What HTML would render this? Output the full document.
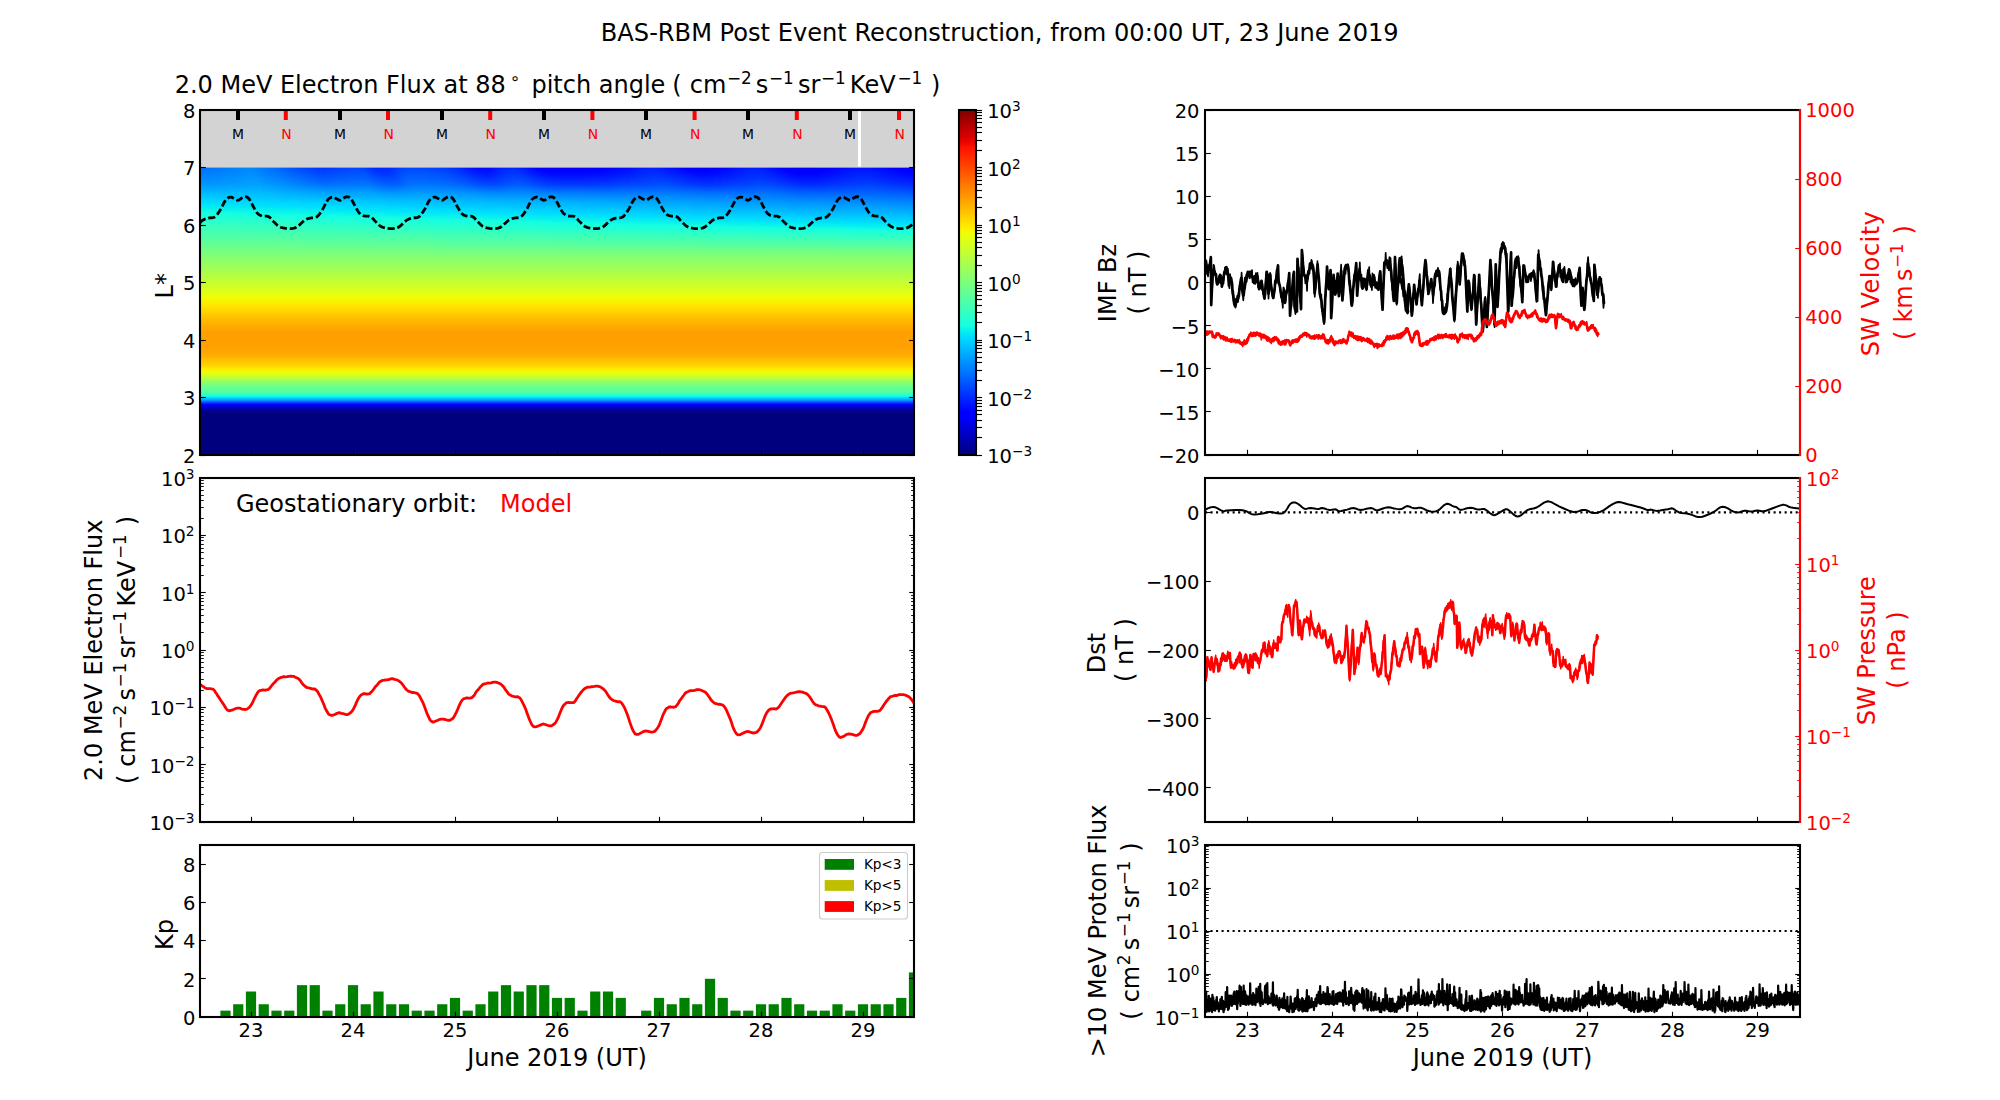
<!DOCTYPE html>
<html><head><meta charset="utf-8"><title>BAS-RBM Post Event Reconstruction</title>
<style>html,body{margin:0;padding:0;background:#fff}svg{display:block}</style></head>
<body>
<svg width="2000" height="1100" viewBox="0 0 2000 1100" font-family='"DejaVu Sans", "Liberation Sans", sans-serif'>
<rect width="2000" height="1100" fill="#fff"/>
<defs>
<linearGradient id="hm" x1="0" y1="0" x2="0" y2="1">
<stop offset="0.0000" stop-color="#2d2d2d"/>
<stop offset="0.0067" stop-color="#2e2e2e"/>
<stop offset="0.0133" stop-color="#2f2f2f"/>
<stop offset="0.0200" stop-color="#313131"/>
<stop offset="0.0267" stop-color="#323232"/>
<stop offset="0.0333" stop-color="#343434"/>
<stop offset="0.0400" stop-color="#353535"/>
<stop offset="0.0467" stop-color="#373737"/>
<stop offset="0.0533" stop-color="#383838"/>
<stop offset="0.0600" stop-color="#3a3a3a"/>
<stop offset="0.0667" stop-color="#3c3c3c"/>
<stop offset="0.0733" stop-color="#3d3d3d"/>
<stop offset="0.0800" stop-color="#3f3f3f"/>
<stop offset="0.0867" stop-color="#414141"/>
<stop offset="0.0933" stop-color="#424242"/>
<stop offset="0.1000" stop-color="#444444"/>
<stop offset="0.1067" stop-color="#464646"/>
<stop offset="0.1133" stop-color="#474747"/>
<stop offset="0.1200" stop-color="#494949"/>
<stop offset="0.1267" stop-color="#4b4b4b"/>
<stop offset="0.1333" stop-color="#4c4c4c"/>
<stop offset="0.1400" stop-color="#4e4e4e"/>
<stop offset="0.1467" stop-color="#505050"/>
<stop offset="0.1533" stop-color="#515151"/>
<stop offset="0.1600" stop-color="#535353"/>
<stop offset="0.1667" stop-color="#555555"/>
<stop offset="0.1733" stop-color="#575757"/>
<stop offset="0.1800" stop-color="#585858"/>
<stop offset="0.1867" stop-color="#5a5a5a"/>
<stop offset="0.1933" stop-color="#5c5c5c"/>
<stop offset="0.2000" stop-color="#5e5e5e"/>
<stop offset="0.2067" stop-color="#606060"/>
<stop offset="0.2133" stop-color="#626262"/>
<stop offset="0.2200" stop-color="#646464"/>
<stop offset="0.2267" stop-color="#666666"/>
<stop offset="0.2333" stop-color="#686868"/>
<stop offset="0.2400" stop-color="#6b6b6b"/>
<stop offset="0.2467" stop-color="#6d6d6d"/>
<stop offset="0.2533" stop-color="#6f6f6f"/>
<stop offset="0.2600" stop-color="#727272"/>
<stop offset="0.2667" stop-color="#747474"/>
<stop offset="0.2733" stop-color="#767676"/>
<stop offset="0.2800" stop-color="#797979"/>
<stop offset="0.2867" stop-color="#7b7b7b"/>
<stop offset="0.2933" stop-color="#7d7d7d"/>
<stop offset="0.3000" stop-color="#808080"/>
<stop offset="0.3067" stop-color="#818181"/>
<stop offset="0.3133" stop-color="#838383"/>
<stop offset="0.3200" stop-color="#848484"/>
<stop offset="0.3267" stop-color="#868686"/>
<stop offset="0.3333" stop-color="#878787"/>
<stop offset="0.3400" stop-color="#898989"/>
<stop offset="0.3467" stop-color="#8a8a8a"/>
<stop offset="0.3533" stop-color="#8c8c8c"/>
<stop offset="0.3600" stop-color="#8d8d8d"/>
<stop offset="0.3667" stop-color="#8f8f8f"/>
<stop offset="0.3733" stop-color="#909090"/>
<stop offset="0.3800" stop-color="#929292"/>
<stop offset="0.3867" stop-color="#939393"/>
<stop offset="0.3933" stop-color="#959595"/>
<stop offset="0.4000" stop-color="#979797"/>
<stop offset="0.4067" stop-color="#989898"/>
<stop offset="0.4133" stop-color="#9a9a9a"/>
<stop offset="0.4200" stop-color="#9b9b9b"/>
<stop offset="0.4267" stop-color="#9d9d9d"/>
<stop offset="0.4333" stop-color="#9f9f9f"/>
<stop offset="0.4400" stop-color="#a0a0a0"/>
<stop offset="0.4467" stop-color="#a2a2a2"/>
<stop offset="0.4533" stop-color="#a4a4a4"/>
<stop offset="0.4600" stop-color="#a5a5a5"/>
<stop offset="0.4667" stop-color="#a7a7a7"/>
<stop offset="0.4733" stop-color="#a8a8a8"/>
<stop offset="0.4800" stop-color="#aaaaaa"/>
<stop offset="0.4867" stop-color="#ababab"/>
<stop offset="0.4933" stop-color="#adadad"/>
<stop offset="0.5000" stop-color="#aeaeae"/>
<stop offset="0.5067" stop-color="#b0b0b0"/>
<stop offset="0.5133" stop-color="#b2b2b2"/>
<stop offset="0.5200" stop-color="#b3b3b3"/>
<stop offset="0.5267" stop-color="#b5b5b5"/>
<stop offset="0.5333" stop-color="#b6b6b6"/>
<stop offset="0.5400" stop-color="#b7b7b7"/>
<stop offset="0.5467" stop-color="#b9b9b9"/>
<stop offset="0.5533" stop-color="#bababa"/>
<stop offset="0.5600" stop-color="#bbbbbb"/>
<stop offset="0.5667" stop-color="#bcbcbc"/>
<stop offset="0.5733" stop-color="#bdbdbd"/>
<stop offset="0.5800" stop-color="#bdbdbd"/>
<stop offset="0.5867" stop-color="#bdbdbd"/>
<stop offset="0.5933" stop-color="#bdbdbd"/>
<stop offset="0.6000" stop-color="#bdbdbd"/>
<stop offset="0.6067" stop-color="#bdbdbd"/>
<stop offset="0.6133" stop-color="#bdbdbd"/>
<stop offset="0.6200" stop-color="#bdbdbd"/>
<stop offset="0.6267" stop-color="#bcbcbc"/>
<stop offset="0.6333" stop-color="#bcbcbc"/>
<stop offset="0.6400" stop-color="#bbbbbb"/>
<stop offset="0.6467" stop-color="#bababa"/>
<stop offset="0.6533" stop-color="#b9b9b9"/>
<stop offset="0.6600" stop-color="#b7b7b7"/>
<stop offset="0.6667" stop-color="#b5b5b5"/>
<stop offset="0.6733" stop-color="#b3b3b3"/>
<stop offset="0.6800" stop-color="#b2b2b2"/>
<stop offset="0.6867" stop-color="#afafaf"/>
<stop offset="0.6933" stop-color="#acacac"/>
<stop offset="0.7000" stop-color="#a9a9a9"/>
<stop offset="0.7067" stop-color="#a6a6a6"/>
<stop offset="0.7133" stop-color="#a2a2a2"/>
<stop offset="0.7200" stop-color="#9d9d9d"/>
<stop offset="0.7267" stop-color="#979797"/>
<stop offset="0.7333" stop-color="#929292"/>
<stop offset="0.7400" stop-color="#8c8c8c"/>
<stop offset="0.7467" stop-color="#858585"/>
<stop offset="0.7533" stop-color="#7f7f7f"/>
<stop offset="0.7600" stop-color="#7c7c7c"/>
<stop offset="0.7667" stop-color="#797979"/>
<stop offset="0.7733" stop-color="#767676"/>
<stop offset="0.7800" stop-color="#737373"/>
<stop offset="0.7867" stop-color="#6b6b6b"/>
<stop offset="0.7933" stop-color="#636363"/>
<stop offset="0.8000" stop-color="#585858"/>
<stop offset="0.8067" stop-color="#4b4b4b"/>
<stop offset="0.8133" stop-color="#3d3d3d"/>
<stop offset="0.8200" stop-color="#2a2a2a"/>
<stop offset="0.8267" stop-color="#1a1a1a"/>
<stop offset="0.8333" stop-color="#111111"/>
<stop offset="0.8400" stop-color="#090909"/>
<stop offset="0.8467" stop-color="#030303"/>
<stop offset="0.8533" stop-color="#000000"/>
<stop offset="0.8600" stop-color="#000000"/>
<stop offset="0.8667" stop-color="#000000"/>
<stop offset="0.8733" stop-color="#000000"/>
<stop offset="0.8800" stop-color="#000000"/>
<stop offset="0.8867" stop-color="#000000"/>
<stop offset="0.8933" stop-color="#000000"/>
<stop offset="0.9000" stop-color="#000000"/>
<stop offset="0.9067" stop-color="#000000"/>
<stop offset="0.9133" stop-color="#000000"/>
<stop offset="0.9200" stop-color="#000000"/>
<stop offset="0.9267" stop-color="#000000"/>
<stop offset="0.9333" stop-color="#000000"/>
<stop offset="0.9400" stop-color="#000000"/>
<stop offset="0.9467" stop-color="#000000"/>
<stop offset="0.9533" stop-color="#000000"/>
<stop offset="0.9600" stop-color="#000000"/>
<stop offset="0.9667" stop-color="#000000"/>
<stop offset="0.9733" stop-color="#000000"/>
<stop offset="0.9800" stop-color="#000000"/>
<stop offset="0.9867" stop-color="#000000"/>
<stop offset="0.9933" stop-color="#000000"/>
<stop offset="1.0000" stop-color="#000000"/>
</linearGradient>
<linearGradient id="c0" x1="0" y1="0" x2="0" y2="1">
<stop offset="0.00" stop-color="#3b3b3b"/>
<stop offset="0.10" stop-color="#404040"/>
<stop offset="0.20" stop-color="#464646"/>
<stop offset="0.30" stop-color="#4f4f4f"/>
<stop offset="0.40" stop-color="#575757"/>
<stop offset="0.50" stop-color="#5e5e5e"/>
<stop offset="0.60" stop-color="#656565"/>
<stop offset="0.70" stop-color="#6c6c6c"/>
<stop offset="0.80" stop-color="#727272"/>
<stop offset="0.90" stop-color="#797979"/>
<stop offset="1.00" stop-color="#808080"/>
</linearGradient>
<linearGradient id="c1" x1="0" y1="0" x2="0" y2="1">
<stop offset="0.00" stop-color="#3b3b3b"/>
<stop offset="0.10" stop-color="#404040"/>
<stop offset="0.20" stop-color="#464646"/>
<stop offset="0.30" stop-color="#4f4f4f"/>
<stop offset="0.40" stop-color="#575757"/>
<stop offset="0.50" stop-color="#5e5e5e"/>
<stop offset="0.60" stop-color="#656565"/>
<stop offset="0.70" stop-color="#6c6c6c"/>
<stop offset="0.80" stop-color="#727272"/>
<stop offset="0.90" stop-color="#797979"/>
<stop offset="1.00" stop-color="#808080"/>
</linearGradient>
<linearGradient id="c2" x1="0" y1="0" x2="0" y2="1">
<stop offset="0.00" stop-color="#3b3b3b"/>
<stop offset="0.10" stop-color="#404040"/>
<stop offset="0.20" stop-color="#464646"/>
<stop offset="0.30" stop-color="#4f4f4f"/>
<stop offset="0.40" stop-color="#575757"/>
<stop offset="0.50" stop-color="#5e5e5e"/>
<stop offset="0.60" stop-color="#656565"/>
<stop offset="0.70" stop-color="#6c6c6c"/>
<stop offset="0.80" stop-color="#727272"/>
<stop offset="0.90" stop-color="#797979"/>
<stop offset="1.00" stop-color="#808080"/>
</linearGradient>
<linearGradient id="c3" x1="0" y1="0" x2="0" y2="1">
<stop offset="0.00" stop-color="#3b3b3b"/>
<stop offset="0.10" stop-color="#404040"/>
<stop offset="0.20" stop-color="#464646"/>
<stop offset="0.30" stop-color="#4f4f4f"/>
<stop offset="0.40" stop-color="#575757"/>
<stop offset="0.50" stop-color="#5e5e5e"/>
<stop offset="0.60" stop-color="#656565"/>
<stop offset="0.70" stop-color="#6c6c6c"/>
<stop offset="0.80" stop-color="#727272"/>
<stop offset="0.90" stop-color="#797979"/>
<stop offset="1.00" stop-color="#808080"/>
</linearGradient>
<linearGradient id="c4" x1="0" y1="0" x2="0" y2="1">
<stop offset="0.00" stop-color="#3b3b3b"/>
<stop offset="0.10" stop-color="#404040"/>
<stop offset="0.20" stop-color="#464646"/>
<stop offset="0.30" stop-color="#4f4f4f"/>
<stop offset="0.40" stop-color="#575757"/>
<stop offset="0.50" stop-color="#5e5e5e"/>
<stop offset="0.60" stop-color="#656565"/>
<stop offset="0.70" stop-color="#6c6c6c"/>
<stop offset="0.80" stop-color="#727272"/>
<stop offset="0.90" stop-color="#797979"/>
<stop offset="1.00" stop-color="#808080"/>
</linearGradient>
<linearGradient id="c5" x1="0" y1="0" x2="0" y2="1">
<stop offset="0.00" stop-color="#3c3c3c"/>
<stop offset="0.10" stop-color="#414141"/>
<stop offset="0.20" stop-color="#464646"/>
<stop offset="0.30" stop-color="#4f4f4f"/>
<stop offset="0.40" stop-color="#565656"/>
<stop offset="0.50" stop-color="#5d5d5d"/>
<stop offset="0.60" stop-color="#656565"/>
<stop offset="0.70" stop-color="#6c6c6c"/>
<stop offset="0.80" stop-color="#727272"/>
<stop offset="0.90" stop-color="#797979"/>
<stop offset="1.00" stop-color="#808080"/>
</linearGradient>
<linearGradient id="c6" x1="0" y1="0" x2="0" y2="1">
<stop offset="0.00" stop-color="#3e3e3e"/>
<stop offset="0.10" stop-color="#424242"/>
<stop offset="0.20" stop-color="#474747"/>
<stop offset="0.30" stop-color="#4f4f4f"/>
<stop offset="0.40" stop-color="#565656"/>
<stop offset="0.50" stop-color="#5d5d5d"/>
<stop offset="0.60" stop-color="#646464"/>
<stop offset="0.70" stop-color="#6b6b6b"/>
<stop offset="0.80" stop-color="#727272"/>
<stop offset="0.90" stop-color="#797979"/>
<stop offset="1.00" stop-color="#808080"/>
</linearGradient>
<linearGradient id="c7" x1="0" y1="0" x2="0" y2="1">
<stop offset="0.00" stop-color="#404040"/>
<stop offset="0.10" stop-color="#434343"/>
<stop offset="0.20" stop-color="#484848"/>
<stop offset="0.30" stop-color="#4f4f4f"/>
<stop offset="0.40" stop-color="#565656"/>
<stop offset="0.50" stop-color="#5d5d5d"/>
<stop offset="0.60" stop-color="#646464"/>
<stop offset="0.70" stop-color="#6b6b6b"/>
<stop offset="0.80" stop-color="#727272"/>
<stop offset="0.90" stop-color="#797979"/>
<stop offset="1.00" stop-color="#808080"/>
</linearGradient>
<linearGradient id="c8" x1="0" y1="0" x2="0" y2="1">
<stop offset="0.00" stop-color="#424242"/>
<stop offset="0.10" stop-color="#454545"/>
<stop offset="0.20" stop-color="#494949"/>
<stop offset="0.30" stop-color="#4f4f4f"/>
<stop offset="0.40" stop-color="#555555"/>
<stop offset="0.50" stop-color="#5c5c5c"/>
<stop offset="0.60" stop-color="#646464"/>
<stop offset="0.70" stop-color="#6b6b6b"/>
<stop offset="0.80" stop-color="#727272"/>
<stop offset="0.90" stop-color="#797979"/>
<stop offset="1.00" stop-color="#808080"/>
</linearGradient>
<linearGradient id="c9" x1="0" y1="0" x2="0" y2="1">
<stop offset="0.00" stop-color="#3e3e3e"/>
<stop offset="0.10" stop-color="#414141"/>
<stop offset="0.20" stop-color="#464646"/>
<stop offset="0.30" stop-color="#4e4e4e"/>
<stop offset="0.40" stop-color="#555555"/>
<stop offset="0.50" stop-color="#5c5c5c"/>
<stop offset="0.60" stop-color="#636363"/>
<stop offset="0.70" stop-color="#6a6a6a"/>
<stop offset="0.80" stop-color="#717171"/>
<stop offset="0.90" stop-color="#787878"/>
<stop offset="1.00" stop-color="#808080"/>
</linearGradient>
<linearGradient id="c10" x1="0" y1="0" x2="0" y2="1">
<stop offset="0.00" stop-color="#3a3a3a"/>
<stop offset="0.10" stop-color="#3e3e3e"/>
<stop offset="0.20" stop-color="#444444"/>
<stop offset="0.30" stop-color="#4c4c4c"/>
<stop offset="0.40" stop-color="#545454"/>
<stop offset="0.50" stop-color="#5c5c5c"/>
<stop offset="0.60" stop-color="#636363"/>
<stop offset="0.70" stop-color="#6a6a6a"/>
<stop offset="0.80" stop-color="#717171"/>
<stop offset="0.90" stop-color="#787878"/>
<stop offset="1.00" stop-color="#808080"/>
</linearGradient>
<linearGradient id="c11" x1="0" y1="0" x2="0" y2="1">
<stop offset="0.00" stop-color="#353535"/>
<stop offset="0.10" stop-color="#3a3a3a"/>
<stop offset="0.20" stop-color="#414141"/>
<stop offset="0.30" stop-color="#4b4b4b"/>
<stop offset="0.40" stop-color="#545454"/>
<stop offset="0.50" stop-color="#5b5b5b"/>
<stop offset="0.60" stop-color="#626262"/>
<stop offset="0.70" stop-color="#6a6a6a"/>
<stop offset="0.80" stop-color="#717171"/>
<stop offset="0.90" stop-color="#787878"/>
<stop offset="1.00" stop-color="#808080"/>
</linearGradient>
<linearGradient id="c12" x1="0" y1="0" x2="0" y2="1">
<stop offset="0.00" stop-color="#313131"/>
<stop offset="0.10" stop-color="#373737"/>
<stop offset="0.20" stop-color="#3e3e3e"/>
<stop offset="0.30" stop-color="#4a4a4a"/>
<stop offset="0.40" stop-color="#535353"/>
<stop offset="0.50" stop-color="#5b5b5b"/>
<stop offset="0.60" stop-color="#626262"/>
<stop offset="0.70" stop-color="#696969"/>
<stop offset="0.80" stop-color="#717171"/>
<stop offset="0.90" stop-color="#787878"/>
<stop offset="1.00" stop-color="#808080"/>
</linearGradient>
<linearGradient id="c13" x1="0" y1="0" x2="0" y2="1">
<stop offset="0.00" stop-color="#2d2d2d"/>
<stop offset="0.10" stop-color="#333333"/>
<stop offset="0.20" stop-color="#3c3c3c"/>
<stop offset="0.30" stop-color="#494949"/>
<stop offset="0.40" stop-color="#535353"/>
<stop offset="0.50" stop-color="#5a5a5a"/>
<stop offset="0.60" stop-color="#626262"/>
<stop offset="0.70" stop-color="#696969"/>
<stop offset="0.80" stop-color="#717171"/>
<stop offset="0.90" stop-color="#787878"/>
<stop offset="1.00" stop-color="#808080"/>
</linearGradient>
<linearGradient id="c14" x1="0" y1="0" x2="0" y2="1">
<stop offset="0.00" stop-color="#2f2f2f"/>
<stop offset="0.10" stop-color="#353535"/>
<stop offset="0.20" stop-color="#3d3d3d"/>
<stop offset="0.30" stop-color="#494949"/>
<stop offset="0.40" stop-color="#535353"/>
<stop offset="0.50" stop-color="#5a5a5a"/>
<stop offset="0.60" stop-color="#616161"/>
<stop offset="0.70" stop-color="#696969"/>
<stop offset="0.80" stop-color="#707070"/>
<stop offset="0.90" stop-color="#787878"/>
<stop offset="1.00" stop-color="#808080"/>
</linearGradient>
<linearGradient id="c15" x1="0" y1="0" x2="0" y2="1">
<stop offset="0.00" stop-color="#313131"/>
<stop offset="0.10" stop-color="#363636"/>
<stop offset="0.20" stop-color="#3e3e3e"/>
<stop offset="0.30" stop-color="#494949"/>
<stop offset="0.40" stop-color="#525252"/>
<stop offset="0.50" stop-color="#5a5a5a"/>
<stop offset="0.60" stop-color="#616161"/>
<stop offset="0.70" stop-color="#696969"/>
<stop offset="0.80" stop-color="#707070"/>
<stop offset="0.90" stop-color="#787878"/>
<stop offset="1.00" stop-color="#808080"/>
</linearGradient>
<linearGradient id="c16" x1="0" y1="0" x2="0" y2="1">
<stop offset="0.00" stop-color="#323232"/>
<stop offset="0.10" stop-color="#373737"/>
<stop offset="0.20" stop-color="#3e3e3e"/>
<stop offset="0.30" stop-color="#494949"/>
<stop offset="0.40" stop-color="#525252"/>
<stop offset="0.50" stop-color="#595959"/>
<stop offset="0.60" stop-color="#616161"/>
<stop offset="0.70" stop-color="#686868"/>
<stop offset="0.80" stop-color="#707070"/>
<stop offset="0.90" stop-color="#787878"/>
<stop offset="1.00" stop-color="#808080"/>
</linearGradient>
<linearGradient id="c17" x1="0" y1="0" x2="0" y2="1">
<stop offset="0.00" stop-color="#292929"/>
<stop offset="0.10" stop-color="#303030"/>
<stop offset="0.20" stop-color="#393939"/>
<stop offset="0.30" stop-color="#464646"/>
<stop offset="0.40" stop-color="#515151"/>
<stop offset="0.50" stop-color="#595959"/>
<stop offset="0.60" stop-color="#606060"/>
<stop offset="0.70" stop-color="#686868"/>
<stop offset="0.80" stop-color="#707070"/>
<stop offset="0.90" stop-color="#787878"/>
<stop offset="1.00" stop-color="#808080"/>
</linearGradient>
<linearGradient id="c18" x1="0" y1="0" x2="0" y2="1">
<stop offset="0.00" stop-color="#292929"/>
<stop offset="0.10" stop-color="#2f2f2f"/>
<stop offset="0.20" stop-color="#383838"/>
<stop offset="0.30" stop-color="#464646"/>
<stop offset="0.40" stop-color="#515151"/>
<stop offset="0.50" stop-color="#585858"/>
<stop offset="0.60" stop-color="#606060"/>
<stop offset="0.70" stop-color="#686868"/>
<stop offset="0.80" stop-color="#707070"/>
<stop offset="0.90" stop-color="#777777"/>
<stop offset="1.00" stop-color="#808080"/>
</linearGradient>
<linearGradient id="c19" x1="0" y1="0" x2="0" y2="1">
<stop offset="0.00" stop-color="#323232"/>
<stop offset="0.10" stop-color="#373737"/>
<stop offset="0.20" stop-color="#3d3d3d"/>
<stop offset="0.30" stop-color="#474747"/>
<stop offset="0.40" stop-color="#505050"/>
<stop offset="0.50" stop-color="#585858"/>
<stop offset="0.60" stop-color="#606060"/>
<stop offset="0.70" stop-color="#676767"/>
<stop offset="0.80" stop-color="#6f6f6f"/>
<stop offset="0.90" stop-color="#777777"/>
<stop offset="1.00" stop-color="#808080"/>
</linearGradient>
<linearGradient id="c20" x1="0" y1="0" x2="0" y2="1">
<stop offset="0.00" stop-color="#323232"/>
<stop offset="0.10" stop-color="#373737"/>
<stop offset="0.20" stop-color="#3d3d3d"/>
<stop offset="0.30" stop-color="#474747"/>
<stop offset="0.40" stop-color="#505050"/>
<stop offset="0.50" stop-color="#585858"/>
<stop offset="0.60" stop-color="#5f5f5f"/>
<stop offset="0.70" stop-color="#676767"/>
<stop offset="0.80" stop-color="#6f6f6f"/>
<stop offset="0.90" stop-color="#777777"/>
<stop offset="1.00" stop-color="#808080"/>
</linearGradient>
<linearGradient id="c21" x1="0" y1="0" x2="0" y2="1">
<stop offset="0.00" stop-color="#313131"/>
<stop offset="0.10" stop-color="#363636"/>
<stop offset="0.20" stop-color="#3c3c3c"/>
<stop offset="0.30" stop-color="#474747"/>
<stop offset="0.40" stop-color="#505050"/>
<stop offset="0.50" stop-color="#575757"/>
<stop offset="0.60" stop-color="#5f5f5f"/>
<stop offset="0.70" stop-color="#676767"/>
<stop offset="0.80" stop-color="#6f6f6f"/>
<stop offset="0.90" stop-color="#777777"/>
<stop offset="1.00" stop-color="#808080"/>
</linearGradient>
<linearGradient id="c22" x1="0" y1="0" x2="0" y2="1">
<stop offset="0.00" stop-color="#2f2f2f"/>
<stop offset="0.10" stop-color="#343434"/>
<stop offset="0.20" stop-color="#3b3b3b"/>
<stop offset="0.30" stop-color="#464646"/>
<stop offset="0.40" stop-color="#4f4f4f"/>
<stop offset="0.50" stop-color="#575757"/>
<stop offset="0.60" stop-color="#5f5f5f"/>
<stop offset="0.70" stop-color="#666666"/>
<stop offset="0.80" stop-color="#6f6f6f"/>
<stop offset="0.90" stop-color="#777777"/>
<stop offset="1.00" stop-color="#808080"/>
</linearGradient>
<linearGradient id="c23" x1="0" y1="0" x2="0" y2="1">
<stop offset="0.00" stop-color="#2a2a2a"/>
<stop offset="0.10" stop-color="#303030"/>
<stop offset="0.20" stop-color="#383838"/>
<stop offset="0.30" stop-color="#454545"/>
<stop offset="0.40" stop-color="#4f4f4f"/>
<stop offset="0.50" stop-color="#565656"/>
<stop offset="0.60" stop-color="#5e5e5e"/>
<stop offset="0.70" stop-color="#666666"/>
<stop offset="0.80" stop-color="#6e6e6e"/>
<stop offset="0.90" stop-color="#777777"/>
<stop offset="1.00" stop-color="#808080"/>
</linearGradient>
<linearGradient id="c24" x1="0" y1="0" x2="0" y2="1">
<stop offset="0.00" stop-color="#232323"/>
<stop offset="0.10" stop-color="#2a2a2a"/>
<stop offset="0.20" stop-color="#343434"/>
<stop offset="0.30" stop-color="#434343"/>
<stop offset="0.40" stop-color="#4e4e4e"/>
<stop offset="0.50" stop-color="#565656"/>
<stop offset="0.60" stop-color="#5e5e5e"/>
<stop offset="0.70" stop-color="#666666"/>
<stop offset="0.80" stop-color="#6e6e6e"/>
<stop offset="0.90" stop-color="#777777"/>
<stop offset="1.00" stop-color="#808080"/>
</linearGradient>
<linearGradient id="c25" x1="0" y1="0" x2="0" y2="1">
<stop offset="0.00" stop-color="#202020"/>
<stop offset="0.10" stop-color="#282828"/>
<stop offset="0.20" stop-color="#323232"/>
<stop offset="0.30" stop-color="#424242"/>
<stop offset="0.40" stop-color="#4e4e4e"/>
<stop offset="0.50" stop-color="#565656"/>
<stop offset="0.60" stop-color="#5e5e5e"/>
<stop offset="0.70" stop-color="#656565"/>
<stop offset="0.80" stop-color="#6e6e6e"/>
<stop offset="0.90" stop-color="#777777"/>
<stop offset="1.00" stop-color="#808080"/>
</linearGradient>
<linearGradient id="c26" x1="0" y1="0" x2="0" y2="1">
<stop offset="0.00" stop-color="#282828"/>
<stop offset="0.10" stop-color="#2e2e2e"/>
<stop offset="0.20" stop-color="#363636"/>
<stop offset="0.30" stop-color="#434343"/>
<stop offset="0.40" stop-color="#4d4d4d"/>
<stop offset="0.50" stop-color="#555555"/>
<stop offset="0.60" stop-color="#5d5d5d"/>
<stop offset="0.70" stop-color="#656565"/>
<stop offset="0.80" stop-color="#6e6e6e"/>
<stop offset="0.90" stop-color="#777777"/>
<stop offset="1.00" stop-color="#808080"/>
</linearGradient>
<linearGradient id="c27" x1="0" y1="0" x2="0" y2="1">
<stop offset="0.00" stop-color="#2a2a2a"/>
<stop offset="0.10" stop-color="#303030"/>
<stop offset="0.20" stop-color="#373737"/>
<stop offset="0.30" stop-color="#434343"/>
<stop offset="0.40" stop-color="#4d4d4d"/>
<stop offset="0.50" stop-color="#555555"/>
<stop offset="0.60" stop-color="#5d5d5d"/>
<stop offset="0.70" stop-color="#656565"/>
<stop offset="0.80" stop-color="#6e6e6e"/>
<stop offset="0.90" stop-color="#777777"/>
<stop offset="1.00" stop-color="#808080"/>
</linearGradient>
<linearGradient id="c28" x1="0" y1="0" x2="0" y2="1">
<stop offset="0.00" stop-color="#232323"/>
<stop offset="0.10" stop-color="#2a2a2a"/>
<stop offset="0.20" stop-color="#333333"/>
<stop offset="0.30" stop-color="#414141"/>
<stop offset="0.40" stop-color="#4d4d4d"/>
<stop offset="0.50" stop-color="#555555"/>
<stop offset="0.60" stop-color="#5c5c5c"/>
<stop offset="0.70" stop-color="#646464"/>
<stop offset="0.80" stop-color="#6d6d6d"/>
<stop offset="0.90" stop-color="#767676"/>
<stop offset="1.00" stop-color="#808080"/>
</linearGradient>
<linearGradient id="c29" x1="0" y1="0" x2="0" y2="1">
<stop offset="0.00" stop-color="#1d1d1d"/>
<stop offset="0.10" stop-color="#252525"/>
<stop offset="0.20" stop-color="#2f2f2f"/>
<stop offset="0.30" stop-color="#404040"/>
<stop offset="0.40" stop-color="#4c4c4c"/>
<stop offset="0.50" stop-color="#545454"/>
<stop offset="0.60" stop-color="#5c5c5c"/>
<stop offset="0.70" stop-color="#646464"/>
<stop offset="0.80" stop-color="#6d6d6d"/>
<stop offset="0.90" stop-color="#767676"/>
<stop offset="1.00" stop-color="#808080"/>
</linearGradient>
<linearGradient id="c30" x1="0" y1="0" x2="0" y2="1">
<stop offset="0.00" stop-color="#1c1c1c"/>
<stop offset="0.10" stop-color="#242424"/>
<stop offset="0.20" stop-color="#2f2f2f"/>
<stop offset="0.30" stop-color="#3f3f3f"/>
<stop offset="0.40" stop-color="#4c4c4c"/>
<stop offset="0.50" stop-color="#545454"/>
<stop offset="0.60" stop-color="#5c5c5c"/>
<stop offset="0.70" stop-color="#646464"/>
<stop offset="0.80" stop-color="#6d6d6d"/>
<stop offset="0.90" stop-color="#767676"/>
<stop offset="1.00" stop-color="#808080"/>
</linearGradient>
<linearGradient id="c31" x1="0" y1="0" x2="0" y2="1">
<stop offset="0.00" stop-color="#1d1d1d"/>
<stop offset="0.10" stop-color="#242424"/>
<stop offset="0.20" stop-color="#2f2f2f"/>
<stop offset="0.30" stop-color="#3f3f3f"/>
<stop offset="0.40" stop-color="#4b4b4b"/>
<stop offset="0.50" stop-color="#535353"/>
<stop offset="0.60" stop-color="#5b5b5b"/>
<stop offset="0.70" stop-color="#646464"/>
<stop offset="0.80" stop-color="#6d6d6d"/>
<stop offset="0.90" stop-color="#767676"/>
<stop offset="1.00" stop-color="#808080"/>
</linearGradient>
<linearGradient id="c32" x1="0" y1="0" x2="0" y2="1">
<stop offset="0.00" stop-color="#1d1d1d"/>
<stop offset="0.10" stop-color="#252525"/>
<stop offset="0.20" stop-color="#2f2f2f"/>
<stop offset="0.30" stop-color="#3f3f3f"/>
<stop offset="0.40" stop-color="#4b4b4b"/>
<stop offset="0.50" stop-color="#535353"/>
<stop offset="0.60" stop-color="#5b5b5b"/>
<stop offset="0.70" stop-color="#636363"/>
<stop offset="0.80" stop-color="#6d6d6d"/>
<stop offset="0.90" stop-color="#767676"/>
<stop offset="1.00" stop-color="#808080"/>
</linearGradient>
<linearGradient id="c33" x1="0" y1="0" x2="0" y2="1">
<stop offset="0.00" stop-color="#1e1e1e"/>
<stop offset="0.10" stop-color="#252525"/>
<stop offset="0.20" stop-color="#2f2f2f"/>
<stop offset="0.30" stop-color="#3e3e3e"/>
<stop offset="0.40" stop-color="#4a4a4a"/>
<stop offset="0.50" stop-color="#535353"/>
<stop offset="0.60" stop-color="#5b5b5b"/>
<stop offset="0.70" stop-color="#636363"/>
<stop offset="0.80" stop-color="#6c6c6c"/>
<stop offset="0.90" stop-color="#767676"/>
<stop offset="1.00" stop-color="#808080"/>
</linearGradient>
<linearGradient id="c34" x1="0" y1="0" x2="0" y2="1">
<stop offset="0.00" stop-color="#202020"/>
<stop offset="0.10" stop-color="#272727"/>
<stop offset="0.20" stop-color="#313131"/>
<stop offset="0.30" stop-color="#3f3f3f"/>
<stop offset="0.40" stop-color="#4a4a4a"/>
<stop offset="0.50" stop-color="#525252"/>
<stop offset="0.60" stop-color="#5a5a5a"/>
<stop offset="0.70" stop-color="#636363"/>
<stop offset="0.80" stop-color="#6c6c6c"/>
<stop offset="0.90" stop-color="#767676"/>
<stop offset="1.00" stop-color="#808080"/>
</linearGradient>
<linearGradient id="c35" x1="0" y1="0" x2="0" y2="1">
<stop offset="0.00" stop-color="#232323"/>
<stop offset="0.10" stop-color="#292929"/>
<stop offset="0.20" stop-color="#323232"/>
<stop offset="0.30" stop-color="#3f3f3f"/>
<stop offset="0.40" stop-color="#4a4a4a"/>
<stop offset="0.50" stop-color="#525252"/>
<stop offset="0.60" stop-color="#5a5a5a"/>
<stop offset="0.70" stop-color="#626262"/>
<stop offset="0.80" stop-color="#6c6c6c"/>
<stop offset="0.90" stop-color="#767676"/>
<stop offset="1.00" stop-color="#808080"/>
</linearGradient>
<linearGradient id="c36" x1="0" y1="0" x2="0" y2="1">
<stop offset="0.00" stop-color="#262626"/>
<stop offset="0.10" stop-color="#2c2c2c"/>
<stop offset="0.20" stop-color="#333333"/>
<stop offset="0.30" stop-color="#3f3f3f"/>
<stop offset="0.40" stop-color="#494949"/>
<stop offset="0.50" stop-color="#515151"/>
<stop offset="0.60" stop-color="#5a5a5a"/>
<stop offset="0.70" stop-color="#626262"/>
<stop offset="0.80" stop-color="#6c6c6c"/>
<stop offset="0.90" stop-color="#767676"/>
<stop offset="1.00" stop-color="#808080"/>
</linearGradient>
<linearGradient id="c37" x1="0" y1="0" x2="0" y2="1">
<stop offset="0.00" stop-color="#282828"/>
<stop offset="0.10" stop-color="#2d2d2d"/>
<stop offset="0.20" stop-color="#343434"/>
<stop offset="0.30" stop-color="#3f3f3f"/>
<stop offset="0.40" stop-color="#494949"/>
<stop offset="0.50" stop-color="#515151"/>
<stop offset="0.60" stop-color="#595959"/>
<stop offset="0.70" stop-color="#626262"/>
<stop offset="0.80" stop-color="#6c6c6c"/>
<stop offset="0.90" stop-color="#757575"/>
<stop offset="1.00" stop-color="#808080"/>
</linearGradient>
<linearGradient id="c38" x1="0" y1="0" x2="0" y2="1">
<stop offset="0.00" stop-color="#242424"/>
<stop offset="0.10" stop-color="#2a2a2a"/>
<stop offset="0.20" stop-color="#323232"/>
<stop offset="0.30" stop-color="#3e3e3e"/>
<stop offset="0.40" stop-color="#484848"/>
<stop offset="0.50" stop-color="#515151"/>
<stop offset="0.60" stop-color="#595959"/>
<stop offset="0.70" stop-color="#616161"/>
<stop offset="0.80" stop-color="#6b6b6b"/>
<stop offset="0.90" stop-color="#757575"/>
<stop offset="1.00" stop-color="#808080"/>
</linearGradient>
<linearGradient id="c39" x1="0" y1="0" x2="0" y2="1">
<stop offset="0.00" stop-color="#202020"/>
<stop offset="0.10" stop-color="#272727"/>
<stop offset="0.20" stop-color="#2f2f2f"/>
<stop offset="0.30" stop-color="#3d3d3d"/>
<stop offset="0.40" stop-color="#484848"/>
<stop offset="0.50" stop-color="#505050"/>
<stop offset="0.60" stop-color="#595959"/>
<stop offset="0.70" stop-color="#616161"/>
<stop offset="0.80" stop-color="#6b6b6b"/>
<stop offset="0.90" stop-color="#757575"/>
<stop offset="1.00" stop-color="#808080"/>
</linearGradient>
<linearGradient id="c40" x1="0" y1="0" x2="0" y2="1">
<stop offset="0.00" stop-color="#1c1c1c"/>
<stop offset="0.10" stop-color="#242424"/>
<stop offset="0.20" stop-color="#2d2d2d"/>
<stop offset="0.30" stop-color="#3c3c3c"/>
<stop offset="0.40" stop-color="#474747"/>
<stop offset="0.50" stop-color="#505050"/>
<stop offset="0.60" stop-color="#585858"/>
<stop offset="0.70" stop-color="#616161"/>
<stop offset="0.80" stop-color="#6b6b6b"/>
<stop offset="0.90" stop-color="#757575"/>
<stop offset="1.00" stop-color="#808080"/>
</linearGradient>
<linearGradient id="c41" x1="0" y1="0" x2="0" y2="1">
<stop offset="0.00" stop-color="#1e1e1e"/>
<stop offset="0.10" stop-color="#252525"/>
<stop offset="0.20" stop-color="#2e2e2e"/>
<stop offset="0.30" stop-color="#3c3c3c"/>
<stop offset="0.40" stop-color="#474747"/>
<stop offset="0.50" stop-color="#4f4f4f"/>
<stop offset="0.60" stop-color="#585858"/>
<stop offset="0.70" stop-color="#606060"/>
<stop offset="0.80" stop-color="#6b6b6b"/>
<stop offset="0.90" stop-color="#757575"/>
<stop offset="1.00" stop-color="#808080"/>
</linearGradient>
<linearGradient id="c42" x1="0" y1="0" x2="0" y2="1">
<stop offset="0.00" stop-color="#212121"/>
<stop offset="0.10" stop-color="#272727"/>
<stop offset="0.20" stop-color="#303030"/>
<stop offset="0.30" stop-color="#3c3c3c"/>
<stop offset="0.40" stop-color="#474747"/>
<stop offset="0.50" stop-color="#4f4f4f"/>
<stop offset="0.60" stop-color="#585858"/>
<stop offset="0.70" stop-color="#606060"/>
<stop offset="0.80" stop-color="#6a6a6a"/>
<stop offset="0.90" stop-color="#757575"/>
<stop offset="1.00" stop-color="#808080"/>
</linearGradient>
<linearGradient id="c43" x1="0" y1="0" x2="0" y2="1">
<stop offset="0.00" stop-color="#252525"/>
<stop offset="0.10" stop-color="#2a2a2a"/>
<stop offset="0.20" stop-color="#313131"/>
<stop offset="0.30" stop-color="#3c3c3c"/>
<stop offset="0.40" stop-color="#464646"/>
<stop offset="0.50" stop-color="#4f4f4f"/>
<stop offset="0.60" stop-color="#575757"/>
<stop offset="0.70" stop-color="#606060"/>
<stop offset="0.80" stop-color="#6a6a6a"/>
<stop offset="0.90" stop-color="#757575"/>
<stop offset="1.00" stop-color="#808080"/>
</linearGradient>
<linearGradient id="c44" x1="0" y1="0" x2="0" y2="1">
<stop offset="0.00" stop-color="#282828"/>
<stop offset="0.10" stop-color="#2c2c2c"/>
<stop offset="0.20" stop-color="#333333"/>
<stop offset="0.30" stop-color="#3d3d3d"/>
<stop offset="0.40" stop-color="#464646"/>
<stop offset="0.50" stop-color="#4e4e4e"/>
<stop offset="0.60" stop-color="#575757"/>
<stop offset="0.70" stop-color="#5f5f5f"/>
<stop offset="0.80" stop-color="#6a6a6a"/>
<stop offset="0.90" stop-color="#757575"/>
<stop offset="1.00" stop-color="#808080"/>
</linearGradient>
<linearGradient id="c45" x1="0" y1="0" x2="0" y2="1">
<stop offset="0.00" stop-color="#252525"/>
<stop offset="0.10" stop-color="#2a2a2a"/>
<stop offset="0.20" stop-color="#313131"/>
<stop offset="0.30" stop-color="#3c3c3c"/>
<stop offset="0.40" stop-color="#454545"/>
<stop offset="0.50" stop-color="#4e4e4e"/>
<stop offset="0.60" stop-color="#575757"/>
<stop offset="0.70" stop-color="#5f5f5f"/>
<stop offset="0.80" stop-color="#6a6a6a"/>
<stop offset="0.90" stop-color="#757575"/>
<stop offset="1.00" stop-color="#808080"/>
</linearGradient>
<linearGradient id="c46" x1="0" y1="0" x2="0" y2="1">
<stop offset="0.00" stop-color="#202020"/>
<stop offset="0.10" stop-color="#262626"/>
<stop offset="0.20" stop-color="#2e2e2e"/>
<stop offset="0.30" stop-color="#3a3a3a"/>
<stop offset="0.40" stop-color="#454545"/>
<stop offset="0.50" stop-color="#4d4d4d"/>
<stop offset="0.60" stop-color="#565656"/>
<stop offset="0.70" stop-color="#5f5f5f"/>
<stop offset="0.80" stop-color="#6a6a6a"/>
<stop offset="0.90" stop-color="#757575"/>
<stop offset="1.00" stop-color="#808080"/>
</linearGradient>
<linearGradient id="c47" x1="0" y1="0" x2="0" y2="1">
<stop offset="0.00" stop-color="#1b1b1b"/>
<stop offset="0.10" stop-color="#222222"/>
<stop offset="0.20" stop-color="#2b2b2b"/>
<stop offset="0.30" stop-color="#393939"/>
<stop offset="0.40" stop-color="#444444"/>
<stop offset="0.50" stop-color="#4d4d4d"/>
<stop offset="0.60" stop-color="#565656"/>
<stop offset="0.70" stop-color="#5f5f5f"/>
<stop offset="0.80" stop-color="#696969"/>
<stop offset="0.90" stop-color="#747474"/>
<stop offset="1.00" stop-color="#808080"/>
</linearGradient>
<linearGradient id="c48" x1="0" y1="0" x2="0" y2="1">
<stop offset="0.00" stop-color="#1b1b1b"/>
<stop offset="0.10" stop-color="#222222"/>
<stop offset="0.20" stop-color="#2b2b2b"/>
<stop offset="0.30" stop-color="#393939"/>
<stop offset="0.40" stop-color="#444444"/>
<stop offset="0.50" stop-color="#4d4d4d"/>
<stop offset="0.60" stop-color="#555555"/>
<stop offset="0.70" stop-color="#5e5e5e"/>
<stop offset="0.80" stop-color="#696969"/>
<stop offset="0.90" stop-color="#747474"/>
<stop offset="1.00" stop-color="#808080"/>
</linearGradient>
<linearGradient id="c49" x1="0" y1="0" x2="0" y2="1">
<stop offset="0.00" stop-color="#1e1e1e"/>
<stop offset="0.10" stop-color="#242424"/>
<stop offset="0.20" stop-color="#2d2d2d"/>
<stop offset="0.30" stop-color="#393939"/>
<stop offset="0.40" stop-color="#444444"/>
<stop offset="0.50" stop-color="#4c4c4c"/>
<stop offset="0.60" stop-color="#555555"/>
<stop offset="0.70" stop-color="#5e5e5e"/>
<stop offset="0.80" stop-color="#696969"/>
<stop offset="0.90" stop-color="#747474"/>
<stop offset="1.00" stop-color="#808080"/>
</linearGradient>
<linearGradient id="c50" x1="0" y1="0" x2="0" y2="1">
<stop offset="0.00" stop-color="#212121"/>
<stop offset="0.10" stop-color="#272727"/>
<stop offset="0.20" stop-color="#2e2e2e"/>
<stop offset="0.30" stop-color="#393939"/>
<stop offset="0.40" stop-color="#434343"/>
<stop offset="0.50" stop-color="#4c4c4c"/>
<stop offset="0.60" stop-color="#555555"/>
<stop offset="0.70" stop-color="#5e5e5e"/>
<stop offset="0.80" stop-color="#696969"/>
<stop offset="0.90" stop-color="#747474"/>
<stop offset="1.00" stop-color="#808080"/>
</linearGradient>
<linearGradient id="c51" x1="0" y1="0" x2="0" y2="1">
<stop offset="0.00" stop-color="#242424"/>
<stop offset="0.10" stop-color="#292929"/>
<stop offset="0.20" stop-color="#303030"/>
<stop offset="0.30" stop-color="#393939"/>
<stop offset="0.40" stop-color="#434343"/>
<stop offset="0.50" stop-color="#4c4c4c"/>
<stop offset="0.60" stop-color="#545454"/>
<stop offset="0.70" stop-color="#5d5d5d"/>
<stop offset="0.80" stop-color="#696969"/>
<stop offset="0.90" stop-color="#747474"/>
<stop offset="1.00" stop-color="#808080"/>
</linearGradient>
<linearGradient id="c52" x1="0" y1="0" x2="0" y2="1">
<stop offset="0.00" stop-color="#252525"/>
<stop offset="0.10" stop-color="#2a2a2a"/>
<stop offset="0.20" stop-color="#303030"/>
<stop offset="0.30" stop-color="#393939"/>
<stop offset="0.40" stop-color="#424242"/>
<stop offset="0.50" stop-color="#4b4b4b"/>
<stop offset="0.60" stop-color="#545454"/>
<stop offset="0.70" stop-color="#5d5d5d"/>
<stop offset="0.80" stop-color="#686868"/>
<stop offset="0.90" stop-color="#747474"/>
<stop offset="1.00" stop-color="#808080"/>
</linearGradient>
<linearGradient id="c53" x1="0" y1="0" x2="0" y2="1">
<stop offset="0.00" stop-color="#232323"/>
<stop offset="0.10" stop-color="#272727"/>
<stop offset="0.20" stop-color="#2e2e2e"/>
<stop offset="0.30" stop-color="#383838"/>
<stop offset="0.40" stop-color="#424242"/>
<stop offset="0.50" stop-color="#4b4b4b"/>
<stop offset="0.60" stop-color="#545454"/>
<stop offset="0.70" stop-color="#5d5d5d"/>
<stop offset="0.80" stop-color="#686868"/>
<stop offset="0.90" stop-color="#747474"/>
<stop offset="1.00" stop-color="#808080"/>
</linearGradient>
<linearGradient id="c54" x1="0" y1="0" x2="0" y2="1">
<stop offset="0.00" stop-color="#202020"/>
<stop offset="0.10" stop-color="#252525"/>
<stop offset="0.20" stop-color="#2c2c2c"/>
<stop offset="0.30" stop-color="#373737"/>
<stop offset="0.40" stop-color="#414141"/>
<stop offset="0.50" stop-color="#4a4a4a"/>
<stop offset="0.60" stop-color="#535353"/>
<stop offset="0.70" stop-color="#5c5c5c"/>
<stop offset="0.80" stop-color="#686868"/>
<stop offset="0.90" stop-color="#747474"/>
<stop offset="1.00" stop-color="#808080"/>
</linearGradient>
<linearGradient id="c55" x1="0" y1="0" x2="0" y2="1">
<stop offset="0.00" stop-color="#1d1d1d"/>
<stop offset="0.10" stop-color="#232323"/>
<stop offset="0.20" stop-color="#2b2b2b"/>
<stop offset="0.30" stop-color="#363636"/>
<stop offset="0.40" stop-color="#414141"/>
<stop offset="0.50" stop-color="#4a4a4a"/>
<stop offset="0.60" stop-color="#535353"/>
<stop offset="0.70" stop-color="#5c5c5c"/>
<stop offset="0.80" stop-color="#686868"/>
<stop offset="0.90" stop-color="#747474"/>
<stop offset="1.00" stop-color="#808080"/>
</linearGradient>
<linearGradient id="c56" x1="0" y1="0" x2="0" y2="1">
<stop offset="0.00" stop-color="#1c1c1c"/>
<stop offset="0.10" stop-color="#222222"/>
<stop offset="0.20" stop-color="#2a2a2a"/>
<stop offset="0.30" stop-color="#363636"/>
<stop offset="0.40" stop-color="#414141"/>
<stop offset="0.50" stop-color="#4a4a4a"/>
<stop offset="0.60" stop-color="#535353"/>
<stop offset="0.70" stop-color="#5c5c5c"/>
<stop offset="0.80" stop-color="#686868"/>
<stop offset="0.90" stop-color="#747474"/>
<stop offset="1.00" stop-color="#808080"/>
</linearGradient>
<linearGradient id="c57" x1="0" y1="0" x2="0" y2="1">
<stop offset="0.00" stop-color="#1c1c1c"/>
<stop offset="0.10" stop-color="#222222"/>
<stop offset="0.20" stop-color="#2a2a2a"/>
<stop offset="0.30" stop-color="#363636"/>
<stop offset="0.40" stop-color="#414141"/>
<stop offset="0.50" stop-color="#4a4a4a"/>
<stop offset="0.60" stop-color="#535353"/>
<stop offset="0.70" stop-color="#5c5c5c"/>
<stop offset="0.80" stop-color="#686868"/>
<stop offset="0.90" stop-color="#747474"/>
<stop offset="1.00" stop-color="#808080"/>
</linearGradient>
<filter id="jetf" filterUnits="userSpaceOnUse" x="160.0" y="105.0" width="794.0" height="355.0" color-interpolation-filters="sRGB">
<feGaussianBlur stdDeviation="6 0"/>
<feComponentTransfer><feFuncR type="table" tableValues="0 0 0 0 0 0 0 0 0 0 0 0 0 0 0 0 0 0 0 0 0 0 0 0 0 0 0 0 0 0 0 0 0 0 0 0 0 0 0 0 0 0 0 0 0 0 0 0 0 0 0 0 0 0 0 0 0 0 0 0 0 0 0 0 0 0 0 0 0 0 0 0.016 0.032 0.048 0.065 0.081 0.097 0.113 0.129 0.145 0.161 0.177 0.194 0.21 0.226 0.242 0.258 0.274 0.29 0.306 0.323 0.339 0.355 0.371 0.387 0.403 0.419 0.435 0.452 0.468 0.484 0.5 0.516 0.532 0.548 0.565 0.581 0.597 0.613 0.629 0.645 0.661 0.677 0.694 0.71 0.726 0.742 0.758 0.774 0.79 0.806 0.823 0.839 0.855 0.871 0.887 0.903 0.919 0.935 0.952 0.968 0.984 1 1 1 1 1 1 1 1 1 1 1 1 1 1 1 1 1 1 1 1 1 1 1 1 1 1 1 1 1 1 1 1 1 1 1 1 1 1 1 1 1 1 1 1 1 1 1 0.977 0.955 0.932 0.909 0.886 0.864 0.841 0.818 0.795 0.773 0.75 0.727 0.705 0.682 0.659 0.636 0.614 0.591 0.568 0.545 0.523 0.5"/><feFuncG type="table" tableValues="0 0 0 0 0 0 0 0 0 0 0 0 0 0 0 0 0 0 0 0 0 0 0 0 0 0 0.02 0.04 0.06 0.08 0.1 0.12 0.14 0.16 0.18 0.2 0.22 0.24 0.26 0.28 0.3 0.32 0.34 0.36 0.38 0.4 0.42 0.44 0.46 0.48 0.5 0.52 0.54 0.56 0.58 0.6 0.62 0.64 0.66 0.68 0.7 0.72 0.74 0.76 0.78 0.8 0.82 0.84 0.86 0.88 0.9 0.92 0.94 0.96 0.98 1 1 1 1 1 1 1 1 1 1 1 1 1 1 1 1 1 1 1 1 1 1 1 1 1 1 1 1 1 1 1 1 1 1 1 1 1 1 1 1 1 1 1 1 1 1 1 1 1 1 1 1 1 1 0.981 0.963 0.944 0.926 0.907 0.889 0.87 0.852 0.833 0.815 0.796 0.778 0.759 0.741 0.722 0.704 0.685 0.667 0.648 0.63 0.611 0.593 0.574 0.556 0.537 0.519 0.5 0.481 0.463 0.444 0.426 0.407 0.389 0.37 0.352 0.333 0.315 0.296 0.278 0.259 0.241 0.222 0.204 0.185 0.167 0.148 0.13 0.111 0.093 0.074 0.056 0.037 0.019 0 0 0 0 0 0 0 0 0 0 0 0 0 0 0 0 0 0 0"/><feFuncB type="table" tableValues="0.5 0.523 0.545 0.568 0.591 0.614 0.636 0.659 0.682 0.705 0.727 0.75 0.773 0.795 0.818 0.841 0.864 0.886 0.909 0.932 0.955 0.977 1 1 1 1 1 1 1 1 1 1 1 1 1 1 1 1 1 1 1 1 1 1 1 1 1 1 1 1 1 1 1 1 1 1 1 1 1 1 1 1 1 1 1 1 1 1 1 0.984 0.968 0.952 0.935 0.919 0.903 0.887 0.871 0.855 0.839 0.823 0.806 0.79 0.774 0.758 0.742 0.726 0.71 0.694 0.677 0.661 0.645 0.629 0.613 0.597 0.581 0.565 0.548 0.532 0.516 0.5 0.484 0.468 0.452 0.435 0.419 0.403 0.387 0.371 0.355 0.339 0.323 0.306 0.29 0.274 0.258 0.242 0.226 0.21 0.194 0.177 0.161 0.145 0.129 0.113 0.097 0.081 0.065 0.048 0.032 0.016 0 0 0 0 0 0 0 0 0 0 0 0 0 0 0 0 0 0 0 0 0 0 0 0 0 0 0 0 0 0 0 0 0 0 0 0 0 0 0 0 0 0 0 0 0 0 0 0 0 0 0 0 0 0 0 0 0 0 0 0 0 0 0 0 0 0 0 0 0 0 0"/></feComponentTransfer>
</filter>
<linearGradient id="cb" x1="0" y1="1" x2="0" y2="0">
<stop offset="0.0000" stop-color="#000080"/>
<stop offset="0.0156" stop-color="#000092"/>
<stop offset="0.0312" stop-color="#0000a4"/>
<stop offset="0.0469" stop-color="#0000b6"/>
<stop offset="0.0625" stop-color="#0000c8"/>
<stop offset="0.0781" stop-color="#0000da"/>
<stop offset="0.0938" stop-color="#0000ec"/>
<stop offset="0.1094" stop-color="#0000fe"/>
<stop offset="0.1250" stop-color="#0000ff"/>
<stop offset="0.1406" stop-color="#0010ff"/>
<stop offset="0.1562" stop-color="#0020ff"/>
<stop offset="0.1719" stop-color="#0030ff"/>
<stop offset="0.1875" stop-color="#0040ff"/>
<stop offset="0.2031" stop-color="#0050ff"/>
<stop offset="0.2188" stop-color="#0060ff"/>
<stop offset="0.2344" stop-color="#0070ff"/>
<stop offset="0.2500" stop-color="#0080ff"/>
<stop offset="0.2656" stop-color="#008fff"/>
<stop offset="0.2812" stop-color="#009fff"/>
<stop offset="0.2969" stop-color="#00afff"/>
<stop offset="0.3125" stop-color="#00bfff"/>
<stop offset="0.3281" stop-color="#00cfff"/>
<stop offset="0.3438" stop-color="#00dffc"/>
<stop offset="0.3594" stop-color="#08efef"/>
<stop offset="0.3750" stop-color="#15ffe2"/>
<stop offset="0.3906" stop-color="#21ffd5"/>
<stop offset="0.4062" stop-color="#2effc9"/>
<stop offset="0.4219" stop-color="#3bffbc"/>
<stop offset="0.4375" stop-color="#48ffaf"/>
<stop offset="0.4531" stop-color="#55ffa2"/>
<stop offset="0.4688" stop-color="#62ff95"/>
<stop offset="0.4844" stop-color="#6fff88"/>
<stop offset="0.5000" stop-color="#7bff7b"/>
<stop offset="0.5156" stop-color="#88ff6f"/>
<stop offset="0.5312" stop-color="#95ff62"/>
<stop offset="0.5469" stop-color="#a2ff55"/>
<stop offset="0.5625" stop-color="#afff48"/>
<stop offset="0.5781" stop-color="#bcff3b"/>
<stop offset="0.5938" stop-color="#c9ff2e"/>
<stop offset="0.6094" stop-color="#d5ff21"/>
<stop offset="0.6250" stop-color="#e2ff15"/>
<stop offset="0.6406" stop-color="#effe08"/>
<stop offset="0.6562" stop-color="#fcf000"/>
<stop offset="0.6719" stop-color="#ffe100"/>
<stop offset="0.6875" stop-color="#ffd200"/>
<stop offset="0.7031" stop-color="#ffc300"/>
<stop offset="0.7188" stop-color="#ffb500"/>
<stop offset="0.7344" stop-color="#ffa600"/>
<stop offset="0.7500" stop-color="#ff9700"/>
<stop offset="0.7656" stop-color="#ff8800"/>
<stop offset="0.7812" stop-color="#ff7a00"/>
<stop offset="0.7969" stop-color="#ff6b00"/>
<stop offset="0.8125" stop-color="#ff5c00"/>
<stop offset="0.8281" stop-color="#ff4d00"/>
<stop offset="0.8438" stop-color="#ff3f00"/>
<stop offset="0.8594" stop-color="#ff3000"/>
<stop offset="0.8750" stop-color="#ff2100"/>
<stop offset="0.8906" stop-color="#fe1200"/>
<stop offset="0.9062" stop-color="#ec0400"/>
<stop offset="0.9219" stop-color="#da0000"/>
<stop offset="0.9375" stop-color="#c80000"/>
<stop offset="0.9531" stop-color="#b60000"/>
<stop offset="0.9688" stop-color="#a40000"/>
<stop offset="0.9844" stop-color="#920000"/>
<stop offset="1.0000" stop-color="#800000"/>
</linearGradient>
<clipPath id="cL1"><rect x="200.0" y="110.0" width="714.0" height="345.0"/></clipPath>
<clipPath id="cL2"><rect x="200.0" y="478.0" width="714.0" height="344.0"/></clipPath>
<clipPath id="cL3"><rect x="200.0" y="845.0" width="714.0" height="172.0"/></clipPath>
<clipPath id="cR1"><rect x="1205.0" y="110.0" width="595.0" height="345.0"/></clipPath>
<clipPath id="cR2"><rect x="1205.0" y="478.0" width="595.0" height="344.0"/></clipPath>
<clipPath id="cR3"><rect x="1205.0" y="845.0" width="595.0" height="172.0"/></clipPath>
</defs>
<text x="999.75" y="40.7" font-size="24.12" text-anchor="middle" fill="#000" >BAS-RBM Post Event Reconstruction, from 00:00 UT, 23 June 2019</text>
<rect x="200.0" y="110.0" width="714.0" height="58" fill="#d3d3d3"/>
<g clip-path="url(#cL1)"><g filter="url(#jetf)">
<rect x="160.0" y="167.5" width="794.0" height="287.5" fill="url(#hm)"/>
<g transform="translate(0,167.5) skewX(24) translate(0,-167.5)">
<rect x="129.5" y="167.5" width="15" height="86.25" fill="url(#c0)"/>
<rect x="143.5" y="167.5" width="15" height="86.25" fill="url(#c1)"/>
<rect x="157.5" y="167.5" width="15" height="86.25" fill="url(#c2)"/>
<rect x="171.5" y="167.5" width="15" height="86.25" fill="url(#c3)"/>
<rect x="185.5" y="167.5" width="15" height="86.25" fill="url(#c4)"/>
<rect x="199.5" y="167.5" width="15" height="86.25" fill="url(#c5)"/>
<rect x="213.5" y="167.5" width="15" height="86.25" fill="url(#c6)"/>
<rect x="227.5" y="167.5" width="15" height="86.25" fill="url(#c7)"/>
<rect x="241.5" y="167.5" width="15" height="86.25" fill="url(#c8)"/>
<rect x="255.5" y="167.5" width="15" height="86.25" fill="url(#c9)"/>
<rect x="269.5" y="167.5" width="15" height="86.25" fill="url(#c10)"/>
<rect x="283.5" y="167.5" width="15" height="86.25" fill="url(#c11)"/>
<rect x="297.5" y="167.5" width="15" height="86.25" fill="url(#c12)"/>
<rect x="311.5" y="167.5" width="15" height="86.25" fill="url(#c13)"/>
<rect x="325.5" y="167.5" width="15" height="86.25" fill="url(#c14)"/>
<rect x="339.5" y="167.5" width="15" height="86.25" fill="url(#c15)"/>
<rect x="353.5" y="167.5" width="15" height="86.25" fill="url(#c16)"/>
<rect x="367.5" y="167.5" width="15" height="86.25" fill="url(#c17)"/>
<rect x="381.5" y="167.5" width="15" height="86.25" fill="url(#c18)"/>
<rect x="395.5" y="167.5" width="15" height="86.25" fill="url(#c19)"/>
<rect x="409.5" y="167.5" width="15" height="86.25" fill="url(#c20)"/>
<rect x="423.5" y="167.5" width="15" height="86.25" fill="url(#c21)"/>
<rect x="437.5" y="167.5" width="15" height="86.25" fill="url(#c22)"/>
<rect x="451.5" y="167.5" width="15" height="86.25" fill="url(#c23)"/>
<rect x="465.5" y="167.5" width="15" height="86.25" fill="url(#c24)"/>
<rect x="479.5" y="167.5" width="15" height="86.25" fill="url(#c25)"/>
<rect x="493.5" y="167.5" width="15" height="86.25" fill="url(#c26)"/>
<rect x="507.5" y="167.5" width="15" height="86.25" fill="url(#c27)"/>
<rect x="521.5" y="167.5" width="15" height="86.25" fill="url(#c28)"/>
<rect x="535.5" y="167.5" width="15" height="86.25" fill="url(#c29)"/>
<rect x="549.5" y="167.5" width="15" height="86.25" fill="url(#c30)"/>
<rect x="563.5" y="167.5" width="15" height="86.25" fill="url(#c31)"/>
<rect x="577.5" y="167.5" width="15" height="86.25" fill="url(#c32)"/>
<rect x="591.5" y="167.5" width="15" height="86.25" fill="url(#c33)"/>
<rect x="605.5" y="167.5" width="15" height="86.25" fill="url(#c34)"/>
<rect x="619.5" y="167.5" width="15" height="86.25" fill="url(#c35)"/>
<rect x="633.5" y="167.5" width="15" height="86.25" fill="url(#c36)"/>
<rect x="647.5" y="167.5" width="15" height="86.25" fill="url(#c37)"/>
<rect x="661.5" y="167.5" width="15" height="86.25" fill="url(#c38)"/>
<rect x="675.5" y="167.5" width="15" height="86.25" fill="url(#c39)"/>
<rect x="689.5" y="167.5" width="15" height="86.25" fill="url(#c40)"/>
<rect x="703.5" y="167.5" width="15" height="86.25" fill="url(#c41)"/>
<rect x="717.5" y="167.5" width="15" height="86.25" fill="url(#c42)"/>
<rect x="731.5" y="167.5" width="15" height="86.25" fill="url(#c43)"/>
<rect x="745.5" y="167.5" width="15" height="86.25" fill="url(#c44)"/>
<rect x="759.5" y="167.5" width="15" height="86.25" fill="url(#c45)"/>
<rect x="773.5" y="167.5" width="15" height="86.25" fill="url(#c46)"/>
<rect x="787.5" y="167.5" width="15" height="86.25" fill="url(#c47)"/>
<rect x="801.5" y="167.5" width="15" height="86.25" fill="url(#c48)"/>
<rect x="815.5" y="167.5" width="15" height="86.25" fill="url(#c49)"/>
<rect x="829.5" y="167.5" width="15" height="86.25" fill="url(#c50)"/>
<rect x="843.5" y="167.5" width="15" height="86.25" fill="url(#c51)"/>
<rect x="857.5" y="167.5" width="15" height="86.25" fill="url(#c52)"/>
<rect x="871.5" y="167.5" width="15" height="86.25" fill="url(#c53)"/>
<rect x="885.5" y="167.5" width="15" height="86.25" fill="url(#c54)"/>
<rect x="899.5" y="167.5" width="15" height="86.25" fill="url(#c55)"/>
<rect x="913.5" y="167.5" width="15" height="86.25" fill="url(#c56)"/>
<rect x="927.5" y="167.5" width="15" height="86.25" fill="url(#c57)"/>
</g>
</g>
<rect x="200.0" y="110.0" width="714.0" height="57.5" fill="#d3d3d3"/>
</g>
<rect x="858" y="110.0" width="3" height="56.5" fill="#fff"/>
<line x1="238" y1="110" x2="238" y2="120" stroke="#000" stroke-width="4" />
<line x1="285.8" y1="110" x2="285.8" y2="120" stroke="#f00" stroke-width="4" />
<text x="238" y="139" font-size="13.9" text-anchor="middle" fill="#000" >M</text>
<text x="286.4" y="139" font-size="13.9" text-anchor="middle" fill="#f00" >N</text>
<line x1="340" y1="110" x2="340" y2="120" stroke="#000" stroke-width="4" />
<line x1="388" y1="110" x2="388" y2="120" stroke="#f00" stroke-width="4" />
<text x="340" y="139" font-size="13.9" text-anchor="middle" fill="#000" >M</text>
<text x="388.6" y="139" font-size="13.9" text-anchor="middle" fill="#f00" >N</text>
<line x1="442" y1="110" x2="442" y2="120" stroke="#000" stroke-width="4" />
<line x1="490.2" y1="110" x2="490.2" y2="120" stroke="#f00" stroke-width="4" />
<text x="442" y="139" font-size="13.9" text-anchor="middle" fill="#000" >M</text>
<text x="490.8" y="139" font-size="13.9" text-anchor="middle" fill="#f00" >N</text>
<line x1="544" y1="110" x2="544" y2="120" stroke="#000" stroke-width="4" />
<line x1="592.4" y1="110" x2="592.4" y2="120" stroke="#f00" stroke-width="4" />
<text x="544" y="139" font-size="13.9" text-anchor="middle" fill="#000" >M</text>
<text x="593" y="139" font-size="13.9" text-anchor="middle" fill="#f00" >N</text>
<line x1="646" y1="110" x2="646" y2="120" stroke="#000" stroke-width="4" />
<line x1="694.6" y1="110" x2="694.6" y2="120" stroke="#f00" stroke-width="4" />
<text x="646" y="139" font-size="13.9" text-anchor="middle" fill="#000" >M</text>
<text x="695.2" y="139" font-size="13.9" text-anchor="middle" fill="#f00" >N</text>
<line x1="748" y1="110" x2="748" y2="120" stroke="#000" stroke-width="4" />
<line x1="796.8" y1="110" x2="796.8" y2="120" stroke="#f00" stroke-width="4" />
<text x="748" y="139" font-size="13.9" text-anchor="middle" fill="#000" >M</text>
<text x="797.4" y="139" font-size="13.9" text-anchor="middle" fill="#f00" >N</text>
<line x1="850" y1="110" x2="850" y2="120" stroke="#000" stroke-width="4" />
<line x1="899" y1="110" x2="899" y2="120" stroke="#f00" stroke-width="4" />
<text x="850" y="139" font-size="13.9" text-anchor="middle" fill="#000" >M</text>
<text x="899.6" y="139" font-size="13.9" text-anchor="middle" fill="#f00" >N</text>
<path d="M200,222.9 L200.4,222.42 L200.96,221.72 L201.69,220.95 L202.6,220.26 L203.76,219.65 L205.14,219.05 L206.63,218.51 L208.16,218.04 L209.73,217.82 L211.39,217.77 L213.06,217.58 L214.63,216.93 L216.08,215.7 L217.46,214.07 L218.82,212.16 L220.18,210.08 L221.59,207.6 L223.01,204.74 L224.41,202.01 L225.73,199.91 L226.97,198.6 L228.16,197.8 L229.29,197.37 L230.36,197.13 L231.34,197.16 L232.25,197.49 L233.14,197.97 L234.06,198.43 L235.03,198.95 L236.03,199.57 L237.03,200.09 L238,200.28 L238.94,199.99 L239.87,199.36 L240.78,198.64 L241.7,198.06 L242.63,197.59 L243.55,197.13 L244.48,196.82 L245.4,196.76 L246.3,196.93 L247.19,197.27 L248.11,197.92 L249.1,198.98 L250.21,200.69 L251.41,202.91 L252.61,205.25 L253.73,207.31 L254.69,209.03 L255.58,210.62 L256.46,212.03 L257.43,213.23 L258.47,214.2 L259.57,214.95 L260.74,215.54 L262.05,216 L263.56,216.18 L265.23,216.11 L266.93,216.12 L268.53,216.56 L269.96,217.6 L271.3,219.04 L272.65,220.63 L274.08,222.11 L275.54,223.52 L277.03,224.97 L278.65,226.28 L280.55,227.29 L282.92,227.96 L285.64,228.38 L288.36,228.57 L290.73,228.58 L292.59,228.45 L294.14,228.15 L295.61,227.6 L297.2,226.73 L299.03,225.34 L300.96,223.52 L302.86,221.69 L304.6,220.26 L306.1,219.38 L307.44,218.81 L308.75,218.42 L310.16,218.04 L311.73,217.82 L313.39,217.77 L315.06,217.58 L316.63,216.93 L318.08,215.7 L319.46,214.07 L320.82,212.16 L322.18,210.08 L323.59,207.6 L325.01,204.74 L326.41,202.01 L327.73,199.91 L328.97,198.6 L330.16,197.8 L331.29,197.37 L332.36,197.13 L333.34,197.16 L334.25,197.49 L335.14,197.97 L336.06,198.43 L337.03,198.95 L338.03,199.57 L339.03,200.09 L340,200.28 L340.94,199.99 L341.87,199.36 L342.78,198.64 L343.7,198.06 L344.63,197.59 L345.55,197.13 L346.48,196.82 L347.4,196.76 L348.3,196.93 L349.19,197.27 L350.11,197.92 L351.1,198.98 L352.21,200.69 L353.41,202.91 L354.61,205.25 L355.73,207.31 L356.69,209.03 L357.58,210.62 L358.46,212.03 L359.43,213.23 L360.47,214.2 L361.57,214.95 L362.74,215.54 L364.05,216 L365.56,216.18 L367.23,216.11 L368.93,216.12 L370.53,216.56 L371.96,217.6 L373.3,219.04 L374.65,220.63 L376.08,222.11 L377.54,223.52 L379.03,224.97 L380.65,226.28 L382.55,227.29 L384.92,227.96 L387.64,228.38 L390.36,228.57 L392.73,228.58 L394.59,228.45 L396.14,228.15 L397.61,227.6 L399.2,226.73 L401.03,225.34 L402.96,223.52 L404.86,221.69 L406.6,220.26 L408.1,219.38 L409.44,218.81 L410.75,218.42 L412.16,218.04 L413.73,217.82 L415.39,217.77 L417.06,217.58 L418.63,216.93 L420.08,215.7 L421.46,214.07 L422.82,212.16 L424.18,210.08 L425.59,207.6 L427.01,204.74 L428.41,202.01 L429.73,199.91 L430.97,198.6 L432.16,197.8 L433.29,197.37 L434.36,197.13 L435.34,197.16 L436.25,197.49 L437.14,197.97 L438.06,198.43 L439.03,198.95 L440.03,199.57 L441.03,200.09 L442,200.28 L442.94,199.99 L443.87,199.36 L444.78,198.64 L445.7,198.06 L446.63,197.59 L447.55,197.13 L448.48,196.82 L449.4,196.76 L450.3,196.93 L451.19,197.27 L452.11,197.92 L453.1,198.98 L454.21,200.69 L455.41,202.91 L456.61,205.25 L457.73,207.31 L458.69,209.03 L459.58,210.62 L460.46,212.03 L461.43,213.23 L462.47,214.2 L463.57,214.95 L464.74,215.54 L466.05,216 L467.56,216.18 L469.23,216.11 L470.93,216.12 L472.53,216.56 L473.96,217.6 L475.3,219.04 L476.65,220.63 L478.08,222.11 L479.54,223.52 L481.03,224.97 L482.65,226.28 L484.55,227.29 L486.92,227.96 L489.64,228.38 L492.36,228.57 L494.73,228.58 L496.59,228.45 L498.14,228.15 L499.61,227.6 L501.2,226.73 L503.03,225.34 L504.96,223.52 L506.86,221.69 L508.6,220.26 L510.1,219.38 L511.44,218.81 L512.75,218.42 L514.16,218.04 L515.73,217.82 L517.39,217.77 L519.06,217.58 L520.63,216.93 L522.08,215.7 L523.46,214.07 L524.82,212.16 L526.18,210.08 L527.59,207.6 L529.01,204.74 L530.41,202.01 L531.73,199.91 L532.97,198.6 L534.16,197.8 L535.29,197.37 L536.36,197.13 L537.34,197.16 L538.25,197.49 L539.14,197.97 L540.06,198.43 L541.03,198.95 L542.03,199.57 L543.03,200.09 L544,200.28 L544.94,199.99 L545.87,199.36 L546.78,198.64 L547.7,198.06 L548.63,197.59 L549.55,197.13 L550.48,196.82 L551.4,196.76 L552.3,196.93 L553.19,197.27 L554.11,197.92 L555.1,198.98 L556.21,200.69 L557.41,202.91 L558.61,205.25 L559.73,207.31 L560.69,209.03 L561.58,210.62 L562.46,212.03 L563.43,213.23 L564.47,214.2 L565.57,214.95 L566.74,215.54 L568.05,216 L569.56,216.18 L571.23,216.11 L572.93,216.12 L574.53,216.56 L575.96,217.6 L577.3,219.04 L578.65,220.63 L580.08,222.11 L581.54,223.52 L583.03,224.97 L584.65,226.28 L586.55,227.29 L588.92,227.96 L591.64,228.38 L594.36,228.57 L596.73,228.58 L598.59,228.45 L600.14,228.15 L601.61,227.6 L603.2,226.73 L605.03,225.34 L606.96,223.52 L608.86,221.69 L610.6,220.26 L612.1,219.38 L613.44,218.81 L614.75,218.42 L616.16,218.04 L617.73,217.82 L619.39,217.77 L621.06,217.58 L622.63,216.93 L624.08,215.7 L625.46,214.07 L626.82,212.16 L628.18,210.08 L629.59,207.6 L631.01,204.74 L632.41,202.01 L633.73,199.91 L634.97,198.6 L636.16,197.8 L637.29,197.37 L638.36,197.13 L639.34,197.16 L640.25,197.49 L641.14,197.97 L642.06,198.43 L643.03,198.95 L644.03,199.57 L645.03,200.09 L646,200.28 L646.94,199.99 L647.87,199.36 L648.78,198.64 L649.7,198.06 L650.63,197.59 L651.55,197.13 L652.48,196.82 L653.4,196.76 L654.3,196.93 L655.19,197.27 L656.11,197.92 L657.1,198.98 L658.21,200.69 L659.41,202.91 L660.61,205.25 L661.73,207.31 L662.69,209.03 L663.58,210.62 L664.46,212.03 L665.43,213.23 L666.47,214.2 L667.57,214.95 L668.74,215.54 L670.05,216 L671.56,216.18 L673.23,216.11 L674.93,216.12 L676.53,216.56 L677.96,217.6 L679.3,219.04 L680.65,220.63 L682.08,222.11 L683.54,223.52 L685.03,224.97 L686.65,226.28 L688.55,227.29 L690.92,227.96 L693.64,228.38 L696.36,228.57 L698.73,228.58 L700.59,228.45 L702.14,228.15 L703.61,227.6 L705.2,226.73 L707.03,225.34 L708.96,223.52 L710.86,221.69 L712.6,220.26 L714.1,219.38 L715.44,218.81 L716.75,218.42 L718.16,218.04 L719.73,217.82 L721.39,217.77 L723.06,217.58 L724.63,216.93 L726.08,215.7 L727.46,214.07 L728.82,212.16 L730.18,210.08 L731.59,207.6 L733.01,204.74 L734.41,202.01 L735.73,199.91 L736.97,198.6 L738.16,197.8 L739.29,197.37 L740.36,197.13 L741.34,197.16 L742.25,197.49 L743.14,197.97 L744.06,198.43 L745.03,198.95 L746.03,199.57 L747.03,200.09 L748,200.28 L748.94,199.99 L749.87,199.36 L750.78,198.64 L751.7,198.06 L752.63,197.59 L753.55,197.13 L754.48,196.82 L755.4,196.76 L756.3,196.93 L757.19,197.27 L758.11,197.92 L759.1,198.98 L760.21,200.69 L761.41,202.91 L762.61,205.25 L763.73,207.31 L764.69,209.03 L765.58,210.62 L766.46,212.03 L767.43,213.23 L768.47,214.2 L769.57,214.95 L770.74,215.54 L772.05,216 L773.56,216.18 L775.23,216.11 L776.93,216.12 L778.53,216.56 L779.96,217.6 L781.3,219.04 L782.65,220.63 L784.08,222.11 L785.54,223.52 L787.03,224.97 L788.65,226.28 L790.55,227.29 L792.92,227.96 L795.64,228.38 L798.36,228.57 L800.73,228.58 L802.59,228.45 L804.14,228.15 L805.61,227.6 L807.2,226.73 L809.03,225.34 L810.96,223.52 L812.86,221.69 L814.6,220.26 L816.1,219.38 L817.44,218.81 L818.75,218.42 L820.16,218.04 L821.73,217.82 L823.39,217.77 L825.06,217.58 L826.63,216.93 L828.08,215.7 L829.46,214.07 L830.82,212.16 L832.18,210.08 L833.59,207.6 L835.01,204.74 L836.41,202.01 L837.73,199.91 L838.97,198.6 L840.16,197.8 L841.29,197.37 L842.36,197.13 L843.34,197.16 L844.25,197.49 L845.14,197.97 L846.06,198.43 L847.03,198.95 L848.03,199.57 L849.03,200.09 L850,200.28 L850.94,199.99 L851.87,199.36 L852.78,198.64 L853.7,198.06 L854.63,197.59 L855.55,197.13 L856.48,196.82 L857.4,196.76 L858.3,196.93 L859.19,197.27 L860.11,197.92 L861.1,198.98 L862.21,200.69 L863.41,202.91 L864.61,205.25 L865.73,207.31 L866.69,209.03 L867.58,210.62 L868.46,212.03 L869.43,213.23 L870.47,214.2 L871.57,214.95 L872.74,215.54 L874.05,216 L875.56,216.18 L877.23,216.11 L878.93,216.12 L880.53,216.56 L881.96,217.6 L883.3,219.04 L884.65,220.63 L886.08,222.11 L887.54,223.52 L889.03,224.97 L890.65,226.28 L892.55,227.29 L894.92,227.96 L897.64,228.38 L900.36,228.57 L902.73,228.58 L904.59,228.45 L906.14,228.15 L907.61,227.6 L909.2,226.73 L911.16,225.29 L913.31,223.38 L915.25,221.53 L916.6,220.26" fill="none" stroke="#000" stroke-width="2.8" stroke-dasharray="7 2.8" clip-path="url(#cL1)"/>
<line x1="200" y1="455.5" x2="205.8" y2="455.5" stroke="#000" stroke-width="1.1"/>
<line x1="914" y1="455.5" x2="909.2" y2="455.5" stroke="#000" stroke-width="1.1"/>
<text x="195.4" y="462.9" font-size="19.5" text-anchor="end" fill="#000" >2</text>
<line x1="200" y1="397.5" x2="205.8" y2="397.5" stroke="#000" stroke-width="1.1"/>
<line x1="914" y1="397.5" x2="909.2" y2="397.5" stroke="#000" stroke-width="1.1"/>
<text x="195.4" y="405.4" font-size="19.5" text-anchor="end" fill="#000" >3</text>
<line x1="200" y1="340.5" x2="205.8" y2="340.5" stroke="#000" stroke-width="1.1"/>
<line x1="914" y1="340.5" x2="909.2" y2="340.5" stroke="#000" stroke-width="1.1"/>
<text x="195.4" y="347.9" font-size="19.5" text-anchor="end" fill="#000" >4</text>
<line x1="200" y1="282.5" x2="205.8" y2="282.5" stroke="#000" stroke-width="1.1"/>
<line x1="914" y1="282.5" x2="909.2" y2="282.5" stroke="#000" stroke-width="1.1"/>
<text x="195.4" y="290.4" font-size="19.5" text-anchor="end" fill="#000" >5</text>
<line x1="200" y1="225.5" x2="205.8" y2="225.5" stroke="#000" stroke-width="1.1"/>
<line x1="914" y1="225.5" x2="909.2" y2="225.5" stroke="#000" stroke-width="1.1"/>
<text x="195.4" y="232.9" font-size="19.5" text-anchor="end" fill="#000" >6</text>
<line x1="200" y1="167.5" x2="205.8" y2="167.5" stroke="#000" stroke-width="1.1"/>
<line x1="914" y1="167.5" x2="909.2" y2="167.5" stroke="#000" stroke-width="1.1"/>
<text x="195.4" y="175.4" font-size="19.5" text-anchor="end" fill="#000" >7</text>
<line x1="200" y1="110.5" x2="205.8" y2="110.5" stroke="#000" stroke-width="1.1"/>
<line x1="914" y1="110.5" x2="909.2" y2="110.5" stroke="#000" stroke-width="1.1"/>
<text x="195.4" y="117.9" font-size="19.5" text-anchor="end" fill="#000" >8</text>
<line x1="251.5" y1="455" x2="251.5" y2="449.8" stroke="#000" stroke-width="1.1"/>
<line x1="353.5" y1="455" x2="353.5" y2="449.8" stroke="#000" stroke-width="1.1"/>
<line x1="455.5" y1="455" x2="455.5" y2="449.8" stroke="#000" stroke-width="1.1"/>
<line x1="557.5" y1="455" x2="557.5" y2="449.8" stroke="#000" stroke-width="1.1"/>
<line x1="659.5" y1="455" x2="659.5" y2="449.8" stroke="#000" stroke-width="1.1"/>
<line x1="761.5" y1="455" x2="761.5" y2="449.8" stroke="#000" stroke-width="1.1"/>
<line x1="863.5" y1="455" x2="863.5" y2="449.8" stroke="#000" stroke-width="1.1"/>
<rect x="200.0" y="110.0" width="714.0" height="345" fill="none" stroke="#000" stroke-width="2.1"/>
<text x="174.64" y="92.5" font-size="24">2.0 MeV Electron Flux at 88</text>
<text x="509.74" y="83.5" font-size="16.8">∘</text>
<text x="531.42" y="92.5" font-size="24">pitch angle</text>
<text x="672.34" y="92.5" font-size="24" fill="#000">(</text>
<text x="689.73" y="92.5" font-size="24" fill="#000">cm</text>
<text x="726.9" y="83.5" font-size="16.8" fill="#000">−2</text>
<text x="755.87" y="92.5" font-size="24" fill="#000">s</text>
<text x="768.97" y="83.5" font-size="16.8" fill="#000">−1</text>
<text x="797.94" y="92.5" font-size="24" fill="#000">sr</text>
<text x="820.91" y="83.5" font-size="16.8" fill="#000">−1</text>
<text x="849.87" y="92.5" font-size="24" fill="#000">KeV</text>
<text x="897.4" y="83.5" font-size="16.8" fill="#000">−1</text>
<text x="930.99" y="92.5" font-size="24" fill="#000">)</text>
<text transform="translate(173,285.7) rotate(-90)" font-size="24" text-anchor="middle">L*</text>
<rect x="959.0" y="110.0" width="17.0" height="345" fill="url(#cb)" stroke="#000" stroke-width="2.1"/>
<line x1="976" y1="455.5" x2="982" y2="455.5" stroke="#000" stroke-width="1.15"/>
<text x="987.2" y="463.1" font-size="19.5" text-anchor="start" fill="#000" >10<tspan font-size="13.65" dy="-7.02">−3</tspan></text>
<line x1="976" y1="437.5" x2="982" y2="437.5" stroke="#000" stroke-width="1.15"/>
<line x1="976" y1="427.5" x2="982" y2="427.5" stroke="#000" stroke-width="1.15"/>
<line x1="976" y1="420.5" x2="982" y2="420.5" stroke="#000" stroke-width="1.15"/>
<line x1="976" y1="414.5" x2="982" y2="414.5" stroke="#000" stroke-width="1.15"/>
<line x1="976" y1="410.5" x2="982" y2="410.5" stroke="#000" stroke-width="1.15"/>
<line x1="976" y1="406.5" x2="982" y2="406.5" stroke="#000" stroke-width="1.15"/>
<line x1="976" y1="403.5" x2="982" y2="403.5" stroke="#000" stroke-width="1.15"/>
<line x1="976" y1="400.5" x2="982" y2="400.5" stroke="#000" stroke-width="1.15"/>
<line x1="976" y1="397.5" x2="982" y2="397.5" stroke="#000" stroke-width="1.15"/>
<text x="987.2" y="405.6" font-size="19.5" text-anchor="start" fill="#000" >10<tspan font-size="13.65" dy="-7.02">−2</tspan></text>
<line x1="976" y1="380.5" x2="982" y2="380.5" stroke="#000" stroke-width="1.15"/>
<line x1="976" y1="370.5" x2="982" y2="370.5" stroke="#000" stroke-width="1.15"/>
<line x1="976" y1="362.5" x2="982" y2="362.5" stroke="#000" stroke-width="1.15"/>
<line x1="976" y1="357.5" x2="982" y2="357.5" stroke="#000" stroke-width="1.15"/>
<line x1="976" y1="352.5" x2="982" y2="352.5" stroke="#000" stroke-width="1.15"/>
<line x1="976" y1="348.5" x2="982" y2="348.5" stroke="#000" stroke-width="1.15"/>
<line x1="976" y1="345.5" x2="982" y2="345.5" stroke="#000" stroke-width="1.15"/>
<line x1="976" y1="342.5" x2="982" y2="342.5" stroke="#000" stroke-width="1.15"/>
<line x1="976" y1="340.5" x2="982" y2="340.5" stroke="#000" stroke-width="1.15"/>
<text x="987.2" y="348.1" font-size="19.5" text-anchor="start" fill="#000" >10<tspan font-size="13.65" dy="-7.02">−1</tspan></text>
<line x1="976" y1="322.5" x2="982" y2="322.5" stroke="#000" stroke-width="1.15"/>
<line x1="976" y1="312.5" x2="982" y2="312.5" stroke="#000" stroke-width="1.15"/>
<line x1="976" y1="305.5" x2="982" y2="305.5" stroke="#000" stroke-width="1.15"/>
<line x1="976" y1="299.5" x2="982" y2="299.5" stroke="#000" stroke-width="1.15"/>
<line x1="976" y1="295.5" x2="982" y2="295.5" stroke="#000" stroke-width="1.15"/>
<line x1="976" y1="291.5" x2="982" y2="291.5" stroke="#000" stroke-width="1.15"/>
<line x1="976" y1="288.5" x2="982" y2="288.5" stroke="#000" stroke-width="1.15"/>
<line x1="976" y1="285.5" x2="982" y2="285.5" stroke="#000" stroke-width="1.15"/>
<line x1="976" y1="282.5" x2="982" y2="282.5" stroke="#000" stroke-width="1.15"/>
<text x="987.2" y="290.6" font-size="19.5" text-anchor="start" fill="#000" >10<tspan font-size="13.65" dy="-7.02">0</tspan></text>
<line x1="976" y1="265.5" x2="982" y2="265.5" stroke="#000" stroke-width="1.15"/>
<line x1="976" y1="255.5" x2="982" y2="255.5" stroke="#000" stroke-width="1.15"/>
<line x1="976" y1="247.5" x2="982" y2="247.5" stroke="#000" stroke-width="1.15"/>
<line x1="976" y1="242.5" x2="982" y2="242.5" stroke="#000" stroke-width="1.15"/>
<line x1="976" y1="237.5" x2="982" y2="237.5" stroke="#000" stroke-width="1.15"/>
<line x1="976" y1="233.5" x2="982" y2="233.5" stroke="#000" stroke-width="1.15"/>
<line x1="976" y1="230.5" x2="982" y2="230.5" stroke="#000" stroke-width="1.15"/>
<line x1="976" y1="227.5" x2="982" y2="227.5" stroke="#000" stroke-width="1.15"/>
<line x1="976" y1="225.5" x2="982" y2="225.5" stroke="#000" stroke-width="1.15"/>
<text x="987.2" y="233.1" font-size="19.5" text-anchor="start" fill="#000" >10<tspan font-size="13.65" dy="-7.02">1</tspan></text>
<line x1="976" y1="207.5" x2="982" y2="207.5" stroke="#000" stroke-width="1.15"/>
<line x1="976" y1="197.5" x2="982" y2="197.5" stroke="#000" stroke-width="1.15"/>
<line x1="976" y1="190.5" x2="982" y2="190.5" stroke="#000" stroke-width="1.15"/>
<line x1="976" y1="184.5" x2="982" y2="184.5" stroke="#000" stroke-width="1.15"/>
<line x1="976" y1="180.5" x2="982" y2="180.5" stroke="#000" stroke-width="1.15"/>
<line x1="976" y1="176.5" x2="982" y2="176.5" stroke="#000" stroke-width="1.15"/>
<line x1="976" y1="173.5" x2="982" y2="173.5" stroke="#000" stroke-width="1.15"/>
<line x1="976" y1="170.5" x2="982" y2="170.5" stroke="#000" stroke-width="1.15"/>
<line x1="976" y1="167.5" x2="982" y2="167.5" stroke="#000" stroke-width="1.15"/>
<text x="987.2" y="175.6" font-size="19.5" text-anchor="start" fill="#000" >10<tspan font-size="13.65" dy="-7.02">2</tspan></text>
<line x1="976" y1="150.5" x2="982" y2="150.5" stroke="#000" stroke-width="1.15"/>
<line x1="976" y1="140.5" x2="982" y2="140.5" stroke="#000" stroke-width="1.15"/>
<line x1="976" y1="132.5" x2="982" y2="132.5" stroke="#000" stroke-width="1.15"/>
<line x1="976" y1="127.5" x2="982" y2="127.5" stroke="#000" stroke-width="1.15"/>
<line x1="976" y1="122.5" x2="982" y2="122.5" stroke="#000" stroke-width="1.15"/>
<line x1="976" y1="118.5" x2="982" y2="118.5" stroke="#000" stroke-width="1.15"/>
<line x1="976" y1="115.5" x2="982" y2="115.5" stroke="#000" stroke-width="1.15"/>
<line x1="976" y1="112.5" x2="982" y2="112.5" stroke="#000" stroke-width="1.15"/>
<line x1="976" y1="110.5" x2="982" y2="110.5" stroke="#000" stroke-width="1.15"/>
<text x="987.2" y="118.1" font-size="19.5" text-anchor="start" fill="#000" >10<tspan font-size="13.65" dy="-7.02">3</tspan></text>
<path d="M200,684.27 L201.17,685.24 L202.84,686.33 L204.72,687.66 L206.5,688.56 L208.17,688.59 L209.86,688.53 L211.5,688.97 L213,689.18 L214.25,690.24 L215.34,692.06 L216.43,693.52 L217.7,695.67 L219.29,697.9 L221.06,700.79 L222.84,703.32 L224.41,705.85 L225.62,707.75 L226.6,709.06 L227.64,710.24 L229,710.79 L230.82,710.28 L232.94,709.78 L235.18,708.73 L237.36,708.04 L239.51,708.09 L241.71,709.08 L243.82,709.39 L245.71,709.51 L247.29,709 L248.63,707.98 L249.9,706.76 L251.21,704.75 L252.63,702.47 L254.07,699.19 L255.49,696.36 L256.82,693.94 L257.99,692.02 L259.05,691.04 L260.15,690.42 L261.4,690.27 L262.92,689.82 L264.61,690.08 L266.32,690 L267.93,689.68 L269.37,688.48 L270.73,686.87 L272.07,685.22 L273.43,683.6 L274.8,682.24 L276.17,680.59 L277.56,679.32 L279.03,678.21 L280.6,677.64 L282.24,677.16 L283.91,676.73 L285.55,676.91 L287.16,676.69 L288.76,676.39 L290.36,676.08 L291.97,676.26 L293.6,676.36 L295.23,677.22 L296.87,677.88 L298.5,678.83 L300.13,680.36 L301.76,682.83 L303.37,684.96 L304.92,686.1 L306.37,687.38 L307.77,687.73 L309.14,687.96 L310.52,688.41 L311.92,688.89 L313.33,689.01 L314.73,688.89 L316.12,690.07 L317.53,691.5 L318.93,694.13 L320.31,696.53 L321.63,699.42 L322.86,702.25 L324.03,705.03 L325.17,708.17 L326.31,710.23 L327.38,712 L328.38,713.81 L329.49,714.65 L330.9,715.34 L332.72,715.25 L334.84,714.49 L337.08,713.28 L339.26,712.68 L341.41,713.31 L343.61,713.67 L345.72,714.56 L347.61,714.54 L349.19,713.68 L350.53,712.74 L351.8,711.38 L353.11,709.61 L354.53,706.96 L355.97,703.65 L357.39,700.42 L358.72,698.04 L359.89,696.21 L360.95,695.11 L362.05,694.55 L363.3,693.76 L364.82,693.6 L366.51,694.12 L368.22,693.99 L369.83,693.56 L371.27,692.08 L372.63,690.58 L373.97,688.78 L375.33,686.76 L376.7,685.43 L378.07,683.79 L379.46,682.01 L380.93,681.15 L382.5,680.38 L384.14,680.14 L385.81,679.79 L387.45,679.78 L389.06,679.5 L390.66,678.85 L392.26,678.72 L393.87,679.15 L395.5,679.67 L397.13,679.9 L398.77,680.86 L400.4,682.12 L402.03,683.76 L403.66,686.03 L405.27,688.24 L406.82,689.99 L408.27,691.11 L409.67,691.56 L411.04,691.99 L412.42,692.61 L413.82,692.51 L415.23,692.86 L416.63,693.26 L418.02,694.03 L419.43,695.86 L420.83,698.65 L422.21,701.19 L423.53,704.02 L424.76,707.18 L425.93,710.61 L427.07,713.47 L428.21,716.2 L429.28,718.29 L430.28,720.25 L431.39,721.29 L432.8,722.17 L434.62,721.58 L436.74,720.69 L438.98,719.72 L441.16,719.2 L443.31,719.19 L445.51,719.72 L447.62,720.24 L449.51,720.43 L451.09,719.58 L452.43,718.81 L453.7,717.29 L455.01,714.97 L456.43,712.16 L457.87,708.87 L459.29,705.26 L460.62,702.59 L461.79,700.61 L462.85,699.35 L463.95,698.67 L465.2,698.33 L466.72,697.85 L468.41,698.06 L470.12,698.19 L471.73,697.71 L473.17,696.4 L474.53,694.83 L475.87,692.43 L477.23,690.5 L478.6,689.23 L479.97,687.43 L481.36,685.9 L482.83,684.4 L484.4,683.92 L486.04,683.54 L487.71,683 L489.35,683.06 L490.96,682.8 L492.56,682.41 L494.16,682.19 L495.77,682.2 L497.4,682.64 L499.03,683.21 L500.67,684.05 L502.3,685.56 L503.93,687.29 L505.56,689.92 L507.17,691.89 L508.72,694.13 L510.17,695.09 L511.57,695.82 L512.94,696.22 L514.32,696.66 L515.72,696.78 L517.13,696.58 L518.53,697.28 L519.92,698.01 L521.33,700.03 L522.73,702.8 L524.11,705.67 L525.43,708.58 L526.66,711.98 L527.83,715.23 L528.97,718.37 L530.11,721.03 L531.18,723.47 L532.18,725.02 L533.29,726.44 L534.7,726.91 L536.52,726.62 L538.64,725.81 L540.88,724.85 L543.06,723.92 L545.21,724.48 L547.41,725.27 L549.52,725.86 L551.41,725.89 L552.99,724.81 L554.33,724.02 L555.6,722.57 L556.91,720.11 L558.33,717.27 L559.77,713.57 L561.19,710.03 L562.52,707.13 L563.69,705.34 L564.75,704.31 L565.85,703.14 L567.1,702.55 L568.62,702.38 L570.31,702.59 L572.02,702.68 L573.63,702.65 L575.07,701.23 L576.43,698.94 L577.77,697.04 L579.13,695.01 L580.5,693.19 L581.87,691.36 L583.26,689.84 L584.73,688.54 L586.3,687.66 L587.94,687.2 L589.61,687.07 L591.25,686.77 L592.86,686.66 L594.46,686.43 L596.06,686.09 L597.67,686.08 L599.3,686.56 L600.94,687.32 L602.57,688.39 L604.2,689.81 L605.83,691.6 L607.46,694.34 L609.07,696.76 L610.62,698.6 L612.07,699.71 L613.47,700.43 L614.84,700.98 L616.22,701.31 L617.62,701.75 L619.03,701.73 L620.43,701.98 L621.82,703.23 L623.23,705.42 L624.63,707.91 L626.01,711.27 L627.33,714.48 L628.56,718.12 L629.73,721.86 L630.87,725.13 L632.01,728.35 L633.08,730.65 L634.08,732.33 L635.19,733.83 L636.6,734.38 L638.42,734.39 L640.54,733.12 L642.78,731.87 L644.96,731 L647.11,731.05 L649.31,731.7 L651.42,732.15 L653.31,731.82 L654.89,731.24 L656.23,729.69 L657.5,728.02 L658.81,726.08 L660.23,722.54 L661.67,718.61 L663.09,714.7 L664.42,712.04 L665.59,709.75 L666.65,708.4 L667.75,707.96 L669,706.93 L670.52,707.02 L672.21,707.09 L673.92,707.24 L675.53,706.76 L676.97,705.14 L678.33,703.26 L679.67,700.69 L681.03,699.05 L682.4,697.04 L683.77,695.25 L685.16,693.24 L686.63,692.25 L688.2,691.56 L689.84,690.73 L691.51,690.66 L693.15,690.57 L694.76,690.37 L696.36,689.75 L697.96,689.55 L699.57,689.7 L701.2,690.29 L702.84,690.98 L704.47,691.72 L706.1,692.98 L707.73,694.92 L709.36,697.34 L710.97,699.79 L712.52,701.47 L713.97,702.75 L715.37,703.59 L716.74,703.7 L718.12,704.28 L719.52,704.24 L720.93,704.55 L722.33,704.89 L723.72,705.86 L725.13,707.76 L726.53,710.39 L727.91,713.47 L729.23,716.62 L730.46,719.45 L731.63,722.91 L732.77,726.56 L733.91,729.4 L734.98,731.36 L735.98,733.08 L737.09,734.47 L738.5,734.84 L740.32,734.57 L742.44,733.42 L744.68,732.36 L746.86,731.48 L749.01,731.59 L751.21,732.45 L753.32,733.13 L755.21,732.73 L756.79,732.17 L758.13,730.84 L759.4,729.41 L760.71,727.12 L762.13,723.91 L763.57,720.09 L764.99,716.23 L766.32,713.52 L767.49,711.6 L768.55,710.26 L769.65,709.53 L770.9,708.85 L772.42,708.81 L774.11,708.65 L775.82,709.14 L777.43,708.35 L778.87,707.01 L780.23,704.99 L781.57,703.03 L782.93,701.05 L784.3,699.06 L785.67,697.15 L787.06,695.58 L788.53,694.34 L790.1,693.32 L791.74,693.08 L793.41,692.97 L795.05,692.48 L796.66,692.02 L798.26,691.68 L799.86,691.74 L801.47,691.83 L803.1,692.38 L804.74,692.96 L806.37,693.58 L808,694.85 L809.63,696.81 L811.26,699.22 L812.87,701.9 L814.42,703.83 L815.87,704.94 L817.27,705.24 L818.64,705.94 L820.02,706.1 L821.42,706.42 L822.83,706.64 L824.23,706.63 L825.62,707.67 L827.03,710.03 L828.43,712.42 L829.81,715.46 L831.13,718.61 L832.36,721.88 L833.53,725.05 L834.67,728.56 L835.81,731.39 L836.88,733.59 L837.88,735.23 L838.99,736.7 L840.4,737.54 L842.22,736.95 L844.34,735.93 L846.58,734.47 L848.76,733.82 L850.91,734.17 L853.11,734.53 L855.22,735.47 L857.11,735.42 L858.69,734.26 L860.03,733.5 L861.3,731.57 L862.61,729.63 L864.03,726.59 L865.47,722.57 L866.89,719.01 L868.22,716.07 L869.39,714.29 L870.45,712.8 L871.55,712.22 L872.8,711.68 L874.32,711.29 L876.01,711.38 L877.72,711.25 L879.33,710.92 L880.77,709.46 L882.13,707.71 L883.47,705.56 L884.83,703.55 L886.2,701.52 L887.57,699.9 L888.96,698.23 L890.43,696.71 L892,696.29 L893.64,695.78 L895.31,695.31 L896.95,695.49 L898.56,694.76 L900.16,694.53 L901.76,694.55 L903.37,694.61 L905,694.99 L906.64,695.66 L908.27,696.49 L909.9,697.69 L911.53,699.54 L913.16,701.91 L914.77,704.65 L916.32,706.51 L917.91,707.52 L919.52,708.3 L920.93,708.52 L921.92,708.79" fill="none" stroke="#f00" stroke-width="2.8" stroke-linejoin="round" clip-path="url(#cL2)"/>
<line x1="200" y1="822.5" x2="205.8" y2="822.5" stroke="#000" stroke-width="1.1"/>
<text x="194.5" y="830.1" font-size="19.5" text-anchor="end" fill="#000" >10<tspan font-size="13.65" dy="-7.02">−3</tspan></text>
<line x1="200" y1="804.5" x2="203.8" y2="804.5" stroke="#000" stroke-width="0.9"/>
<line x1="200" y1="794.5" x2="203.8" y2="794.5" stroke="#000" stroke-width="0.9"/>
<line x1="200" y1="787.5" x2="203.8" y2="787.5" stroke="#000" stroke-width="0.9"/>
<line x1="200" y1="781.5" x2="203.8" y2="781.5" stroke="#000" stroke-width="0.9"/>
<line x1="200" y1="777.5" x2="203.8" y2="777.5" stroke="#000" stroke-width="0.9"/>
<line x1="200" y1="773.5" x2="203.8" y2="773.5" stroke="#000" stroke-width="0.9"/>
<line x1="200" y1="770.5" x2="203.8" y2="770.5" stroke="#000" stroke-width="0.9"/>
<line x1="200" y1="767.5" x2="203.8" y2="767.5" stroke="#000" stroke-width="0.9"/>
<line x1="200" y1="764.5" x2="205.8" y2="764.5" stroke="#000" stroke-width="1.1"/>
<text x="194.5" y="772.77" font-size="19.5" text-anchor="end" fill="#000" >10<tspan font-size="13.65" dy="-7.02">−2</tspan></text>
<line x1="200" y1="747.5" x2="203.8" y2="747.5" stroke="#000" stroke-width="0.9"/>
<line x1="200" y1="737.5" x2="203.8" y2="737.5" stroke="#000" stroke-width="0.9"/>
<line x1="200" y1="730.5" x2="203.8" y2="730.5" stroke="#000" stroke-width="0.9"/>
<line x1="200" y1="724.5" x2="203.8" y2="724.5" stroke="#000" stroke-width="0.9"/>
<line x1="200" y1="720.5" x2="203.8" y2="720.5" stroke="#000" stroke-width="0.9"/>
<line x1="200" y1="716.5" x2="203.8" y2="716.5" stroke="#000" stroke-width="0.9"/>
<line x1="200" y1="712.5" x2="203.8" y2="712.5" stroke="#000" stroke-width="0.9"/>
<line x1="200" y1="709.5" x2="203.8" y2="709.5" stroke="#000" stroke-width="0.9"/>
<line x1="200" y1="707.5" x2="205.8" y2="707.5" stroke="#000" stroke-width="1.1"/>
<text x="194.5" y="715.43" font-size="19.5" text-anchor="end" fill="#000" >10<tspan font-size="13.65" dy="-7.02">−1</tspan></text>
<line x1="200" y1="690.5" x2="203.8" y2="690.5" stroke="#000" stroke-width="0.9"/>
<line x1="200" y1="679.5" x2="203.8" y2="679.5" stroke="#000" stroke-width="0.9"/>
<line x1="200" y1="672.5" x2="203.8" y2="672.5" stroke="#000" stroke-width="0.9"/>
<line x1="200" y1="667.5" x2="203.8" y2="667.5" stroke="#000" stroke-width="0.9"/>
<line x1="200" y1="662.5" x2="203.8" y2="662.5" stroke="#000" stroke-width="0.9"/>
<line x1="200" y1="658.5" x2="203.8" y2="658.5" stroke="#000" stroke-width="0.9"/>
<line x1="200" y1="655.5" x2="203.8" y2="655.5" stroke="#000" stroke-width="0.9"/>
<line x1="200" y1="652.5" x2="203.8" y2="652.5" stroke="#000" stroke-width="0.9"/>
<line x1="200" y1="650.5" x2="205.8" y2="650.5" stroke="#000" stroke-width="1.1"/>
<text x="194.5" y="658.1" font-size="19.5" text-anchor="end" fill="#000" >10<tspan font-size="13.65" dy="-7.02">0</tspan></text>
<line x1="200" y1="632.5" x2="203.8" y2="632.5" stroke="#000" stroke-width="0.9"/>
<line x1="200" y1="622.5" x2="203.8" y2="622.5" stroke="#000" stroke-width="0.9"/>
<line x1="200" y1="615.5" x2="203.8" y2="615.5" stroke="#000" stroke-width="0.9"/>
<line x1="200" y1="609.5" x2="203.8" y2="609.5" stroke="#000" stroke-width="0.9"/>
<line x1="200" y1="605.5" x2="203.8" y2="605.5" stroke="#000" stroke-width="0.9"/>
<line x1="200" y1="601.5" x2="203.8" y2="601.5" stroke="#000" stroke-width="0.9"/>
<line x1="200" y1="598.5" x2="203.8" y2="598.5" stroke="#000" stroke-width="0.9"/>
<line x1="200" y1="595.5" x2="203.8" y2="595.5" stroke="#000" stroke-width="0.9"/>
<line x1="200" y1="592.5" x2="205.8" y2="592.5" stroke="#000" stroke-width="1.1"/>
<text x="194.5" y="600.77" font-size="19.5" text-anchor="end" fill="#000" >10<tspan font-size="13.65" dy="-7.02">1</tspan></text>
<line x1="200" y1="575.5" x2="203.8" y2="575.5" stroke="#000" stroke-width="0.9"/>
<line x1="200" y1="565.5" x2="203.8" y2="565.5" stroke="#000" stroke-width="0.9"/>
<line x1="200" y1="558.5" x2="203.8" y2="558.5" stroke="#000" stroke-width="0.9"/>
<line x1="200" y1="552.5" x2="203.8" y2="552.5" stroke="#000" stroke-width="0.9"/>
<line x1="200" y1="548.5" x2="203.8" y2="548.5" stroke="#000" stroke-width="0.9"/>
<line x1="200" y1="544.5" x2="203.8" y2="544.5" stroke="#000" stroke-width="0.9"/>
<line x1="200" y1="540.5" x2="203.8" y2="540.5" stroke="#000" stroke-width="0.9"/>
<line x1="200" y1="537.5" x2="203.8" y2="537.5" stroke="#000" stroke-width="0.9"/>
<line x1="200" y1="535.5" x2="205.8" y2="535.5" stroke="#000" stroke-width="1.1"/>
<text x="194.5" y="543.43" font-size="19.5" text-anchor="end" fill="#000" >10<tspan font-size="13.65" dy="-7.02">2</tspan></text>
<line x1="200" y1="518.5" x2="203.8" y2="518.5" stroke="#000" stroke-width="0.9"/>
<line x1="200" y1="507.5" x2="203.8" y2="507.5" stroke="#000" stroke-width="0.9"/>
<line x1="200" y1="500.5" x2="203.8" y2="500.5" stroke="#000" stroke-width="0.9"/>
<line x1="200" y1="495.5" x2="203.8" y2="495.5" stroke="#000" stroke-width="0.9"/>
<line x1="200" y1="490.5" x2="203.8" y2="490.5" stroke="#000" stroke-width="0.9"/>
<line x1="200" y1="486.5" x2="203.8" y2="486.5" stroke="#000" stroke-width="0.9"/>
<line x1="200" y1="483.5" x2="203.8" y2="483.5" stroke="#000" stroke-width="0.9"/>
<line x1="200" y1="480.5" x2="203.8" y2="480.5" stroke="#000" stroke-width="0.9"/>
<line x1="200" y1="478.5" x2="205.8" y2="478.5" stroke="#000" stroke-width="1.1"/>
<text x="194.5" y="486.1" font-size="19.5" text-anchor="end" fill="#000" >10<tspan font-size="13.65" dy="-7.02">3</tspan></text>
<line x1="914" y1="822.5" x2="909.2" y2="822.5" stroke="#000" stroke-width="1.1"/>
<line x1="914" y1="804.5" x2="911.1" y2="804.5" stroke="#000" stroke-width="0.9"/>
<line x1="914" y1="794.5" x2="911.1" y2="794.5" stroke="#000" stroke-width="0.9"/>
<line x1="914" y1="787.5" x2="911.1" y2="787.5" stroke="#000" stroke-width="0.9"/>
<line x1="914" y1="781.5" x2="911.1" y2="781.5" stroke="#000" stroke-width="0.9"/>
<line x1="914" y1="777.5" x2="911.1" y2="777.5" stroke="#000" stroke-width="0.9"/>
<line x1="914" y1="773.5" x2="911.1" y2="773.5" stroke="#000" stroke-width="0.9"/>
<line x1="914" y1="770.5" x2="911.1" y2="770.5" stroke="#000" stroke-width="0.9"/>
<line x1="914" y1="767.5" x2="911.1" y2="767.5" stroke="#000" stroke-width="0.9"/>
<line x1="914" y1="764.5" x2="909.2" y2="764.5" stroke="#000" stroke-width="1.1"/>
<line x1="914" y1="747.5" x2="911.1" y2="747.5" stroke="#000" stroke-width="0.9"/>
<line x1="914" y1="737.5" x2="911.1" y2="737.5" stroke="#000" stroke-width="0.9"/>
<line x1="914" y1="730.5" x2="911.1" y2="730.5" stroke="#000" stroke-width="0.9"/>
<line x1="914" y1="724.5" x2="911.1" y2="724.5" stroke="#000" stroke-width="0.9"/>
<line x1="914" y1="720.5" x2="911.1" y2="720.5" stroke="#000" stroke-width="0.9"/>
<line x1="914" y1="716.5" x2="911.1" y2="716.5" stroke="#000" stroke-width="0.9"/>
<line x1="914" y1="712.5" x2="911.1" y2="712.5" stroke="#000" stroke-width="0.9"/>
<line x1="914" y1="709.5" x2="911.1" y2="709.5" stroke="#000" stroke-width="0.9"/>
<line x1="914" y1="707.5" x2="909.2" y2="707.5" stroke="#000" stroke-width="1.1"/>
<line x1="914" y1="690.5" x2="911.1" y2="690.5" stroke="#000" stroke-width="0.9"/>
<line x1="914" y1="679.5" x2="911.1" y2="679.5" stroke="#000" stroke-width="0.9"/>
<line x1="914" y1="672.5" x2="911.1" y2="672.5" stroke="#000" stroke-width="0.9"/>
<line x1="914" y1="667.5" x2="911.1" y2="667.5" stroke="#000" stroke-width="0.9"/>
<line x1="914" y1="662.5" x2="911.1" y2="662.5" stroke="#000" stroke-width="0.9"/>
<line x1="914" y1="658.5" x2="911.1" y2="658.5" stroke="#000" stroke-width="0.9"/>
<line x1="914" y1="655.5" x2="911.1" y2="655.5" stroke="#000" stroke-width="0.9"/>
<line x1="914" y1="652.5" x2="911.1" y2="652.5" stroke="#000" stroke-width="0.9"/>
<line x1="914" y1="650.5" x2="909.2" y2="650.5" stroke="#000" stroke-width="1.1"/>
<line x1="914" y1="632.5" x2="911.1" y2="632.5" stroke="#000" stroke-width="0.9"/>
<line x1="914" y1="622.5" x2="911.1" y2="622.5" stroke="#000" stroke-width="0.9"/>
<line x1="914" y1="615.5" x2="911.1" y2="615.5" stroke="#000" stroke-width="0.9"/>
<line x1="914" y1="609.5" x2="911.1" y2="609.5" stroke="#000" stroke-width="0.9"/>
<line x1="914" y1="605.5" x2="911.1" y2="605.5" stroke="#000" stroke-width="0.9"/>
<line x1="914" y1="601.5" x2="911.1" y2="601.5" stroke="#000" stroke-width="0.9"/>
<line x1="914" y1="598.5" x2="911.1" y2="598.5" stroke="#000" stroke-width="0.9"/>
<line x1="914" y1="595.5" x2="911.1" y2="595.5" stroke="#000" stroke-width="0.9"/>
<line x1="914" y1="592.5" x2="909.2" y2="592.5" stroke="#000" stroke-width="1.1"/>
<line x1="914" y1="575.5" x2="911.1" y2="575.5" stroke="#000" stroke-width="0.9"/>
<line x1="914" y1="565.5" x2="911.1" y2="565.5" stroke="#000" stroke-width="0.9"/>
<line x1="914" y1="558.5" x2="911.1" y2="558.5" stroke="#000" stroke-width="0.9"/>
<line x1="914" y1="552.5" x2="911.1" y2="552.5" stroke="#000" stroke-width="0.9"/>
<line x1="914" y1="548.5" x2="911.1" y2="548.5" stroke="#000" stroke-width="0.9"/>
<line x1="914" y1="544.5" x2="911.1" y2="544.5" stroke="#000" stroke-width="0.9"/>
<line x1="914" y1="540.5" x2="911.1" y2="540.5" stroke="#000" stroke-width="0.9"/>
<line x1="914" y1="537.5" x2="911.1" y2="537.5" stroke="#000" stroke-width="0.9"/>
<line x1="914" y1="535.5" x2="909.2" y2="535.5" stroke="#000" stroke-width="1.1"/>
<line x1="914" y1="518.5" x2="911.1" y2="518.5" stroke="#000" stroke-width="0.9"/>
<line x1="914" y1="507.5" x2="911.1" y2="507.5" stroke="#000" stroke-width="0.9"/>
<line x1="914" y1="500.5" x2="911.1" y2="500.5" stroke="#000" stroke-width="0.9"/>
<line x1="914" y1="495.5" x2="911.1" y2="495.5" stroke="#000" stroke-width="0.9"/>
<line x1="914" y1="490.5" x2="911.1" y2="490.5" stroke="#000" stroke-width="0.9"/>
<line x1="914" y1="486.5" x2="911.1" y2="486.5" stroke="#000" stroke-width="0.9"/>
<line x1="914" y1="483.5" x2="911.1" y2="483.5" stroke="#000" stroke-width="0.9"/>
<line x1="914" y1="480.5" x2="911.1" y2="480.5" stroke="#000" stroke-width="0.9"/>
<line x1="914" y1="478.5" x2="909.2" y2="478.5" stroke="#000" stroke-width="1.1"/>
<line x1="251.5" y1="822" x2="251.5" y2="816.8" stroke="#000" stroke-width="1.1"/>
<line x1="353.5" y1="822" x2="353.5" y2="816.8" stroke="#000" stroke-width="1.1"/>
<line x1="455.5" y1="822" x2="455.5" y2="816.8" stroke="#000" stroke-width="1.1"/>
<line x1="557.5" y1="822" x2="557.5" y2="816.8" stroke="#000" stroke-width="1.1"/>
<line x1="659.5" y1="822" x2="659.5" y2="816.8" stroke="#000" stroke-width="1.1"/>
<line x1="761.5" y1="822" x2="761.5" y2="816.8" stroke="#000" stroke-width="1.1"/>
<line x1="863.5" y1="822" x2="863.5" y2="816.8" stroke="#000" stroke-width="1.1"/>
<rect x="200.0" y="478.0" width="714.0" height="344" fill="none" stroke="#000" stroke-width="2.1"/>
<text x="236" y="512" font-size="24" text-anchor="start" fill="#000" >Geostationary orbit:</text>
<text x="500" y="512" font-size="24" text-anchor="start" fill="#f00" >Model</text>
<text transform="translate(101.8,780.9) rotate(-90)" font-size="24">2.0 MeV Electron Flux</text>
<g transform="translate(134.7,784.01) rotate(-90)"><text x="0" y="0" font-size="24" fill="#000">(</text><text x="17.39" y="0" font-size="24" fill="#000">cm</text><text x="54.57" y="-9" font-size="16.8" fill="#000">−2</text><text x="83.53" y="0" font-size="24" fill="#000">s</text><text x="96.64" y="-9" font-size="16.8" fill="#000">−1</text><text x="125.6" y="0" font-size="24" fill="#000">sr</text><text x="148.57" y="-9" font-size="16.8" fill="#000">−1</text><text x="177.54" y="0" font-size="24" fill="#000">KeV</text><text x="225.06" y="-9" font-size="16.8" fill="#000">−1</text><text x="258.65" y="0" font-size="24" fill="#000">)</text></g>
<g clip-path="url(#cL3)" fill="#008000">
<rect x="220.4" y="1010.64" width="10.2" height="6.36"/>
<rect x="233.15" y="1004.25" width="10.2" height="12.75"/>
<rect x="245.9" y="991.52" width="10.2" height="25.48"/>
<rect x="258.65" y="1004.25" width="10.2" height="12.75"/>
<rect x="271.4" y="1010.64" width="10.2" height="6.36"/>
<rect x="284.15" y="1010.64" width="10.2" height="6.36"/>
<rect x="296.9" y="985.14" width="10.2" height="31.86"/>
<rect x="309.65" y="985.14" width="10.2" height="31.86"/>
<rect x="322.4" y="1010.64" width="10.2" height="6.36"/>
<rect x="335.15" y="1004.25" width="10.2" height="12.75"/>
<rect x="347.9" y="985.14" width="10.2" height="31.86"/>
<rect x="360.65" y="1004.25" width="10.2" height="12.75"/>
<rect x="373.4" y="991.52" width="10.2" height="25.48"/>
<rect x="386.15" y="1004.25" width="10.2" height="12.75"/>
<rect x="398.9" y="1004.25" width="10.2" height="12.75"/>
<rect x="411.65" y="1010.64" width="10.2" height="6.36"/>
<rect x="424.4" y="1010.64" width="10.2" height="6.36"/>
<rect x="437.15" y="1004.25" width="10.2" height="12.75"/>
<rect x="449.9" y="997.89" width="10.2" height="19.11"/>
<rect x="462.65" y="1010.64" width="10.2" height="6.36"/>
<rect x="475.4" y="1004.25" width="10.2" height="12.75"/>
<rect x="488.15" y="991.52" width="10.2" height="25.48"/>
<rect x="500.9" y="985.14" width="10.2" height="31.86"/>
<rect x="513.65" y="991.52" width="10.2" height="25.48"/>
<rect x="526.4" y="985.14" width="10.2" height="31.86"/>
<rect x="539.15" y="985.14" width="10.2" height="31.86"/>
<rect x="551.9" y="997.89" width="10.2" height="19.11"/>
<rect x="564.65" y="997.89" width="10.2" height="19.11"/>
<rect x="577.4" y="1010.64" width="10.2" height="6.36"/>
<rect x="590.15" y="991.52" width="10.2" height="25.48"/>
<rect x="602.9" y="991.52" width="10.2" height="25.48"/>
<rect x="615.65" y="997.89" width="10.2" height="19.11"/>
<rect x="641.15" y="1010.64" width="10.2" height="6.36"/>
<rect x="653.9" y="997.89" width="10.2" height="19.11"/>
<rect x="666.65" y="1004.25" width="10.2" height="12.75"/>
<rect x="679.4" y="997.89" width="10.2" height="19.11"/>
<rect x="692.15" y="1004.25" width="10.2" height="12.75"/>
<rect x="704.9" y="978.78" width="10.2" height="38.22"/>
<rect x="717.65" y="997.89" width="10.2" height="19.11"/>
<rect x="730.4" y="1010.64" width="10.2" height="6.36"/>
<rect x="743.15" y="1010.64" width="10.2" height="6.36"/>
<rect x="755.9" y="1004.25" width="10.2" height="12.75"/>
<rect x="768.65" y="1004.25" width="10.2" height="12.75"/>
<rect x="781.4" y="997.89" width="10.2" height="19.11"/>
<rect x="794.15" y="1004.25" width="10.2" height="12.75"/>
<rect x="806.9" y="1010.64" width="10.2" height="6.36"/>
<rect x="819.65" y="1010.64" width="10.2" height="6.36"/>
<rect x="832.4" y="1004.25" width="10.2" height="12.75"/>
<rect x="845.15" y="1010.64" width="10.2" height="6.36"/>
<rect x="857.9" y="1004.25" width="10.2" height="12.75"/>
<rect x="870.65" y="1004.25" width="10.2" height="12.75"/>
<rect x="883.4" y="1004.25" width="10.2" height="12.75"/>
<rect x="896.15" y="997.89" width="10.2" height="19.11"/>
<rect x="908.9" y="972.41" width="10.2" height="44.59"/>
</g>
<line x1="200" y1="1017.5" x2="205.8" y2="1017.5" stroke="#000" stroke-width="1.1"/>
<line x1="914" y1="1017.5" x2="909.2" y2="1017.5" stroke="#000" stroke-width="1.1"/>
<text x="195.4" y="1024.9" font-size="19.5" text-anchor="end" fill="#000" >0</text>
<line x1="200" y1="978.5" x2="205.8" y2="978.5" stroke="#000" stroke-width="1.1"/>
<line x1="914" y1="978.5" x2="909.2" y2="978.5" stroke="#000" stroke-width="1.1"/>
<text x="195.4" y="986.68" font-size="19.5" text-anchor="end" fill="#000" >2</text>
<line x1="200" y1="940.5" x2="205.8" y2="940.5" stroke="#000" stroke-width="1.1"/>
<line x1="914" y1="940.5" x2="909.2" y2="940.5" stroke="#000" stroke-width="1.1"/>
<text x="195.4" y="948.46" font-size="19.5" text-anchor="end" fill="#000" >4</text>
<line x1="200" y1="902.5" x2="205.8" y2="902.5" stroke="#000" stroke-width="1.1"/>
<line x1="914" y1="902.5" x2="909.2" y2="902.5" stroke="#000" stroke-width="1.1"/>
<text x="195.4" y="910.23" font-size="19.5" text-anchor="end" fill="#000" >6</text>
<line x1="200" y1="864.5" x2="205.8" y2="864.5" stroke="#000" stroke-width="1.1"/>
<line x1="914" y1="864.5" x2="909.2" y2="864.5" stroke="#000" stroke-width="1.1"/>
<text x="195.4" y="872.01" font-size="19.5" text-anchor="end" fill="#000" >8</text>
<line x1="251.5" y1="1017" x2="251.5" y2="1011.8" stroke="#000" stroke-width="1.1"/>
<text x="251" y="1036.8" font-size="19.5" text-anchor="middle" fill="#000" >23</text>
<line x1="353.5" y1="1017" x2="353.5" y2="1011.8" stroke="#000" stroke-width="1.1"/>
<text x="353" y="1036.8" font-size="19.5" text-anchor="middle" fill="#000" >24</text>
<line x1="455.5" y1="1017" x2="455.5" y2="1011.8" stroke="#000" stroke-width="1.1"/>
<text x="455" y="1036.8" font-size="19.5" text-anchor="middle" fill="#000" >25</text>
<line x1="557.5" y1="1017" x2="557.5" y2="1011.8" stroke="#000" stroke-width="1.1"/>
<text x="557" y="1036.8" font-size="19.5" text-anchor="middle" fill="#000" >26</text>
<line x1="659.5" y1="1017" x2="659.5" y2="1011.8" stroke="#000" stroke-width="1.1"/>
<text x="659" y="1036.8" font-size="19.5" text-anchor="middle" fill="#000" >27</text>
<line x1="761.5" y1="1017" x2="761.5" y2="1011.8" stroke="#000" stroke-width="1.1"/>
<text x="761" y="1036.8" font-size="19.5" text-anchor="middle" fill="#000" >28</text>
<line x1="863.5" y1="1017" x2="863.5" y2="1011.8" stroke="#000" stroke-width="1.1"/>
<text x="863" y="1036.8" font-size="19.5" text-anchor="middle" fill="#000" >29</text>
<rect x="200.0" y="845.0" width="714.0" height="172" fill="none" stroke="#000" stroke-width="2.1"/>
<text transform="translate(173,934.4) rotate(-90)" font-size="24" text-anchor="middle">Kp</text>
<text x="557" y="1066" font-size="24" text-anchor="middle" fill="#000" >June 2019 (UT)</text>
<rect x="819.5" y="852.5" width="88" height="66.5" rx="3" ry="3" fill="#fff" fill-opacity="0.8" stroke="#ccc" stroke-width="1.1"/>
<rect x="824.7" y="859" width="29.3" height="10.8" fill="#008000"/>
<text x="864" y="869.3" font-size="13.7" text-anchor="start" fill="#000" letter-spacing="-0.15">Kp&lt;3</text>
<rect x="824.7" y="880.05" width="29.3" height="10.8" fill="#bfbf00"/>
<text x="864" y="890.35" font-size="13.7" text-anchor="start" fill="#000" letter-spacing="-0.15">Kp&lt;5</text>
<rect x="824.7" y="901.1" width="29.3" height="10.8" fill="#ff0000"/>
<text x="864" y="911.4" font-size="13.7" text-anchor="start" fill="#000" letter-spacing="-0.15">Kp&gt;5</text>
<path d="M1204.73,264.53 L1205.28,265.09 L1205.83,260.24 L1206.38,263.18 L1206.93,265.18 L1207.48,271.98 L1208.03,276.46 L1208.58,271.03 L1209.13,270.29 L1209.68,264.49 L1210.23,262.07 L1210.78,258.36 L1211.33,297.07 L1211.88,295.33 L1212.43,283.26 L1212.98,272.41 L1213.53,264.88 L1214.08,265.52 L1214.63,269.42 L1215.18,271.76 L1215.73,277.01 L1216.28,279.04 L1216.83,284.39 L1217.38,281.28 L1217.93,282.94 L1218.48,281.49 L1219.03,275.93 L1219.58,282.73 L1220.13,277.16 L1220.68,283.13 L1221.23,280.25 L1221.78,283.49 L1222.33,283.07 L1222.88,281.07 L1223.43,280.86 L1223.98,276.62 L1224.53,271.26 L1225.08,267.68 L1225.63,268.75 L1226.18,274.52 L1226.73,266.72 L1227.28,270.01 L1227.83,274.95 L1228.38,273.98 L1228.93,285.44 L1229.48,288.24 L1230.03,274.18 L1230.58,278.18 L1231.13,278.78 L1231.68,280.54 L1232.23,289.59 L1232.78,291.9 L1233.33,291.17 L1233.88,303.75 L1234.43,306.09 L1234.98,306.44 L1235.53,307.58 L1236.08,303.06 L1236.63,301.54 L1237.18,295.79 L1237.73,302.04 L1238.28,294.68 L1238.83,291.86 L1239.38,285.54 L1239.93,283.22 L1240.48,281.4 L1241.03,284.56 L1241.58,272.7 L1242.13,280.27 L1242.68,291.88 L1243.23,300.31 L1243.78,294.36 L1244.33,282.61 L1244.88,277.56 L1245.43,285.08 L1245.98,278.32 L1246.53,274.11 L1247.08,278.83 L1247.63,278.04 L1248.18,274.28 L1248.73,274.23 L1249.28,274.54 L1249.83,278.35 L1250.38,274.47 L1250.93,274.17 L1251.48,276.02 L1252.03,270.14 L1252.58,282.14 L1253.13,282.71 L1253.68,282.92 L1254.23,275.65 L1254.78,279.9 L1255.33,283.89 L1255.88,273.02 L1256.43,277.56 L1256.98,280.57 L1257.53,272.92 L1258.08,287.47 L1258.63,287.7 L1259.18,288.23 L1259.73,288.02 L1260.28,287.26 L1260.83,283.43 L1261.38,285.2 L1261.93,281.29 L1262.48,285.48 L1263.03,294.02 L1263.58,293.67 L1264.13,293.7 L1264.68,298.9 L1265.23,294.58 L1265.78,281.51 L1266.33,271.96 L1266.88,272.8 L1267.43,279.53 L1267.98,285.78 L1268.53,298.69 L1269.08,281.29 L1269.63,280.45 L1270.18,272.77 L1270.73,278.17 L1271.28,286.95 L1271.83,292.4 L1272.38,295.1 L1272.93,296.92 L1273.48,297.03 L1274.03,293.29 L1274.58,291.03 L1275.13,284.54 L1275.68,282.39 L1276.23,279.67 L1276.78,273.83 L1277.33,272.8 L1277.88,268.31 L1278.43,283.9 L1278.98,283.99 L1279.53,284.11 L1280.08,287.14 L1280.63,291.26 L1281.18,297.46 L1281.73,295.75 L1282.28,301.18 L1282.83,307.83 L1283.38,287.4 L1283.93,288.01 L1284.48,295.56 L1285.03,303.33 L1285.58,300.03 L1286.13,293.69 L1286.68,293.67 L1287.23,288.4 L1287.78,281.58 L1288.33,288.28 L1288.88,276.88 L1289.43,281.66 L1289.98,311.58 L1290.53,309.51 L1291.08,303.93 L1291.63,288.17 L1292.18,290.07 L1292.73,289.29 L1293.28,275.28 L1293.83,273.08 L1294.38,300.61 L1294.93,310.67 L1295.48,314.06 L1296.03,303.66 L1296.58,309.62 L1297.13,290.45 L1297.68,263.78 L1298.23,273.26 L1298.78,267.46 L1299.33,288.83 L1299.88,287.49 L1300.43,302.95 L1300.98,302.91 L1301.53,275.02 L1302.08,256.84 L1302.63,258.42 L1303.18,266.06 L1303.73,274.66 L1304.28,276.04 L1304.83,276.42 L1305.38,283.47 L1305.93,282.93 L1306.48,279.31 L1307.03,290.88 L1307.58,274.03 L1308.13,278.61 L1308.68,271.52 L1309.23,270.11 L1309.78,269.33 L1310.33,264.75 L1310.88,266.31 L1311.43,259.83 L1311.98,261.21 L1312.53,270.18 L1313.08,265.82 L1313.63,269.97 L1314.18,279.1 L1314.73,296.83 L1315.28,289.57 L1315.83,286.8 L1316.38,272.73 L1316.93,270.72 L1317.48,261.22 L1318.03,272.63 L1318.58,282.56 L1319.13,280.6 L1319.68,294.78 L1320.23,296.91 L1320.78,296.91 L1321.33,294.65 L1321.88,311 L1322.43,309.79 L1322.98,312.16 L1323.53,319.96 L1324.08,324.19 L1324.63,317.85 L1325.18,298.33 L1325.73,295.64 L1326.28,286.46 L1326.83,275.88 L1327.38,270.27 L1327.93,275.21 L1328.48,288.52 L1329.03,287.2 L1329.58,281.37 L1330.13,280.18 L1330.68,276.78 L1331.23,308.82 L1331.78,305.65 L1332.33,290.34 L1332.88,289.92 L1333.43,278.08 L1333.98,277.53 L1334.53,285.75 L1335.08,294.83 L1335.63,291.92 L1336.18,291.6 L1336.73,281.79 L1337.28,280.95 L1337.83,282 L1338.38,292.87 L1338.93,293 L1339.48,292.67 L1340.03,276.84 L1340.58,273.78 L1341.13,264.7 L1341.68,286.05 L1342.23,291.52 L1342.78,295.2 L1343.33,287.13 L1343.88,280.29 L1344.43,270.84 L1344.98,268.99 L1345.53,273.94 L1346.08,266.99 L1346.63,268.08 L1347.18,269.11 L1347.73,264.23 L1348.28,265.83 L1348.83,273.78 L1349.38,285.07 L1349.93,280.7 L1350.48,289.89 L1351.03,301.09 L1351.58,305.74 L1352.13,302.58 L1352.68,299.22 L1353.23,290.68 L1353.78,280.01 L1354.33,273.88 L1354.88,272.46 L1355.43,273.33 L1355.98,263.22 L1356.53,270.12 L1357.08,289.5 L1357.63,284.97 L1358.18,283.87 L1358.73,273.86 L1359.28,273.23 L1359.83,262.42 L1360.38,275.72 L1360.93,275.86 L1361.48,274.81 L1362.03,288.04 L1362.58,287.18 L1363.13,278.08 L1363.68,280.9 L1364.23,283.03 L1364.78,278.27 L1365.33,284.96 L1365.88,287.78 L1366.43,290.42 L1366.98,286.53 L1367.53,284.29 L1368.08,276 L1368.63,273.08 L1369.18,267.03 L1369.73,280.84 L1370.28,285.41 L1370.83,282.7 L1371.38,284.89 L1371.93,290.08 L1372.48,273.28 L1373.03,277.82 L1373.58,285.42 L1374.13,274.83 L1374.68,282.11 L1375.23,287.89 L1375.78,282.13 L1376.33,286.05 L1376.88,288.75 L1377.43,283.7 L1377.98,288.11 L1378.53,289.88 L1379.08,286.12 L1379.63,277.34 L1380.18,271.08 L1380.73,275.98 L1381.28,287.29 L1381.83,300.73 L1382.38,306.82 L1382.93,297.47 L1383.48,282.84 L1384.03,280.81 L1384.58,266.56 L1385.13,264.64 L1385.68,252.9 L1386.23,264.36 L1386.78,263.74 L1387.33,268.05 L1387.88,265.72 L1388.43,266.14 L1388.98,270.46 L1389.53,256.98 L1390.08,262.66 L1390.63,266.29 L1391.18,268.78 L1391.73,282.27 L1392.28,290.2 L1392.83,284.82 L1393.38,293.66 L1393.93,297.54 L1394.48,276.8 L1395.03,256.72 L1395.58,268.95 L1396.13,294.39 L1396.68,304.79 L1397.23,291.9 L1397.78,283 L1398.33,285.61 L1398.88,274.68 L1399.43,269.32 L1399.98,262.06 L1400.53,257.65 L1401.08,263.38 L1401.63,256.32 L1402.18,263.86 L1402.73,272.57 L1403.28,280.9 L1403.83,282.63 L1404.38,291.04 L1404.93,299.37 L1405.48,305.31 L1406.03,308.93 L1406.58,308.76 L1407.13,308.22 L1407.68,313.6 L1408.23,304.36 L1408.78,284.07 L1409.33,287.02 L1409.88,295.11 L1410.43,300.54 L1410.98,307.33 L1411.53,312.6 L1412.08,312.94 L1412.63,304.67 L1413.18,293.47 L1413.73,292.37 L1414.28,289.54 L1414.83,291.85 L1415.38,294.14 L1415.93,300.96 L1416.48,300.42 L1417.03,293.76 L1417.58,296.41 L1418.13,288.44 L1418.68,290.05 L1419.23,279.09 L1419.78,274.2 L1420.33,285.56 L1420.88,300.62 L1421.43,299.2 L1421.98,298.66 L1422.53,293.88 L1423.08,291.53 L1423.63,284.48 L1424.18,276.36 L1424.73,274.1 L1425.28,264.33 L1425.83,264.84 L1426.38,273.33 L1426.93,283.41 L1427.48,287.22 L1428.03,293.68 L1428.58,288.84 L1429.13,289.46 L1429.68,289.87 L1430.23,283.42 L1430.78,285.59 L1431.33,281.28 L1431.88,287.36 L1432.43,288.27 L1432.98,303.15 L1433.53,295.52 L1434.08,285.33 L1434.63,281.48 L1435.18,285.55 L1435.73,272.31 L1436.28,276.32 L1436.83,276.34 L1437.38,272.47 L1437.93,267.87 L1438.48,272.38 L1439.03,272.95 L1439.58,281.3 L1440.13,285.63 L1440.68,288.48 L1441.23,297.04 L1441.78,301.49 L1442.33,305.87 L1442.88,310.91 L1443.43,312 L1443.98,314.52 L1444.53,307.43 L1445.08,308.14 L1445.63,309.59 L1446.18,303.48 L1446.73,305.9 L1447.28,294.19 L1447.83,292.91 L1448.38,291.37 L1448.93,285.31 L1449.48,277.02 L1450.03,270.33 L1450.58,268.23 L1451.13,286.67 L1451.68,288.7 L1452.23,297.54 L1452.78,297.18 L1453.33,306.45 L1453.88,307.32 L1454.43,321.61 L1454.98,313.73 L1455.53,295.1 L1456.08,293.31 L1456.63,287.33 L1457.18,270.29 L1457.73,261.62 L1458.28,265.58 L1458.83,273.01 L1459.38,276.09 L1459.93,281.24 L1460.48,274.88 L1461.03,269.11 L1461.58,262.21 L1462.13,259.38 L1462.68,260.37 L1463.23,253.65 L1463.78,258.76 L1464.33,258.96 L1464.88,261.1 L1465.43,273.56 L1465.98,284.59 L1466.53,297.06 L1467.08,300.31 L1467.63,300.14 L1468.18,290.21 L1468.73,281.88 L1469.28,286.75 L1469.83,292.93 L1470.38,295.7 L1470.93,306.24 L1471.48,310.27 L1472.03,302.81 L1472.58,294.44 L1473.13,289.96 L1473.68,274.52 L1474.23,274.51 L1474.78,284.67 L1475.33,294.33 L1475.88,315.68 L1476.43,321.65 L1476.98,306.92 L1477.53,301.73 L1478.08,292.27 L1478.63,285.81 L1479.18,277.12 L1479.73,283.57 L1480.28,289.43 L1480.83,300.78 L1481.38,309.86 L1481.93,321.54 L1482.48,328.76 L1483.03,324.77 L1483.58,314.8 L1484.13,310.63 L1484.68,301.61 L1485.23,296.79 L1485.78,309.18 L1486.33,316.63 L1486.88,326.94 L1487.43,318.09 L1487.98,304.36 L1488.53,303.86 L1489.08,283.97 L1489.63,278.74 L1490.18,264.85 L1490.73,269.18 L1491.28,265.17 L1491.83,279.59 L1492.38,291.74 L1492.93,301.59 L1493.48,316.39 L1494.03,317.71 L1494.58,327.28 L1495.13,297.38 L1495.68,269.98 L1496.23,278.23 L1496.78,289.03 L1497.33,304.62 L1497.88,295.9 L1498.43,293.91 L1498.98,275.88 L1499.53,270.32 L1500.08,266.93 L1500.63,251.08 L1501.18,250.19 L1501.73,252.55 L1502.28,246.7 L1502.83,241.94 L1503.38,244.01 L1503.93,246.98 L1504.48,249.42 L1505.03,246.06 L1505.58,257.13 L1506.13,258.8 L1506.68,264.13 L1507.23,283 L1507.78,298.45 L1508.33,312.7 L1508.88,294.07 L1509.43,288.04 L1509.98,272.88 L1510.53,261.11 L1511.08,255.2 L1511.63,306.05 L1512.18,299.41 L1512.73,290.23 L1513.28,288.8 L1513.83,278.92 L1514.38,273.43 L1514.93,271.02 L1515.48,265.62 L1516.03,258.91 L1516.58,268.23 L1517.13,259.25 L1517.68,261.3 L1518.23,255.99 L1518.78,264.06 L1519.33,263.81 L1519.88,282.44 L1520.43,286.81 L1520.98,283.41 L1521.53,288.26 L1522.08,293.74 L1522.63,296.54 L1523.18,273.6 L1523.73,266.54 L1524.28,268.72 L1524.83,272.49 L1525.38,272.08 L1525.93,279.17 L1526.48,276.77 L1527.03,280.77 L1527.58,281.23 L1528.13,280.88 L1528.68,277.45 L1529.23,274.11 L1529.78,277.02 L1530.33,274.11 L1530.88,281.09 L1531.43,277.83 L1531.98,274.26 L1532.53,272.58 L1533.08,271.36 L1533.63,270.12 L1534.18,272.31 L1534.73,279.82 L1535.28,285.78 L1535.83,291.14 L1536.38,301.82 L1536.93,296.9 L1537.48,285.6 L1538.03,274.17 L1538.58,250.07 L1539.13,258.4 L1539.68,264.37 L1540.23,267.8 L1540.78,272.19 L1541.33,273.35 L1541.88,279.2 L1542.43,283.1 L1542.98,290.71 L1543.53,286.15 L1544.08,294.81 L1544.63,303.01 L1545.18,304.34 L1545.73,309.32 L1546.28,313.71 L1546.83,303.06 L1547.38,301.64 L1547.93,295.99 L1548.48,288.35 L1549.03,283.03 L1549.58,276.34 L1550.13,275.67 L1550.68,284.67 L1551.23,290.45 L1551.78,279.32 L1552.33,272.44 L1552.88,267.06 L1553.43,262.02 L1553.98,272.11 L1554.53,281.13 L1555.08,277.05 L1555.63,284.19 L1556.18,284.85 L1556.73,286.97 L1557.28,278.61 L1557.83,276.74 L1558.38,267.06 L1558.93,265.53 L1559.48,267.54 L1560.03,263.38 L1560.58,277.16 L1561.13,277.42 L1561.68,270.08 L1562.23,281.26 L1562.78,280.3 L1563.33,278.22 L1563.88,271.22 L1564.43,266.92 L1564.98,273.97 L1565.53,282.53 L1566.08,277.51 L1566.63,278.31 L1567.18,274.9 L1567.73,273.2 L1568.28,276.61 L1568.83,279.29 L1569.38,272.54 L1569.93,272.72 L1570.48,282.52 L1571.03,275.25 L1571.58,277.33 L1572.13,284.3 L1572.68,286.26 L1573.23,280.36 L1573.78,279.53 L1574.33,284.51 L1574.88,284.08 L1575.43,278.21 L1575.98,281.91 L1576.53,280.41 L1577.08,283.75 L1577.63,279.39 L1578.18,276.2 L1578.73,271.94 L1579.28,273.71 L1579.83,277.1 L1580.38,282.5 L1580.93,298.61 L1581.48,301.74 L1582.03,296.47 L1582.58,290.66 L1583.13,300.09 L1583.68,300.05 L1584.23,307.94 L1584.78,304.9 L1585.33,291.56 L1585.88,289.77 L1586.43,280.03 L1586.98,276.56 L1587.53,263.92 L1588.08,257.04 L1588.63,267.6 L1589.18,271.7 L1589.73,272.08 L1590.28,280.57 L1590.83,280.05 L1591.38,282.52 L1591.93,290.09 L1592.48,286.39 L1593.03,293.26 L1593.58,299.29 L1594.13,284.48 L1594.68,267.01 L1595.23,274.09 L1595.78,276.01 L1596.33,284.85 L1596.88,295.14 L1597.43,290.82 L1597.98,297.96 L1598.53,283.28 L1599.08,281.81 L1599.63,278.52 L1600.18,283.55 L1600.73,278.5 L1601.28,278.49 L1601.83,291.32 L1602.38,295.1 L1602.93,297.58 L1603.48,307.89 L1604.03,302.26" fill="none" stroke="#000" stroke-width="1.7" stroke-linejoin="round" clip-path="url(#cR1)"/>
<path d="M1204.73,265.45 L1205.32,260.75 L1205.91,260.73 L1206.5,267.48 L1207.09,271.47 L1207.68,274.32 L1208.21,269.89 L1208.74,268.57 L1209.28,265.42 L1209.81,263.86 L1210.34,261.88 L1210.87,257.18 L1211.23,305.04 L1211.82,290.82 L1212.41,278.78 L1213,270.18 L1213.59,273.21 L1214.18,271.52 L1214.77,274.52 L1215.36,273.72 L1215.95,274.08 L1216.54,280.47 L1217.14,284.36 L1217.73,283.89 L1218.32,278.84 L1218.91,281.54 L1219.5,279.37 L1220.09,274.91 L1220.68,275.84 L1221.27,279.75 L1221.86,286.72 L1222.45,283.92 L1223.04,283.39 L1223.64,276.75 L1224.23,272.62 L1224.82,271.36 L1225.34,270.39 L1225.86,267.4 L1226.38,268.16 L1226.9,269.07 L1227.42,269 L1227.93,274.49 L1228.44,278.32 L1228.95,285.54 L1229.46,281.9 L1229.96,279.9 L1230.46,279.52 L1230.96,277.86 L1231.51,280.85 L1232.06,283.46 L1232.62,293.02 L1233.17,295.55 L1233.72,300.44 L1234.27,303.86 L1234.78,301.26 L1235.28,305.83 L1235.79,304.39 L1236.3,299.07 L1236.8,299.83 L1237.31,301.73 L1237.82,299.72 L1238.32,297.95 L1238.83,296.27 L1239.34,289.86 L1239.84,289.34 L1240.35,285.2 L1240.85,279.73 L1241.36,277.86 L1241.95,284.33 L1242.54,292.13 L1243.13,295.59 L1243.65,295.14 L1244.17,290.3 L1244.69,288.18 L1245.2,281.97 L1245.72,280.65 L1246.24,281.54 L1246.75,276.43 L1247.27,274.32 L1247.78,271.89 L1248.28,273.95 L1248.79,274.6 L1249.3,274.08 L1249.8,271.83 L1250.31,271.9 L1250.82,271.95 L1251.32,273.61 L1251.83,276.94 L1252.33,276.9 L1252.84,277.68 L1253.35,279.91 L1253.85,278.56 L1254.36,283.18 L1254.95,278.84 L1255.54,281.64 L1256.13,282.02 L1256.72,278.1 L1257.32,276.09 L1257.91,279.74 L1258.5,282.64 L1259.09,289.09 L1259.68,287.03 L1260.27,288.04 L1260.86,284.61 L1261.45,280.82 L1262.04,284.61 L1262.63,290.21 L1263.22,289.74 L1263.81,295.08 L1264.41,298.54 L1265,294.79 L1265.59,285.74 L1266.18,278.34 L1266.77,271.95 L1267.36,277.76 L1267.95,286.83 L1268.54,293.81 L1269.13,286.99 L1269.72,274.32 L1270.23,274.53 L1270.74,282.88 L1271.24,286.5 L1271.75,290.29 L1272.26,292.74 L1272.76,296.55 L1273.27,297.95 L1273.79,294.46 L1274.32,291.12 L1274.84,286.65 L1275.37,280.67 L1275.89,282.26 L1276.42,276.73 L1276.95,270.75 L1277.47,269.09 L1278,265.45 L1278.59,280.82 L1279.1,283.38 L1279.62,285.22 L1280.14,287.81 L1280.65,291.7 L1281.17,294.9 L1281.69,297.49 L1282.21,299.16 L1282.72,302.09 L1283.43,293.16 L1284.14,290.27 L1285.09,302.68 L1285.6,297.25 L1286.12,293.23 L1286.64,292.14 L1287.15,290.22 L1287.67,286.12 L1288.19,282.42 L1288.71,278.85 L1289.22,273.13 L1290.05,315.68 L1290.61,307.86 L1291.16,305.37 L1291.72,298.05 L1292.28,288.02 L1292.84,281.35 L1293.39,275.09 L1293.95,271.95 L1294.54,306.81 L1295.13,309.63 L1295.72,307.57 L1296.31,307.86 L1296.9,311.54 L1297.49,258.95 L1298,266.93 L1298.51,272.31 L1299.01,277.72 L1299.52,285.47 L1300.03,295 L1300.53,299.88 L1301.04,309.18 L1301.87,250.09 L1302.4,254.84 L1302.93,263.85 L1303.46,268.41 L1303.99,274.91 L1304.59,275.07 L1305.18,277.34 L1305.77,275.76 L1306.36,279.38 L1306.95,281.41 L1307.46,278.28 L1307.96,274.18 L1308.47,271.05 L1308.97,273.5 L1309.48,268.39 L1309.99,263.84 L1310.49,263.09 L1311.08,265.18 L1311.68,267.95 L1312.27,264.28 L1312.86,265.68 L1313.45,270.18 L1314.04,279.44 L1314.63,293.22 L1315.22,288.83 L1315.81,279.47 L1316.4,277.16 L1316.99,271.2 L1317.58,264.27 L1318.18,272.04 L1318.77,277.45 L1319.36,286.72 L1319.88,293.77 L1320.41,296.64 L1320.93,298.84 L1321.46,300.97 L1321.98,307.7 L1322.51,310.08 L1323.03,315.24 L1323.56,317.62 L1324.08,322.77 L1324.68,312.38 L1325.27,297.49 L1325.86,287.8 L1326.45,280.86 L1327.04,266.63 L1327.63,276.52 L1328.22,280.36 L1328.81,289.09 L1329.4,285.08 L1329.99,275.27 L1330.58,270.18 L1331.17,318.04 L1331.77,310.07 L1332.36,298.03 L1332.95,285.15 L1333.54,274.91 L1334.13,279.82 L1334.72,284.76 L1335.31,294.41 L1335.9,291.66 L1336.49,281.11 L1337.08,280.94 L1337.67,273.72 L1338.27,287.91 L1338.86,296.18 L1339.45,290.28 L1340.04,281.37 L1340.63,279.48 L1341.22,270.77 L1341.81,288.57 L1342.4,300.31 L1342.99,293.64 L1343.58,284.42 L1344.17,275.6 L1344.76,268.41 L1345.36,266.72 L1345.95,265.11 L1346.54,267.39 L1347.13,265.14 L1347.72,264.86 L1348.24,268 L1348.75,272.52 L1349.27,281.21 L1349.79,283.94 L1350.3,290.34 L1350.82,294.32 L1351.34,302.91 L1351.86,305.63 L1352.45,301.49 L1353.04,289.15 L1353.63,285.54 L1354.15,279.14 L1354.67,275.46 L1355.19,275.19 L1355.71,269.39 L1356.23,263.09 L1357.17,295.59 L1357.76,287.91 L1358.35,280.46 L1358.95,276.76 L1359.54,269 L1360.13,275.06 L1360.72,279.56 L1361.31,279.7 L1361.9,287.04 L1362.49,288.5 L1363.08,287.48 L1363.67,283.97 L1364.26,284.96 L1364.85,279.63 L1365.45,281.09 L1366.04,287.38 L1366.63,289.09 L1367.22,280.13 L1367.81,274.37 L1368.4,270.18 L1368.99,276.12 L1369.58,274.96 L1370.17,281.76 L1370.76,284.06 L1371.35,286.72 L1371.95,285.17 L1372.54,278.4 L1373.13,275.5 L1373.66,275.89 L1374.19,277 L1374.72,282.1 L1375.25,281.84 L1375.79,285.5 L1376.32,286.48 L1376.85,283.09 L1377.38,287.17 L1377.91,285.73 L1378.44,289.68 L1379.04,280.62 L1379.63,274.74 L1380.22,271.36 L1380.81,283.31 L1381.4,292.41 L1381.99,302.27 L1382.58,309.77 L1383.17,292.99 L1383.76,278.99 L1384.35,262.5 L1384.94,264.18 L1385.54,261.48 L1386.13,262.6 L1386.72,260.26 L1387.31,261.91 L1387.9,261.59 L1388.49,265.14 L1389.08,269 L1390.03,258.36 L1390.57,266.94 L1391.11,270.93 L1391.65,279.32 L1392.19,282.4 L1392.73,287.32 L1393.27,296.66 L1393.81,300.91 L1394.4,281.14 L1394.99,257.18 L1395.58,269.42 L1396.17,289 L1396.76,303.27 L1397.35,291.67 L1397.94,282.84 L1398.53,278.79 L1399.13,264.4 L1399.72,258.36 L1400.31,258.47 L1400.9,265.03 L1401.49,263.17 L1402.08,265.45 L1402.59,268.73 L1403.09,274.8 L1403.6,281.02 L1404.11,289.97 L1404.61,291.61 L1405.12,302.52 L1405.63,305.63 L1406.22,306.33 L1406.81,311.6 L1407.4,312.68 L1407.99,311.54 L1407.46,307.94 L1406.92,305.39 L1406.39,304.54 L1405.86,299.84 L1405.33,301.09 L1404.79,294.89 L1404.26,292.42 L1403.73,296.35 L1403.2,289.67 L1402.66,289.31 L1402.13,286.09 L1401.6,282.93 L1401.07,279.04 L1400.53,282.2 L1400,277.27 L1400.59,271.41 L1401.18,259.54 L1401.77,268.46 L1402.36,268.87 L1402.95,275.45 L1403.55,283.18 L1404.14,290.73 L1404.73,299.84 L1405.32,303.84 L1405.91,310.36 L1406.5,306.36 L1407.09,301 L1407.68,293.22 L1408.27,289.83 L1408.86,284.36 L1409.45,289.39 L1410.04,295.26 L1410.64,300.47 L1411.23,308.01 L1411.82,315.68 L1412.41,311.09 L1413,299.98 L1413.59,293.61 L1414.18,284.95 L1414.77,290.74 L1415.36,297.52 L1415.95,298.87 L1416.54,304.45 L1417.14,298.49 L1417.73,293.89 L1418.32,289.1 L1418.91,287.76 L1419.5,280.82 L1420.09,289.39 L1420.68,291.67 L1421.27,297.92 L1421.86,305.04 L1422.37,298.91 L1422.88,292.72 L1423.38,286.41 L1423.89,277.75 L1424.39,269.9 L1424.9,264.91 L1425.41,260.13 L1426,264.13 L1426.59,273.93 L1427.18,277.6 L1427.77,284.36 L1428.36,293.81 L1428.95,291.73 L1429.54,286.57 L1430.13,286.82 L1430.73,281.95 L1431.32,279.04 L1431.91,286.68 L1432.5,287.47 L1433.09,295 L1433.68,289.69 L1434.27,286.25 L1434.86,276.34 L1435.45,273.72 L1435.96,276.26 L1436.47,270.96 L1436.97,274.48 L1437.48,275.48 L1437.98,274.09 L1438.49,270.55 L1439,271.36 L1439.51,274.09 L1440.03,281.94 L1440.55,289.78 L1441.07,291.02 L1441.58,300.1 L1442.1,300.53 L1442.62,310.7 L1443.13,313.31 L1443.64,309.56 L1444.15,310.62 L1444.65,313.61 L1445.16,312.22 L1445.67,312.12 L1446.17,310.94 L1446.68,308 L1447.19,304 L1447.69,298.07 L1448.2,289.22 L1448.71,285.28 L1449.21,277.95 L1449.72,275.94 L1450.22,269 L1450.74,276.42 L1451.26,280.12 L1451.78,285.27 L1452.29,297.37 L1452.81,302.73 L1453.33,307.42 L1453.84,313.73 L1454.36,319.81 L1454.87,314.3 L1455.37,303.98 L1455.88,295.85 L1456.39,287.72 L1456.89,279.44 L1457.4,270.17 L1457.91,265.45 L1458.5,272.69 L1459.09,277.52 L1459.68,284.36 L1460.27,277.13 L1460.86,266.2 L1461.45,260.39 L1462.04,253.64 L1462.63,253.68 L1463.22,255.96 L1463.81,259.18 L1464.41,265.19 L1465,265.45 L1465.59,276.32 L1466.18,287.86 L1466.77,300.74 L1467.36,311.54 L1467.95,294.47 L1468.54,280.82 L1469.13,283.34 L1469.72,292.34 L1470.31,297.84 L1470.91,304.46 L1471.5,309.18 L1472.09,302.05 L1472.68,296.9 L1473.27,290.45 L1473.86,280.56 L1474.45,275.5 L1475.04,291.81 L1475.63,308.06 L1476.22,324.54 L1476.81,312.85 L1477.4,304.13 L1478,295.15 L1478.59,287.44 L1479.18,274.91 L1479.68,285.68 L1480.19,289.67 L1480.7,300.15 L1481.2,304.43 L1481.71,312.68 L1482.22,323.6 L1482.72,331.63 L1483.31,325.77 L1483.9,312.91 L1484.5,308.52 L1485.09,298.54 L1485.68,310.45 L1486.27,316.25 L1486.86,326.9 L1487.37,318.6 L1487.87,310.06 L1488.38,297.47 L1488.88,290.04 L1489.39,280.72 L1489.9,270.28 L1490.4,260.13 L1490.92,270.47 L1491.44,278.77 L1491.96,287.23 L1492.47,292.79 L1492.99,298.32 L1493.51,306.84 L1494.02,314.68 L1494.54,324.54 L1495.13,294.85 L1495.72,264.27 L1496.31,280.1 L1496.9,289.77 L1497.49,306.81 L1498.09,297.1 L1498.68,286.46 L1499.27,273.22 L1499.86,263.42 L1500.45,252.45 L1501.04,248.42 L1501.63,250.14 L1502.22,243.84 L1502.81,247.97 L1503.4,243 L1503.99,247.1 L1504.59,248.08 L1505.18,247.89 L1505.77,254.15 L1506.36,253.64 L1506.95,275.88 L1507.54,289.93 L1508.13,311.54 L1508.72,301.49 L1509.31,290.09 L1509.9,277.11 L1510.49,265.55 L1511.08,252.45 L1511.68,305.63 L1512.18,299.03 L1512.69,295.85 L1513.2,289.91 L1513.7,279.89 L1514.21,276.34 L1514.71,267.72 L1515.22,261.91 L1515.81,258.93 L1516.4,259.14 L1516.99,257.03 L1517.58,261.22 L1518.18,257.77 L1518.69,266.25 L1519.21,266.41 L1519.73,275.03 L1520.24,279.34 L1520.76,283.02 L1521.28,289.7 L1521.79,294.94 L1522.31,302.09 L1522.9,285.37 L1523.49,265.45 L1524.08,265.59 L1524.68,270.09 L1525.27,274.99 L1525.86,275.62 L1526.45,282 L1526.95,281.97 L1527.46,280.98 L1527.97,281.61 L1528.47,276.74 L1528.98,276.4 L1529.49,277.2 L1529.99,276.09 L1530.51,274.27 L1531.03,275.9 L1531.54,273.39 L1532.06,275.79 L1532.58,276.1 L1533.1,275.85 L1533.61,276.53 L1534.13,273.13 L1534.72,278.98 L1535.31,284.18 L1535.9,292.07 L1536.49,297.07 L1537.08,300.91 L1537.67,278.31 L1538.27,254.82 L1538.77,257.28 L1539.28,259.85 L1539.78,261.93 L1540.29,269.62 L1540.8,268.41 L1541.3,275.65 L1541.81,277.27 L1542.33,282.29 L1542.84,289.7 L1543.36,293.12 L1543.88,299.21 L1544.4,298.58 L1544.91,305.63 L1545.43,310.82 L1545.95,315.09 L1546.45,308.31 L1546.96,303.96 L1547.47,297.46 L1547.97,292.98 L1548.48,284.04 L1548.99,281.29 L1549.49,276.09 L1550.08,280.1 L1550.67,283.51 L1551.26,289.09 L1551.86,279.38 L1552.45,272.78 L1553.04,261.91 L1553.63,268.04 L1554.22,271.78 L1554.81,277.74 L1555.4,280.98 L1555.99,286.72 L1556.58,280.57 L1557.17,275.04 L1557.76,272.54 L1558.35,270.34 L1558.95,265.45 L1559.46,269.96 L1559.98,271.7 L1560.5,271.73 L1561.01,276.84 L1561.53,275.55 L1562.05,280 L1562.56,279.35 L1563.08,282 L1563.67,269 L1564.26,273.16 L1564.85,277.32 L1565.45,275.55 L1566.04,277.29 L1566.63,282 L1567.22,280.4 L1567.81,277.47 L1568.4,274.01 L1568.99,269.37 L1569.58,270.18 L1570.17,272.31 L1570.76,275.38 L1571.35,278.08 L1571.95,283.84 L1572.54,284.36 L1573.06,284.64 L1573.59,285.33 L1574.11,286.12 L1574.64,284.9 L1575.16,283 L1575.69,284.36 L1576.21,283.42 L1576.74,283.21 L1577.26,282 L1577.85,279.28 L1578.44,274.31 L1579.04,272.19 L1579.63,267.82 L1580.22,281.28 L1580.81,295.82 L1581.4,305.63 L1581.99,298.58 L1582.58,287.91 L1583.17,297.41 L1583.76,304.19 L1584.35,309.77 L1584.86,305.12 L1585.37,297.11 L1585.87,288.8 L1586.38,281.59 L1586.89,277.76 L1587.39,272.15 L1587.9,263.09 L1588.49,266.92 L1589.08,267.95 L1589.67,275.86 L1590.26,277.27 L1590.77,280.55 L1591.28,283.81 L1591.78,284.49 L1592.29,290.84 L1592.79,295.72 L1593.3,297.03 L1593.81,300.91 L1594.4,264.86 L1594.99,269.73 L1595.58,277.45 L1596.17,279.16 L1596.76,288.07 L1597.35,293.81 L1597.94,292.53 L1598.53,286.76 L1599.13,280.78 L1599.72,277.27 L1600.24,281.43 L1600.77,283.85 L1601.29,284.27 L1601.82,287.22 L1602.34,294.51 L1602.87,293.52 L1603.39,295.23 L1603.92,303.02 L1604.44,303.86" fill="none" stroke="#000" stroke-width="2.7" stroke-linejoin="round" clip-path="url(#cR1)"/>
<path d="M1204.73,334.05 L1205.23,334.35 L1205.73,332.9 L1206.23,333.77 L1206.73,334.36 L1207.23,333.54 L1207.73,334.89 L1208.23,331.56 L1208.73,332.65 L1209.23,331.49 L1209.73,331.24 L1210.23,331.87 L1210.73,332.25 L1211.23,332.35 L1211.73,332.32 L1212.23,336.38 L1212.73,336.84 L1213.23,334.76 L1213.73,336.85 L1214.23,335.52 L1214.73,335.41 L1215.23,337.53 L1215.73,335.3 L1216.23,332.8 L1216.73,335.49 L1217.23,334.46 L1217.73,333.06 L1218.23,333.69 L1218.73,334.37 L1219.23,335.46 L1219.73,335.23 L1220.23,336.18 L1220.73,338.77 L1221.23,335.65 L1221.73,335.94 L1222.23,336.96 L1222.73,339.01 L1223.23,336.97 L1223.73,340.02 L1224.23,336.58 L1224.73,337.06 L1225.23,338.46 L1225.73,337.53 L1226.23,337.97 L1226.73,339.49 L1227.23,339.97 L1227.73,339.3 L1228.23,338.92 L1228.73,341.15 L1229.23,340.05 L1229.73,339.35 L1230.23,341.36 L1230.73,338.73 L1231.23,340.24 L1231.73,341.01 L1232.23,340.26 L1232.73,339.66 L1233.23,340.96 L1233.73,339.85 L1234.23,339.83 L1234.73,339.33 L1235.23,342.4 L1235.73,340.04 L1236.23,342.31 L1236.73,341.35 L1237.23,340.57 L1237.73,341.83 L1238.23,341.36 L1238.73,341.23 L1239.23,339.49 L1239.73,341.78 L1240.23,343.27 L1240.73,343.16 L1241.23,344.24 L1241.73,345.3 L1242.23,344.31 L1242.73,346.49 L1243.23,341.64 L1243.73,342.99 L1244.23,339.7 L1244.73,343.74 L1245.23,342.48 L1245.73,344.24 L1246.23,341.26 L1246.73,338.79 L1247.23,342.77 L1247.73,338.08 L1248.23,336.81 L1248.73,336.85 L1249.23,336.52 L1249.73,333.92 L1250.23,334.78 L1250.73,332.06 L1251.23,336.72 L1251.73,334.35 L1252.23,334.56 L1252.73,335.13 L1253.23,334.55 L1253.73,334.55 L1254.23,333.05 L1254.73,334.07 L1255.23,334.75 L1255.73,335.51 L1256.23,333.96 L1256.73,334.2 L1257.23,334.48 L1257.73,334.75 L1258.23,334.4 L1258.73,334.01 L1259.23,333.88 L1259.73,336.21 L1260.23,335.35 L1260.73,335.2 L1261.23,339.9 L1261.73,336.73 L1262.23,336.9 L1262.73,336.2 L1263.23,334.89 L1263.73,337.9 L1264.23,336.51 L1264.73,336.9 L1265.23,338.45 L1265.73,338.78 L1266.23,338.12 L1266.73,338.18 L1267.23,341.24 L1267.73,339.6 L1268.23,337.88 L1268.73,340.54 L1269.23,340.11 L1269.73,340.3 L1270.23,341.5 L1270.73,341.27 L1271.23,343.49 L1271.73,340.84 L1272.23,340.59 L1272.73,341.46 L1273.23,338.9 L1273.73,340.64 L1274.23,338.93 L1274.73,340.24 L1275.23,337.28 L1275.73,338.78 L1276.23,336.72 L1276.73,338.79 L1277.23,339.95 L1277.73,341.13 L1278.23,343.62 L1278.73,344 L1279.23,340.43 L1279.73,341.75 L1280.23,344.93 L1280.73,343.89 L1281.23,341.36 L1281.73,343.59 L1282.23,341.32 L1282.73,341.49 L1283.23,340.79 L1283.73,341.91 L1284.23,344.99 L1284.73,342.38 L1285.23,341.57 L1285.73,344.8 L1286.23,340.75 L1286.73,340.98 L1287.23,340.65 L1287.73,341.36 L1288.23,340.24 L1288.73,342.67 L1289.23,341.9 L1289.73,344.51 L1290.23,344.12 L1290.73,342.47 L1291.23,342.07 L1291.73,343.02 L1292.23,339.86 L1292.73,342.6 L1293.23,342.44 L1293.73,342.27 L1294.23,341.73 L1294.73,342.04 L1295.23,340.88 L1295.73,341.92 L1296.23,338.72 L1296.73,341.77 L1297.23,339.03 L1297.73,340.3 L1298.23,338.57 L1298.73,338.12 L1299.23,337.14 L1299.73,339.41 L1300.23,335.76 L1300.73,335.11 L1301.23,336.45 L1301.73,336.01 L1302.23,335.23 L1302.73,333.42 L1303.23,333.74 L1303.73,335.76 L1304.23,333.25 L1304.73,335.38 L1305.23,335.53 L1305.73,334.76 L1306.23,333.01 L1306.73,337.06 L1307.23,334.75 L1307.73,335.08 L1308.23,334.96 L1308.73,334.84 L1309.23,336.35 L1309.73,337.58 L1310.23,336.42 L1310.73,337.62 L1311.23,338.92 L1311.73,337.96 L1312.23,337.22 L1312.73,338.67 L1313.23,338.46 L1313.73,338.39 L1314.23,336.15 L1314.73,334.79 L1315.23,338.13 L1315.73,337.13 L1316.23,336.54 L1316.73,337.6 L1317.23,336.35 L1317.73,336.09 L1318.23,339.19 L1318.73,334.75 L1319.23,337.85 L1319.73,338.03 L1320.23,338.98 L1320.73,336.97 L1321.23,337.26 L1321.73,335.37 L1322.23,336.56 L1322.73,333.75 L1323.23,335.7 L1323.73,336.35 L1324.23,336.7 L1324.73,337.88 L1325.23,341.68 L1325.73,339.78 L1326.23,342.34 L1326.73,341.5 L1327.23,341.93 L1327.73,341.8 L1328.23,344.11 L1328.73,340.07 L1329.23,343.04 L1329.73,342.98 L1330.23,340.1 L1330.73,337.72 L1331.23,335.5 L1331.73,337.36 L1332.23,342.49 L1332.73,338.42 L1333.23,343.18 L1333.73,342.51 L1334.23,345.73 L1334.73,343.56 L1335.23,341.28 L1335.73,342.23 L1336.23,343.03 L1336.73,342.81 L1337.23,341.3 L1337.73,342.04 L1338.23,341.68 L1338.73,342.78 L1339.23,342.39 L1339.73,342.2 L1340.23,341.02 L1340.73,342.67 L1341.23,340.8 L1341.73,340.33 L1342.23,340.72 L1342.73,340.73 L1343.23,340.63 L1343.73,338.41 L1344.23,342.53 L1344.73,341.46 L1345.23,342.24 L1345.73,340.91 L1346.23,343.65 L1346.73,342.99 L1347.23,340.87 L1347.73,341.25 L1348.23,336.26 L1348.73,335.87 L1349.23,330.99 L1349.73,333.22 L1350.23,332.84 L1350.73,332.32 L1351.23,333.44 L1351.73,332.04 L1352.23,333.98 L1352.73,336.14 L1353.23,333.08 L1353.73,338.38 L1354.23,338.36 L1354.73,336.25 L1355.23,335.43 L1355.73,335.66 L1356.23,335.94 L1356.73,336.75 L1357.23,340.67 L1357.73,336.51 L1358.23,339.08 L1358.73,339.84 L1359.23,337.12 L1359.73,338.13 L1360.23,339.47 L1360.73,337.88 L1361.23,340.47 L1361.73,341.76 L1362.23,339.04 L1362.73,338.16 L1363.23,340.12 L1363.73,339.91 L1364.23,338.63 L1364.73,339.54 L1365.23,339.96 L1365.73,340.59 L1366.23,341.48 L1366.73,339.44 L1367.23,338.44 L1367.73,338.09 L1368.23,342.66 L1368.73,339.77 L1369.23,339.85 L1369.73,343.63 L1370.23,342 L1370.73,343.96 L1371.23,341.33 L1371.73,341.15 L1372.23,341.87 L1372.73,343.89 L1373.23,344.09 L1373.73,344.57 L1374.23,347.49 L1374.73,346.81 L1375.23,343.84 L1375.73,345.87 L1376.23,346.13 L1376.73,344.44 L1377.23,348.46 L1377.73,346.69 L1378.23,347.52 L1378.73,344.91 L1379.23,344.17 L1379.73,346.68 L1380.23,345.5 L1380.73,345.05 L1381.23,345.15 L1381.73,344.89 L1382.23,344.16 L1382.73,343.05 L1383.23,343.27 L1383.73,345.79 L1384.23,342.9 L1384.73,340.05 L1385.23,342.72 L1385.73,338.79 L1386.23,336.76 L1386.73,336.33 L1387.23,335.4 L1387.73,339.48 L1388.23,336.48 L1388.73,335.98 L1389.23,337.04 L1389.73,337.43 L1390.23,336 L1390.73,336.81 L1391.23,337.47 L1391.73,338.25 L1392.23,336.1 L1392.73,337.99 L1393.23,337.53 L1393.73,337.84 L1394.23,336.35 L1394.73,335.46 L1395.23,338.11 L1395.73,337.43 L1396.23,335.62 L1396.73,335.3 L1397.23,337.04 L1397.73,338.59 L1398.23,336.26 L1398.73,338.89 L1399.23,335.83 L1399.73,335.69 L1400.23,335.7 L1400.73,336.31 L1401.23,332.75 L1401.73,334.73 L1402.23,336 L1402.73,332.14 L1403.23,334.31 L1403.73,334.36 L1404.23,334.98 L1404.73,334.15 L1405.23,331.42 L1405.73,333.52 L1406.23,328.73 L1406.73,327.71 L1407.23,330.63 L1407.73,329.7 L1408.23,328.97 L1408.73,333.52 L1409.23,334.88 L1409.73,336.34 L1410.23,336.46 L1410.73,337.01 L1411.23,338.12 L1411.73,341.68 L1412.23,340.9 L1412.73,339.01 L1413.23,337.54 L1413.73,338.06 L1414.23,333.95 L1414.73,333.05 L1415.23,335.19 L1415.73,331.46 L1416.23,331.56 L1416.73,333.88 L1417.23,330.23 L1417.73,334.8 L1418.23,331.12 L1418.73,334.58 L1419.23,337.49 L1419.73,341.42 L1420.23,344.2 L1420.73,346.22 L1421.23,344.75 L1421.73,346.47 L1422.23,345.52 L1422.73,342.71 L1423.23,344.19 L1423.73,343.2 L1424.23,343.27 L1424.73,343.83 L1425.23,343.99 L1425.73,343.9 L1426.23,340.39 L1426.73,342.8 L1427.23,342.21 L1427.73,344.89 L1428.23,341.8 L1428.73,341.72 L1429.23,341.42 L1429.73,342.09 L1430.23,339.21 L1430.73,340.2 L1431.23,339.85 L1431.73,339.64 L1432.23,338.98 L1432.73,338.25 L1433.23,338.78 L1433.73,336.79 L1434.23,340.49 L1434.73,338.21 L1435.23,335.69 L1435.73,337.55 L1436.23,339.01 L1436.73,337.36 L1437.23,337.27 L1437.73,334.32 L1438.23,339.03 L1438.73,337.1 L1439.23,334.29 L1439.73,336.13 L1440.23,338.48 L1440.73,336.92 L1441.23,334.31 L1441.73,335.39 L1442.23,336.29 L1442.73,338.53 L1443.23,335.99 L1443.73,336.48 L1444.23,334.95 L1444.73,335.28 L1445.23,333.88 L1445.73,333.53 L1446.23,333.53 L1446.73,334.6 L1447.23,337.06 L1447.73,335.43 L1448.23,337.1 L1448.73,336.6 L1449.23,335.85 L1449.73,335.04 L1450.23,338.57 L1450.73,337.3 L1451.23,337.5 L1451.73,339.19 L1452.23,337.96 L1452.73,336.33 L1453.23,336.59 L1453.73,336.88 L1454.23,339.15 L1454.73,334.93 L1455.23,333.94 L1455.73,336.18 L1456.23,338.07 L1456.73,338.55 L1457.23,341.78 L1457.73,342.6 L1458.23,341.18 L1458.73,339.69 L1459.23,340.47 L1459.73,338.96 L1460.23,337 L1460.73,334.28 L1461.23,336.58 L1461.73,333.66 L1462.23,332.97 L1462.73,337.81 L1463.23,336.92 L1463.73,336.86 L1464.23,338.04 L1464.73,338.55 L1465.23,336.95 L1465.73,337.14 L1466.23,337.73 L1466.73,337.87 L1467.23,336.81 L1467.73,334.62 L1468.23,339.45 L1468.73,335.02 L1469.23,335.04 L1469.73,336.41 L1470.23,335.38 L1470.73,335.95 L1471.23,338.88 L1471.73,338.43 L1472.23,336.79 L1472.73,338.66 L1473.23,338.99 L1473.73,341.55 L1474.23,339.56 L1474.73,339.53 L1475.23,338 L1475.73,340.28 L1476.23,339.54 L1476.73,339.39 L1477.23,338.98 L1477.73,335.71 L1478.23,336.22 L1478.73,334.71 L1479.23,337.15 L1479.73,336.08 L1480.23,332.48 L1480.73,334.49 L1481.23,333.36 L1481.73,331.32 L1482.23,327.58 L1482.73,321.41 L1483.23,321.12 L1483.73,319.99 L1484.23,319.33 L1484.73,318.63 L1485.23,321.84 L1485.73,321.43 L1486.23,320.68 L1486.73,319.17 L1487.23,324.63 L1487.73,322.04 L1488.23,322.6 L1488.73,323.51 L1489.23,325.23 L1489.73,322.94 L1490.23,319.07 L1490.73,320.24 L1491.23,319.12 L1491.73,316.9 L1492.23,318.06 L1492.73,314.06 L1493.23,316.5 L1493.73,316.73 L1494.23,320.48 L1494.73,320.28 L1495.23,323.97 L1495.73,324.75 L1496.23,324.53 L1496.73,324.48 L1497.23,321.72 L1497.73,322.98 L1498.23,323.6 L1498.73,322.57 L1499.23,324.38 L1499.73,323.71 L1500.23,321.37 L1500.73,323.61 L1501.23,321.53 L1501.73,322.29 L1502.23,322.92 L1502.73,319.62 L1503.23,321 L1503.73,323.24 L1504.23,324.26 L1504.73,323.63 L1505.23,327.4 L1505.73,322.74 L1506.23,318.79 L1506.73,314.93 L1507.23,314.33 L1507.73,313.46 L1508.23,316.09 L1508.73,316.26 L1509.23,317.34 L1509.73,317.97 L1510.23,321.83 L1510.73,318.2 L1511.23,320.99 L1511.73,321.82 L1512.23,319.5 L1512.73,318.07 L1513.23,319.28 L1513.73,315.7 L1514.23,315.55 L1514.73,315.45 L1515.23,313.24 L1515.73,312.25 L1516.23,312.01 L1516.73,313.42 L1517.23,311.85 L1517.73,314.65 L1518.23,314.77 L1518.73,315.3 L1519.23,314.92 L1519.73,318.63 L1520.23,316.43 L1520.73,315.35 L1521.23,313.91 L1521.73,315.73 L1522.23,312.1 L1522.73,310.94 L1523.23,310.54 L1523.73,310.81 L1524.23,311.16 L1524.73,309.39 L1525.23,313.62 L1525.73,314.84 L1526.23,317.14 L1526.73,315.83 L1527.23,318.12 L1527.73,318.74 L1528.23,315.36 L1528.73,315.67 L1529.23,317.23 L1529.73,317.45 L1530.23,315.82 L1530.73,317.25 L1531.23,313.62 L1531.73,316.28 L1532.23,315.06 L1532.73,315.06 L1533.23,313.94 L1533.73,313.61 L1534.23,311.56 L1534.73,313.39 L1535.23,309.76 L1535.73,313.67 L1536.23,313.38 L1536.73,317.62 L1537.23,314.48 L1537.73,316.99 L1538.23,317.68 L1538.73,319.63 L1539.23,319.45 L1539.73,318.5 L1540.23,319.79 L1540.73,321.58 L1541.23,321.13 L1541.73,319.29 L1542.23,318.68 L1542.73,318.72 L1543.23,320.33 L1543.73,320.35 L1544.23,320.17 L1544.73,320.05 L1545.23,321.05 L1545.73,322.61 L1546.23,322.28 L1546.73,320.15 L1547.23,320.9 L1547.73,318.72 L1548.23,319.88 L1548.73,318.72 L1549.23,317.77 L1549.73,318.61 L1550.23,316.51 L1550.73,316.47 L1551.23,317.23 L1551.73,314.18 L1552.23,315.24 L1552.73,315.34 L1553.23,317.03 L1553.73,316.09 L1554.23,314.54 L1554.73,315.29 L1555.23,320.22 L1555.73,324.88 L1556.23,325.72 L1556.73,320.57 L1557.23,318.82 L1557.73,313.13 L1558.23,314.32 L1558.73,314.34 L1559.23,315.06 L1559.73,317.65 L1560.23,315.54 L1560.73,315.89 L1561.23,313.5 L1561.73,315.9 L1562.23,317.69 L1562.73,317.28 L1563.23,319.04 L1563.73,317.94 L1564.23,319.69 L1564.73,319.29 L1565.23,320.66 L1565.73,319.18 L1566.23,321.01 L1566.73,319.53 L1567.23,319.44 L1567.73,322.23 L1568.23,319.25 L1568.73,320.14 L1569.23,323.78 L1569.73,322.17 L1570.23,323.24 L1570.73,328.06 L1571.23,327.15 L1571.73,328.77 L1572.23,325.25 L1572.73,326.06 L1573.23,323.19 L1573.73,321.33 L1574.23,323.18 L1574.73,324.9 L1575.23,329.5 L1575.73,326.64 L1576.23,329.3 L1576.73,327.81 L1577.23,329.82 L1577.73,328.19 L1578.23,328.16 L1578.73,327.04 L1579.23,325.6 L1579.73,325.56 L1580.23,324.77 L1580.73,325.39 L1581.23,323.22 L1581.73,322.42 L1582.23,320.64 L1582.73,323.72 L1583.23,322.61 L1583.73,321.89 L1584.23,324.89 L1584.73,324.78 L1585.23,323.8 L1585.73,324.14 L1586.23,322.6 L1586.73,321.54 L1587.23,327.28 L1587.73,327.67 L1588.23,330.98 L1588.73,329.19 L1589.23,329.47 L1589.73,327.94 L1590.23,328.7 L1590.73,328.67 L1591.23,327.3 L1591.73,327.63 L1592.23,327.14 L1592.73,325.72 L1593.23,324.5 L1593.73,328.33 L1594.23,327.52 L1594.73,327.76 L1595.23,327.5 L1595.73,328.4 L1596.23,333.23 L1596.73,334.62 L1597.23,334.85 L1597.73,336.55 L1598.23,332.21" fill="none" stroke="#f00" stroke-width="1.5" stroke-linejoin="round" clip-path="url(#cR1)"/>
<path d="M1204.73,333.99 L1205.32,335.25 L1205.91,333.4 L1206.45,334.76 L1206.98,331.57 L1207.52,331.51 L1208.06,333.9 L1208.59,333.4 L1209.13,333.01 L1209.67,331.62 L1210.21,332.47 L1210.74,332.32 L1211.28,332.07 L1211.82,331.63 L1212.41,333.13 L1213,336.95 L1213.52,336.45 L1214.05,336.06 L1214.57,336.92 L1215.1,337.58 L1215.63,337.16 L1216.15,335.52 L1216.68,334.92 L1217.2,334.06 L1217.73,334.59 L1218.26,333.33 L1218.8,333.62 L1219.34,335.43 L1219.87,335.26 L1220.41,335.79 L1220.95,337.85 L1221.49,336.93 L1222.02,337.37 L1222.56,336.59 L1223.1,336.19 L1223.64,338.13 L1224.16,337.67 L1224.69,337.16 L1225.21,338.56 L1225.74,340.35 L1226.26,339.38 L1226.79,337.84 L1227.31,340.39 L1227.84,340.19 L1228.36,340.11 L1228.89,340.83 L1229.41,340.47 L1229.94,340.69 L1230.46,339.34 L1230.99,341.6 L1231.51,341.67 L1232.04,339.08 L1232.56,341.23 L1233.09,340.49 L1233.63,341.28 L1234.16,340.47 L1234.7,340.76 L1235.24,340.67 L1235.77,342.21 L1236.31,340.82 L1236.85,342 L1237.39,340.43 L1237.92,342.28 L1238.46,342.39 L1239,341.08 L1239.5,341.37 L1240.01,342.16 L1240.52,343.78 L1241.02,343.53 L1241.53,343.15 L1242.04,342.67 L1242.54,344.04 L1243.07,343.11 L1243.59,344.06 L1244.12,341.92 L1244.64,344.11 L1245.17,341.61 L1245.69,343.47 L1246.22,341.09 L1246.74,342.97 L1247.27,341.08 L1247.86,340.16 L1248.45,337.85 L1249.04,336.27 L1249.63,334.59 L1250.15,335.06 L1250.67,334.81 L1251.18,333.83 L1251.7,333.44 L1252.22,334.44 L1252.74,335.84 L1253.25,334.75 L1253.77,332.85 L1254.29,335.34 L1254.8,334.98 L1255.32,335.56 L1255.84,333.09 L1256.35,334.94 L1256.87,332.57 L1257.39,334.55 L1257.91,333.99 L1258.41,333.43 L1258.92,333.49 L1259.43,335.9 L1259.93,333.5 L1260.44,335.13 L1260.94,336.46 L1261.45,334.6 L1261.96,334.7 L1262.46,337.19 L1262.97,335.84 L1263.48,337.05 L1263.98,334.94 L1264.49,336.27 L1265,336.95 L1265.53,336.21 L1266.07,338.29 L1266.61,336.66 L1267.15,340 L1267.68,337.21 L1268.22,339.98 L1268.76,337.95 L1269.29,339.13 L1269.83,341.4 L1270.37,339.54 L1270.91,341.08 L1271.43,339.68 L1271.96,341.08 L1272.48,339.71 L1273.01,338.22 L1273.53,341.11 L1274.06,337.93 L1274.58,337.21 L1275.11,337.93 L1275.63,338.13 L1276.16,339.11 L1276.68,340.14 L1277.21,338.59 L1277.73,339.94 L1278.26,339.49 L1278.78,341.5 L1279.31,343.17 L1279.83,343.67 L1280.36,343.45 L1280.88,344.63 L1281.39,343.95 L1281.91,344.13 L1282.43,343.41 L1282.94,342.43 L1283.46,341.41 L1283.98,342.7 L1284.5,341.35 L1285.01,340.43 L1285.53,341.42 L1286.05,342.69 L1286.56,339.97 L1287.08,341.34 L1287.6,340.5 L1288.11,340.73 L1288.63,340.49 L1289.22,341.06 L1289.81,344.04 L1290.32,345.35 L1290.83,342.71 L1291.33,343.64 L1291.84,342.75 L1292.35,341.13 L1292.85,342.72 L1293.36,341.04 L1293.87,340.51 L1294.37,340.17 L1294.88,340.35 L1295.38,339.88 L1295.89,341.46 L1296.4,340.78 L1296.9,340.49 L1297.44,341.6 L1297.98,340.9 L1298.52,340.56 L1299.05,337.44 L1299.59,337.62 L1300.13,336.42 L1300.66,337.04 L1301.2,336.62 L1301.74,336.68 L1302.28,335.83 L1302.81,334.59 L1303.34,333.76 L1303.86,334.32 L1304.39,334.67 L1304.91,332.9 L1305.44,333.01 L1305.96,334.27 L1306.49,333.26 L1307.01,335.35 L1307.54,334.59 L1308.13,334.44 L1308.72,334.7 L1309.31,335.72 L1309.9,337.54 L1310.41,336.58 L1310.92,336.49 L1311.42,337.48 L1311.93,337.25 L1312.44,336.68 L1312.94,337.77 L1313.45,336.27 L1313.95,338.58 L1314.46,338.73 L1314.97,337.9 L1315.47,336.85 L1315.98,337.07 L1316.49,337.27 L1316.99,335.42 L1317.5,336.63 L1318.01,336.95 L1318.51,335.74 L1319.02,335.4 L1319.53,337.77 L1320.03,336.24 L1320.54,336.72 L1321.05,338.04 L1321.55,336.94 L1322.06,335.81 L1322.56,338.13 L1323.07,336.01 L1323.58,334.76 L1324.08,336.36 L1324.68,338.96 L1325.27,338.94 L1325.86,342.27 L1326.37,341.46 L1326.89,343.13 L1327.41,342.41 L1327.92,340.03 L1328.44,341.36 L1328.96,341.08 L1329.48,341.18 L1329.99,341.08 L1330.58,338.02 L1331.17,336.95 L1331.77,338.88 L1332.36,338.75 L1332.95,341.09 L1333.54,343.45 L1334.05,342.89 L1334.57,344.67 L1335.08,341.62 L1335.59,343.8 L1336.11,341.76 L1336.62,342.92 L1337.13,342.18 L1337.65,342.3 L1338.16,343.15 L1338.68,341.81 L1339.19,340.75 L1339.7,340.62 L1340.22,340.35 L1340.73,342.84 L1341.25,342 L1341.76,342.96 L1342.27,341.92 L1342.79,339.52 L1343.3,341.55 L1343.81,341.82 L1344.33,341.51 L1344.84,340.62 L1345.36,340.49 L1345.95,341.49 L1346.54,343.45 L1347.13,341.06 L1347.72,339.97 L1348.31,335.93 L1348.9,334.56 L1349.49,332.22 L1350.01,332.74 L1350.53,334.95 L1351.04,335.03 L1351.56,336.05 L1352.08,336.32 L1352.59,335.08 L1353.11,335.45 L1353.63,336.95 L1354.14,337.04 L1354.66,336.39 L1355.17,337.09 L1355.68,338.07 L1356.2,339.01 L1356.71,338.01 L1357.22,338.93 L1357.74,336.6 L1358.25,337.62 L1358.77,339.93 L1359.28,337.16 L1359.79,338.21 L1360.31,337.15 L1360.82,337.34 L1361.34,340.22 L1361.85,340.67 L1362.36,339.64 L1362.88,338 L1363.39,338.7 L1363.9,338.61 L1364.42,340.23 L1364.93,340.39 L1365.45,339.9 L1365.97,339.76 L1366.5,340.12 L1367.02,338.78 L1367.55,340.3 L1368.07,341.76 L1368.6,341.17 L1369.12,338.99 L1369.65,340.48 L1370.17,340.49 L1370.7,341.75 L1371.22,340.72 L1371.75,343.41 L1372.27,342.46 L1372.8,343.81 L1373.32,343.32 L1373.85,345.85 L1374.37,345.66 L1374.9,345.22 L1375.44,345.52 L1375.97,344.12 L1376.51,345.18 L1377.05,343.84 L1377.59,345.81 L1378.12,346.84 L1378.66,344.51 L1379.2,345.69 L1379.73,345.64 L1380.27,345.43 L1380.81,345.81 L1381.35,345.83 L1381.88,345.9 L1382.42,344.42 L1382.96,342.93 L1383.49,343.89 L1384.03,341.05 L1384.57,341.76 L1385.11,340.76 L1385.64,340.42 L1386.18,340.03 L1386.72,338.13 L1387.23,337.12 L1387.75,338.39 L1388.27,337.58 L1388.79,338.4 L1389.3,339.38 L1389.82,338.15 L1390.34,335.95 L1390.85,337.42 L1391.37,338.19 L1391.89,338.69 L1392.4,337.83 L1392.92,338.32 L1393.44,335.53 L1393.96,338.6 L1394.47,337.8 L1394.99,336.95 L1395.51,337.13 L1396.02,337.96 L1396.54,337.7 L1397.06,334.85 L1397.57,337.1 L1398.09,336.75 L1398.61,334.63 L1399.13,336.3 L1399.64,335.58 L1400.16,334.05 L1400.68,335.95 L1401.19,333.5 L1401.71,334.93 L1402.23,334.14 L1402.74,333.34 L1403.26,333.99 L1403.78,333.55 L1404.3,332.55 L1404.81,331 L1405.33,332.92 L1405.85,329.22 L1406.36,328.32 L1406.88,329.29 L1407.4,328.68 L1406.87,330.46 L1406.34,330.48 L1405.81,331.44 L1405.28,331.16 L1404.76,332.44 L1404.23,331.91 L1403.7,332.32 L1403.17,333.75 L1402.64,332.77 L1402.11,333.58 L1401.59,336.5 L1401.06,335.16 L1400.53,337.76 L1400,337.54 L1400.53,337.98 L1401.05,336.16 L1401.58,336.56 L1402.1,336.42 L1402.63,336.15 L1403.15,333.15 L1403.68,332.72 L1404.2,332.94 L1404.73,332.81 L1405.32,331.87 L1405.91,330.46 L1406.5,328.67 L1407.09,329.7 L1407.68,328.68 L1408.2,331.96 L1408.72,331.62 L1409.23,333.9 L1409.75,335.07 L1410.27,336.98 L1410.78,340.13 L1411.3,339.92 L1411.82,342.27 L1412.32,341.34 L1412.83,339.34 L1413.34,338.09 L1413.84,337.94 L1414.35,333.65 L1414.86,334.76 L1415.36,332.22 L1415.95,331.67 L1416.54,332.96 L1417.14,333.58 L1417.73,333.22 L1418.32,332.81 L1418.91,336.58 L1419.5,342.24 L1420.09,345.22 L1420.6,343.67 L1421.1,345.34 L1421.61,344.34 L1422.12,344.65 L1422.62,345.57 L1423.13,345.22 L1423.64,344.48 L1424.14,343.22 L1424.65,342.79 L1425.15,343.39 L1425.66,342.45 L1426.17,342.44 L1426.67,344.58 L1427.18,342.86 L1427.72,341.16 L1428.25,343.19 L1428.79,341.32 L1429.33,340.89 L1429.87,340.36 L1430.4,339.16 L1430.94,340.08 L1431.48,338.72 L1432.01,339.28 L1432.55,338.39 L1433.09,338.72 L1433.6,339.91 L1434.12,339.85 L1434.63,338.06 L1435.14,338.58 L1435.66,339.41 L1436.17,337.21 L1436.69,336.28 L1437.2,336.6 L1437.71,336.28 L1438.23,337.79 L1438.74,336.6 L1439.25,336.38 L1439.77,337.72 L1440.28,335.66 L1440.8,337.46 L1441.31,336.71 L1441.82,335.76 L1442.34,337.05 L1442.85,335.26 L1443.37,336.93 L1443.88,336.93 L1444.39,335.34 L1444.91,335.18 L1445.41,335.88 L1445.92,336.81 L1446.43,336.17 L1446.93,336.25 L1447.44,336.71 L1447.95,336.99 L1448.45,336.43 L1448.96,337.26 L1449.46,334.97 L1449.97,336.16 L1450.48,336.38 L1450.98,335.4 L1451.49,335.55 L1452,334.86 L1452.5,337.58 L1453.01,335.58 L1453.52,336.05 L1454.02,337.53 L1454.53,335.18 L1455.04,337.87 L1455.54,336.36 L1456.13,336.57 L1456.72,337.71 L1457.32,340.28 L1457.91,342.27 L1458.5,339.87 L1459.09,339.85 L1459.68,337.81 L1460.27,334.59 L1460.81,335.69 L1461.34,334.8 L1461.88,335.37 L1462.42,334.55 L1462.96,336.79 L1463.49,335.5 L1464.03,335.36 L1464.57,336.77 L1465.1,335.33 L1465.64,336.11 L1466.18,336.95 L1466.7,338.2 L1467.23,335.18 L1467.75,335.14 L1468.28,335.16 L1468.8,335.12 L1469.33,335.5 L1469.85,334.72 L1470.38,334.84 L1470.91,335.18 L1471.41,335.16 L1471.92,335.98 L1472.42,338.08 L1472.93,338 L1473.44,338.96 L1473.94,341.15 L1474.45,341.08 L1474.96,339 L1475.46,338.69 L1475.97,340.51 L1476.48,338.48 L1476.98,339.08 L1477.49,336.29 L1478,337.03 L1478.5,337.53 L1479.01,335.22 L1479.52,336.09 L1480.02,334.96 L1480.53,333.64 L1481.03,335.09 L1481.54,332.81 L1482.13,327.13 L1482.72,322.18 L1483.31,321.3 L1483.9,321.01 L1484.5,319.81 L1485.03,319.55 L1485.56,321.67 L1486.09,321.21 L1486.62,321.53 L1487.15,321.72 L1487.69,323.59 L1488.22,323.96 L1488.75,323.81 L1489.28,322.85 L1489.81,323.36 L1490.4,321.29 L1491,319.9 L1491.59,316.5 L1492.18,314.94 L1492.77,314.5 L1493.36,318.19 L1493.95,317.25 L1494.54,322.01 L1495.13,323.14 L1495.72,324.54 L1496.23,325.7 L1496.73,322.6 L1497.24,323.12 L1497.75,324.54 L1498.25,321.6 L1498.76,321.68 L1499.27,322.26 L1499.77,321.4 L1500.28,321.06 L1500.79,322.59 L1501.29,320.37 L1501.8,323.1 L1502.31,321.76 L1502.81,321 L1503.4,320.94 L1503.99,325.31 L1504.59,324.55 L1505.18,326.9 L1505.77,322.11 L1506.36,317.65 L1506.95,312.72 L1507.47,312.68 L1507.98,315.09 L1508.5,314.77 L1509.02,316.43 L1509.53,320.05 L1510.05,320.91 L1510.57,321.07 L1511.08,322.18 L1511.62,321.73 L1512.15,321.33 L1512.68,317.76 L1513.21,317.9 L1513.74,315.61 L1514.28,314.49 L1514.81,313.4 L1515.34,312.69 L1515.87,311.09 L1516.4,311.54 L1516.99,311.64 L1517.58,313.26 L1518.18,315.15 L1518.77,317.01 L1519.36,316.86 L1519.88,317.51 L1520.41,316.15 L1520.93,314.72 L1521.46,315.39 L1521.98,312.1 L1522.51,311.18 L1523.03,312.88 L1523.56,311.51 L1524.08,310.36 L1524.68,310.85 L1525.27,312.9 L1525.86,314.1 L1526.45,316.27 L1526.97,315.97 L1527.5,315.89 L1528.02,315.72 L1528.55,317.02 L1529.07,317 L1529.6,316.09 L1530.12,315.72 L1530.65,315.01 L1531.17,315.68 L1531.68,315.99 L1532.19,316.15 L1532.69,312.98 L1533.2,314 L1533.71,313.4 L1534.21,312.67 L1534.72,311.54 L1535.25,310.86 L1535.77,313.56 L1536.3,313.29 L1536.82,314.18 L1537.35,316.41 L1537.87,317.55 L1538.4,318.4 L1538.92,319.72 L1539.45,319.81 L1539.95,320.59 L1540.46,319.9 L1540.97,318.53 L1541.47,321.08 L1541.98,321.33 L1542.49,321.46 L1542.99,320.74 L1543.5,318.92 L1544.01,319.54 L1544.51,319.33 L1545.02,321.2 L1545.52,320.98 L1546.03,319.84 L1546.54,321 L1547.04,321.7 L1547.55,320.93 L1548.06,319.82 L1548.56,317.5 L1549.07,316.07 L1549.58,314.94 L1550.08,315.09 L1550.61,316.32 L1551.13,316.03 L1551.66,314.72 L1552.18,316.98 L1552.71,315.98 L1553.23,315.58 L1553.76,315.72 L1554.28,316.89 L1554.81,316.27 L1555.4,322.03 L1555.99,328.09 L1556.58,324.1 L1557.17,317.74 L1557.76,314.5 L1558.31,315.53 L1558.85,314.41 L1559.39,316.93 L1559.93,314.9 L1560.47,315.65 L1561.01,316.69 L1561.56,316.54 L1562.1,317.34 L1562.64,319.04 L1563.18,316.93 L1563.72,319.21 L1564.26,318.63 L1564.8,319.61 L1565.34,320.25 L1565.88,319.42 L1566.41,319.77 L1566.95,319.72 L1567.49,320.47 L1568.02,320.05 L1568.56,320.16 L1569.1,321.45 L1569.64,320.81 L1570.17,322.18 L1570.76,328.09 L1571.35,326.8 L1571.95,325.97 L1572.54,323.89 L1573.13,322.24 L1573.72,322.18 L1574.31,324.07 L1574.9,326.47 L1575.49,325.84 L1576.08,328.72 L1576.67,329.86 L1577.2,329.63 L1577.74,329.63 L1578.27,328.17 L1578.8,326.13 L1579.33,325.02 L1579.86,326.39 L1580.39,323.8 L1580.93,322.06 L1581.46,324.2 L1581.99,322.18 L1582.52,321.41 L1583.04,322.07 L1583.57,322.35 L1584.09,322.4 L1584.62,324.25 L1585.14,323.22 L1585.67,323.81 L1586.19,324 L1586.72,324.54 L1587.31,328.63 L1587.9,330.45 L1588.42,328.29 L1588.95,329.67 L1589.47,327.62 L1590,327.16 L1590.52,328.19 L1591.05,326.88 L1591.58,325.29 L1592.1,326.55 L1592.63,325.72 L1593.16,327.99 L1593.7,327.93 L1594.24,328.29 L1594.77,330.18 L1595.31,331.43 L1595.85,329.69 L1596.39,331.06 L1596.92,334.18 L1597.46,334.91 L1598,333.31 L1598.53,335.18" fill="none" stroke="#f00" stroke-width="2.6" stroke-linejoin="round" clip-path="url(#cR1)"/>
<line x1="1205" y1="455.5" x2="1210.8" y2="455.5" stroke="#000" stroke-width="1.1"/>
<text x="1199.5" y="462.9" font-size="19.5" text-anchor="end" fill="#000" >−20</text>
<line x1="1205" y1="411.5" x2="1210.8" y2="411.5" stroke="#000" stroke-width="1.1"/>
<text x="1199.5" y="419.77" font-size="19.5" text-anchor="end" fill="#000" >−15</text>
<line x1="1205" y1="368.5" x2="1210.8" y2="368.5" stroke="#000" stroke-width="1.1"/>
<text x="1199.5" y="376.65" font-size="19.5" text-anchor="end" fill="#000" >−10</text>
<line x1="1205" y1="325.5" x2="1210.8" y2="325.5" stroke="#000" stroke-width="1.1"/>
<text x="1199.5" y="333.52" font-size="19.5" text-anchor="end" fill="#000" >−5</text>
<line x1="1205" y1="282.5" x2="1210.8" y2="282.5" stroke="#000" stroke-width="1.1"/>
<text x="1199.5" y="290.4" font-size="19.5" text-anchor="end" fill="#000" >0</text>
<line x1="1205" y1="239.5" x2="1210.8" y2="239.5" stroke="#000" stroke-width="1.1"/>
<text x="1199.5" y="247.28" font-size="19.5" text-anchor="end" fill="#000" >5</text>
<line x1="1205" y1="196.5" x2="1210.8" y2="196.5" stroke="#000" stroke-width="1.1"/>
<text x="1199.5" y="204.15" font-size="19.5" text-anchor="end" fill="#000" >10</text>
<line x1="1205" y1="153.5" x2="1210.8" y2="153.5" stroke="#000" stroke-width="1.1"/>
<text x="1199.5" y="161.03" font-size="19.5" text-anchor="end" fill="#000" >15</text>
<line x1="1205" y1="110.5" x2="1210.8" y2="110.5" stroke="#000" stroke-width="1.1"/>
<text x="1199.5" y="117.9" font-size="19.5" text-anchor="end" fill="#000" >20</text>
<line x1="1800" y1="455.5" x2="1795.14" y2="455.5" stroke="#f00" stroke-width="1.1"/>
<text x="1805.2" y="462.4" font-size="19.5" text-anchor="start" fill="#f00" >0</text>
<line x1="1800" y1="386.5" x2="1795.14" y2="386.5" stroke="#f00" stroke-width="1.1"/>
<text x="1805.2" y="393.4" font-size="19.5" text-anchor="start" fill="#f00" >200</text>
<line x1="1800" y1="317.5" x2="1795.14" y2="317.5" stroke="#f00" stroke-width="1.1"/>
<text x="1805.2" y="324.4" font-size="19.5" text-anchor="start" fill="#f00" >400</text>
<line x1="1800" y1="248.5" x2="1795.14" y2="248.5" stroke="#f00" stroke-width="1.1"/>
<text x="1805.2" y="255.4" font-size="19.5" text-anchor="start" fill="#f00" >600</text>
<line x1="1800" y1="179.5" x2="1795.14" y2="179.5" stroke="#f00" stroke-width="1.1"/>
<text x="1805.2" y="186.4" font-size="19.5" text-anchor="start" fill="#f00" >800</text>
<line x1="1800" y1="110.5" x2="1795.14" y2="110.5" stroke="#f00" stroke-width="1.1"/>
<text x="1805.2" y="117.4" font-size="19.5" text-anchor="start" fill="#f00" >1000</text>
<line x1="1247.5" y1="455" x2="1247.5" y2="449.8" stroke="#000" stroke-width="1.1"/>
<line x1="1332.5" y1="455" x2="1332.5" y2="449.8" stroke="#000" stroke-width="1.1"/>
<line x1="1417.5" y1="455" x2="1417.5" y2="449.8" stroke="#000" stroke-width="1.1"/>
<line x1="1502.5" y1="455" x2="1502.5" y2="449.8" stroke="#000" stroke-width="1.1"/>
<line x1="1587.5" y1="455" x2="1587.5" y2="449.8" stroke="#000" stroke-width="1.1"/>
<line x1="1672.5" y1="455" x2="1672.5" y2="449.8" stroke="#000" stroke-width="1.1"/>
<line x1="1757.5" y1="455" x2="1757.5" y2="449.8" stroke="#000" stroke-width="1.1"/>
<rect x="1205.0" y="110.0" width="595.0" height="345" fill="none" stroke="#000" stroke-width="2.1"/>
<line x1="1800" y1="108.95" x2="1800" y2="456.05" stroke="#f00" stroke-width="2.1" />
<text transform="translate(1115.8,283) rotate(-90)" font-size="24" text-anchor="middle">IMF Bz</text>
<text transform="translate(1146,282.5) rotate(-90)" font-size="24" text-anchor="middle">( nT )</text>
<text transform="translate(1879,283.8) rotate(-90)" font-size="24" text-anchor="middle" fill="#f00" textLength="145.01" lengthAdjust="spacing">SW Velocity</text>
<g transform="translate(1911.9,339.97) rotate(-90)"><text x="0" y="0" font-size="24" fill="#f00">(</text><text x="17.39" y="0" font-size="24" fill="#f00">km</text><text x="58.87" y="0" font-size="24" fill="#f00">s</text><text x="71.97" y="-9" font-size="16.8" fill="#f00">−1</text><text x="105.57" y="0" font-size="24" fill="#f00">)</text></g>
<line x1="1205" y1="512.4" x2="1800" y2="512.4" stroke="#000" stroke-width="2.08" stroke-dasharray="2.08 3.44"/>
<path d="M1205.4,509.6 L1206.64,509 L1208.42,508.16 L1210.2,507.52 L1211.68,507.12 L1213.16,506.92 L1215,507.2 L1217.58,508.39 L1220.51,510.06 L1223,511.2 L1224.3,511.27 L1225.16,510.81 L1227,510.4 L1230.85,510.2 L1235.68,510.06 L1239.8,510.08 L1242.47,510.29 L1244.42,510.65 L1246.2,511.2 L1247.95,512.07 L1249.52,513.12 L1251,513.92 L1252.21,514.31 L1253.34,514.44 L1255,514.4 L1257.7,514.15 L1260.93,513.72 L1263.8,513.28 L1265.9,512.79 L1267.65,512.28 L1269.4,512 L1271.24,512.11 L1273.07,512.46 L1275,512.8 L1277.16,513.19 L1279.41,513.57 L1281.4,513.6 L1282.88,513.21 L1284.1,512.47 L1285.4,511.2 L1286.97,508.95 L1288.63,506.16 L1290.2,504 L1291.59,502.93 L1292.9,502.49 L1294.2,502.4 L1295.44,502.58 L1296.69,503.11 L1298.2,504 L1300.19,505.57 L1302.44,507.5 L1304.6,508.8 L1306.44,508.88 L1308.19,508.33 L1310.2,508 L1312.84,508.31 L1315.74,508.84 L1318.2,509.12 L1319.71,508.8 L1320.78,508.23 L1322.2,508 L1324.39,508.51 L1326.94,509.36 L1329.4,509.92 L1331.71,509.8 L1333.93,509.4 L1335.8,509.28 L1336.93,509.86 L1337.7,510.73 L1339,511.2 L1341.37,510.93 L1344.27,510.26 L1347,509.6 L1349.22,508.94 L1351.27,508.27 L1353.4,508 L1355.62,508.52 L1357.93,509.43 L1360.6,509.92 L1364.01,509.4 L1367.77,508.46 L1371,508 L1373.19,508.64 L1374.85,509.76 L1376.6,510.4 L1378.7,510.06 L1380.9,509.23 L1383,508.48 L1384.93,507.91 L1386.76,507.41 L1388.6,507.2 L1390.41,507.46 L1392.21,508.01 L1394.2,508.48 L1396.54,508.88 L1399.06,509.2 L1401.4,509.12 L1403.33,508.18 L1405.07,506.84 L1407,506.08 L1409.31,506.54 L1411.8,507.59 L1414.2,508.32 L1416.39,508.2 L1418.5,507.75 L1420.6,507.68 L1422.76,508.39 L1424.93,509.48 L1427,510.4 L1428.93,511.03 L1430.76,511.5 L1432.6,511.68 L1434.44,511.6 L1436.27,511.24 L1438.2,510.4 L1440.36,508.68 L1442.61,506.47 L1444.6,504.8 L1446.08,504.06 L1447.3,503.85 L1448.6,504 L1450.2,504.62 L1451.89,505.6 L1453.4,506.4 L1454.56,506.71 L1455.53,506.85 L1456.6,507.2 L1457.67,508.15 L1458.82,509.31 L1460.6,509.92 L1463.44,509.39 L1466.91,508.3 L1470.2,507.68 L1473.04,508.1 L1475.71,508.98 L1478.2,509.6 L1480.39,509.39 L1482.41,508.91 L1484.6,509.12 L1487.27,510.83 L1490.11,513.23 L1492.6,514.88 L1494.32,515.19 L1495.68,514.76 L1497.4,513.92 L1499.98,512.42 L1502.91,510.51 L1505.4,509.28 L1506.97,509.19 L1508.1,509.77 L1509.4,510.72 L1511.18,512.23 L1513.13,514.12 L1515,515.52 L1516.54,516.24 L1517.99,516.49 L1519.8,516 L1522.2,514.32 L1524.96,511.92 L1527.8,509.92 L1530.59,508.99 L1533.46,508.47 L1536.6,507.52 L1540.16,505.3 L1543.98,502.66 L1547.8,501.28 L1551.41,502.13 L1555.03,504.24 L1559,506.4 L1563.77,508.51 L1568.9,510.67 L1573.4,512 L1576.9,511.83 L1579.77,510.83 L1582.2,510.08 L1584.1,509.94 L1585.55,510.06 L1587,510.4 L1588.57,511.13 L1590.14,512.1 L1591.8,512.8 L1593.58,513.08 L1595.44,513.09 L1597.4,512.8 L1599.47,512.16 L1601.64,511.22 L1603.8,510.08 L1605.87,508.68 L1607.95,507.09 L1610.2,505.6 L1612.69,504.14 L1615.36,502.79 L1618.2,502.08 L1621.16,502.36 L1624.3,503.29 L1627.8,504.32 L1632.04,505.34 L1636.63,506.47 L1640.6,507.52 L1643.56,508.53 L1645.9,509.48 L1647.8,510.08 L1649.07,510.08 L1649.9,509.74 L1651,509.6 L1652.48,510 L1654.23,510.6 L1656.6,510.88 L1660.16,510.53 L1664.33,509.86 L1667.8,509.28 L1669.81,508.78 L1671.12,508.36 L1672.6,508.48 L1674.56,509.56 L1676.69,511.18 L1679,512.48 L1681.67,513.06 L1684.51,513.32 L1687,513.6 L1688.78,513.98 L1690.2,514.38 L1691.8,514.88 L1693.81,515.68 L1696.01,516.59 L1698.2,517.12 L1700.21,517.11 L1702.23,516.73 L1704.6,516 L1707.68,514.8 L1711.12,513.25 L1714.2,511.68 L1716.6,510.02 L1718.64,508.34 L1720.6,507.2 L1722.5,506.83 L1724.3,506.99 L1726.2,507.52 L1728.3,508.59 L1730.5,510.03 L1732.6,511.2 L1734.5,511.92 L1736.3,512.37 L1738.2,512.48 L1740.27,512.02 L1742.44,511.23 L1744.6,510.72 L1746.73,510.87 L1748.87,511.3 L1751,511.52 L1753.13,511.22 L1755.27,510.7 L1757.4,510.4 L1759.41,510.67 L1761.43,511.16 L1763.8,511.2 L1766.82,510.42 L1770.2,509.19 L1773.4,508 L1776.33,506.91 L1779.09,505.85 L1781.4,505.12 L1783,504.83 L1784.16,504.86 L1785.4,505.12 L1786.79,505.69 L1788.27,506.49 L1790.2,507.2 L1793.16,507.73 L1796.57,508.18 L1799,508.48" fill="none" stroke="#000" stroke-width="2.0" stroke-linejoin="round" clip-path="url(#cR2)"/>
<path d="M1204.72,667.35 L1205.22,672.71 L1205.72,677.83 L1206.22,680.79 L1206.72,672.14 L1207.22,659.7 L1207.72,659.56 L1208.22,660.06 L1208.72,659.31 L1209.22,663.49 L1209.72,669.15 L1210.22,669.34 L1210.72,666.28 L1211.22,658.37 L1211.72,658.19 L1212.22,660.42 L1212.72,665.52 L1213.22,670.18 L1213.72,665.51 L1214.22,667.93 L1214.72,661.13 L1215.22,659.25 L1215.72,655.2 L1216.22,663.02 L1216.72,663.88 L1217.22,665.44 L1217.72,664.23 L1218.22,664.43 L1218.72,669.17 L1219.22,669.86 L1219.72,666.81 L1220.22,666.44 L1220.72,661.41 L1221.22,664.64 L1221.72,659.36 L1222.22,661.39 L1222.72,657.12 L1223.22,656.14 L1223.72,654.8 L1224.22,659.32 L1224.72,660.19 L1225.22,658.14 L1225.72,659.04 L1226.22,657.53 L1226.72,656.48 L1227.22,656.1 L1227.72,651.28 L1228.22,652.81 L1228.72,654.81 L1229.22,654.32 L1229.72,656.09 L1230.22,658.83 L1230.72,665.29 L1231.22,667.82 L1231.72,661.84 L1232.22,667.82 L1232.72,665.4 L1233.22,668.96 L1233.72,666.96 L1234.22,666.82 L1234.72,666.08 L1235.22,665.27 L1235.72,659.51 L1236.22,659 L1236.72,664.82 L1237.22,661.36 L1237.72,657.65 L1238.22,656.45 L1238.72,654.96 L1239.22,662.87 L1239.72,656.57 L1240.22,656.95 L1240.72,656.92 L1241.22,654.26 L1241.72,662.4 L1242.22,667.38 L1242.72,667.93 L1243.22,666.67 L1243.72,662.58 L1244.22,659.25 L1244.72,660.67 L1245.22,657.58 L1245.72,653.86 L1246.22,659.53 L1246.72,656.21 L1247.22,660.64 L1247.72,659.26 L1248.22,673.26 L1248.72,671.83 L1249.22,668.18 L1249.72,663.45 L1250.22,654.86 L1250.72,655.41 L1251.22,660.78 L1251.72,660.89 L1252.22,666.85 L1252.72,667.87 L1253.22,660.2 L1253.72,657.91 L1254.22,657.7 L1254.72,660.09 L1255.22,657 L1255.72,658.03 L1256.22,654.76 L1256.72,657.79 L1257.22,657.05 L1257.72,659.4 L1258.22,657.56 L1258.72,661.75 L1259.22,668.27 L1259.72,660.24 L1260.22,662.22 L1260.72,660.1 L1261.22,654.33 L1261.72,653.22 L1262.22,650.37 L1262.72,650.62 L1263.22,645.58 L1263.72,651.73 L1264.22,646.46 L1264.72,649.19 L1265.22,653.82 L1265.72,653.79 L1266.22,651.95 L1266.72,655.17 L1267.22,655.93 L1267.72,651.02 L1268.22,647.35 L1268.72,640.73 L1269.22,642.92 L1269.72,647.78 L1270.22,651.17 L1270.72,650.1 L1271.22,652.25 L1271.72,656.99 L1272.22,657.25 L1272.72,652.51 L1273.22,645.93 L1273.72,639.96 L1274.22,645.68 L1274.72,645.31 L1275.22,643.16 L1275.72,647.53 L1276.22,645.93 L1276.72,646.62 L1277.22,643.84 L1277.72,649.69 L1278.22,636.32 L1278.72,639.21 L1279.22,639.18 L1279.72,637.27 L1280.22,638.71 L1280.72,638.4 L1281.22,638.51 L1281.72,629.85 L1282.22,621.59 L1282.72,623.09 L1283.22,619.7 L1283.72,614.44 L1284.22,616.63 L1284.72,612.59 L1285.22,613.39 L1285.72,605.48 L1286.22,611.81 L1286.72,604.44 L1287.22,608.49 L1287.72,617.3 L1288.22,610.08 L1288.72,610.48 L1289.22,605.26 L1289.72,608.34 L1290.22,615.48 L1290.72,621.18 L1291.22,624.27 L1291.72,627.18 L1292.22,631.08 L1292.72,627.75 L1293.22,623.69 L1293.72,610.16 L1294.22,604.2 L1294.72,603.81 L1295.22,601.28 L1295.72,599.6 L1296.22,602.82 L1296.72,607.41 L1297.22,613.1 L1297.72,616.09 L1298.22,631.52 L1298.72,635.35 L1299.22,632.58 L1299.72,620.31 L1300.22,621.13 L1300.72,629.74 L1301.22,633.25 L1301.72,635.3 L1302.22,634.09 L1302.72,630.73 L1303.22,625.26 L1303.72,624.92 L1304.22,622 L1304.72,619.64 L1305.22,619.51 L1305.72,622.4 L1306.22,620.76 L1306.72,616.25 L1307.22,619.64 L1307.72,623.1 L1308.22,619.62 L1308.72,620.1 L1309.22,629.82 L1309.72,635.79 L1310.22,623.45 L1310.72,610.85 L1311.22,614.24 L1311.72,624.96 L1312.22,621.64 L1312.72,625.95 L1313.22,627.55 L1313.72,628.59 L1314.22,634.55 L1314.72,632.71 L1315.22,635.78 L1315.72,635.48 L1316.22,633.81 L1316.72,638.05 L1317.22,627.27 L1317.72,625.49 L1318.22,630.04 L1318.72,622.91 L1319.22,628.65 L1319.72,627.49 L1320.22,634.71 L1320.72,634.18 L1321.22,638 L1321.72,636.3 L1322.22,636.91 L1322.72,629.91 L1323.22,636.63 L1323.72,634.1 L1324.22,631.67 L1324.72,632.74 L1325.22,634.11 L1325.72,637.42 L1326.22,645.04 L1326.72,641.01 L1327.22,643.83 L1327.72,648.25 L1328.22,645.77 L1328.72,642.29 L1329.22,646.89 L1329.72,645.68 L1330.22,639.18 L1330.72,643.49 L1331.22,633.83 L1331.72,644.7 L1332.22,639.86 L1332.72,648.51 L1333.22,650.57 L1333.72,653.43 L1334.22,659.45 L1334.72,658.7 L1335.22,659.93 L1335.72,657.83 L1336.22,663.62 L1336.72,657.01 L1337.22,658.39 L1337.72,655.74 L1338.22,657.96 L1338.72,651.41 L1339.22,650.73 L1339.72,650.91 L1340.22,656.42 L1340.72,657.25 L1341.22,663.77 L1341.72,662.57 L1342.22,662.44 L1342.72,659.7 L1343.22,660.52 L1343.72,654.53 L1344.22,652.68 L1344.72,650.78 L1345.22,644.81 L1345.72,634.8 L1346.22,630.98 L1346.72,630.39 L1347.22,633.12 L1347.72,646.81 L1348.22,653.72 L1348.72,661.73 L1349.22,671.89 L1349.72,680.91 L1350.22,670.2 L1350.72,656.84 L1351.22,655.1 L1351.72,644.1 L1352.22,642.87 L1352.72,629.45 L1353.22,642.48 L1353.72,656.14 L1354.22,668.5 L1354.72,669.87 L1355.22,666.47 L1355.72,668.36 L1356.22,658.75 L1356.72,655.61 L1357.22,650.4 L1357.72,651.55 L1358.22,658.94 L1358.72,664.6 L1359.22,648.52 L1359.72,649.91 L1360.22,644.68 L1360.72,644.48 L1361.22,635.46 L1361.72,635.81 L1362.22,638.41 L1362.72,636.37 L1363.22,641.52 L1363.72,641.08 L1364.22,641.39 L1364.72,636.55 L1365.22,634.34 L1365.72,629.36 L1366.22,620.59 L1366.72,626.55 L1367.22,624.68 L1367.72,629.22 L1368.22,628.49 L1368.72,632.54 L1369.22,628.86 L1369.72,638.19 L1370.22,637.02 L1370.72,644.05 L1371.22,650.54 L1371.72,650.22 L1372.22,660 L1372.72,663.94 L1373.22,670.85 L1373.72,662.02 L1374.22,652.65 L1374.72,653.99 L1375.22,657.69 L1375.72,663.16 L1376.22,665.36 L1376.72,670.38 L1377.22,675.78 L1377.72,672.47 L1378.22,672.18 L1378.72,674.56 L1379.22,674.88 L1379.72,668.3 L1380.22,672.37 L1380.72,673.11 L1381.22,669.59 L1381.72,661.94 L1382.22,655.63 L1382.72,658.78 L1383.22,640.48 L1383.72,647.33 L1384.22,637.06 L1384.72,638.73 L1385.22,655.93 L1385.72,673.09 L1386.22,673.97 L1386.72,673.27 L1387.22,678.11 L1387.72,680.94 L1388.22,677.4 L1388.72,684.4 L1389.22,675.68 L1389.72,679.71 L1390.22,674.86 L1390.72,673.01 L1391.22,662.76 L1391.72,663.26 L1392.22,657.3 L1392.72,647.69 L1393.22,648.44 L1393.72,641.87 L1394.22,640.66 L1394.72,646.18 L1395.22,647.63 L1395.72,655.95 L1396.22,656.22 L1396.72,656.22 L1397.22,660.18 L1397.72,665.36 L1398.22,663.45 L1398.72,666.28 L1399.22,665.87 L1399.72,666.36 L1400.22,663.04 L1400.72,660.64 L1401.22,654.97 L1401.72,656.19 L1402.22,652.95 L1402.72,651.46 L1403.22,649.88 L1403.72,645.74 L1404.22,645.19 L1404.72,643.09 L1405.22,640.61 L1405.72,637.65 L1406.22,638.29 L1406.72,640.87 L1407.22,632.41 L1407.72,642.01 L1408.22,646.32 L1408.72,650.48 L1409.22,651.01 L1409.72,654.69 L1410.22,660.27 L1410.72,659.82 L1411.22,662.61 L1411.72,656.02 L1412.22,651.7 L1412.72,651.45 L1413.22,643.48 L1413.72,639.89 L1414.22,639.66 L1414.72,637.16 L1415.22,632.93 L1415.72,634.2 L1416.22,631.43 L1416.72,633.05 L1417.22,631.73 L1417.72,629.47 L1418.22,636.88 L1418.72,633.1 L1419.22,634.22 L1419.72,644.21 L1420.22,653.38 L1420.72,650.65 L1421.22,651.31 L1421.72,649.45 L1422.22,652.36 L1422.72,658.01 L1423.22,661.39 L1423.72,665.01 L1424.22,658.74 L1424.72,657.33 L1425.22,647.36 L1425.72,657.91 L1426.22,659.15 L1426.72,663.24 L1427.22,664.41 L1427.72,668.71 L1428.22,664.52 L1428.72,663.44 L1429.22,661.83 L1429.72,660.54 L1430.22,663.04 L1430.72,666.7 L1431.22,662.27 L1431.72,656.15 L1432.22,649.08 L1432.72,655.57 L1433.22,650.98 L1433.72,643.38 L1434.22,650.74 L1434.72,651.08 L1435.22,659.09 L1435.72,660.72 L1436.22,659.94 L1436.72,649.91 L1437.22,648.86 L1437.72,650.26 L1438.22,638.89 L1438.72,632.89 L1439.22,633.9 L1439.72,627.41 L1440.22,630.26 L1440.72,622.83 L1441.22,630.18 L1441.72,639.31 L1442.22,637.94 L1442.72,630.71 L1443.22,619.81 L1443.72,618.89 L1444.22,617.7 L1444.72,611.97 L1445.22,610.67 L1445.72,612.38 L1446.22,608.5 L1446.72,610.28 L1447.22,607.66 L1447.72,604.79 L1448.22,603.28 L1448.72,604.77 L1449.22,603.74 L1449.72,608.19 L1450.22,605.33 L1450.72,599.74 L1451.22,608.13 L1451.72,610.14 L1452.22,602.21 L1452.72,604.43 L1453.22,605.08 L1453.72,614.07 L1454.22,619.01 L1454.72,624.46 L1455.22,621.47 L1455.72,618.12 L1456.22,617.1 L1456.72,615.86 L1457.22,646.1 L1457.72,640.7 L1458.22,642.52 L1458.72,631.83 L1459.22,628.69 L1459.72,624.92 L1460.22,635.72 L1460.72,646.69 L1461.22,649.64 L1461.72,646.93 L1462.22,643.83 L1462.72,640.53 L1463.22,644.24 L1463.72,638.64 L1464.22,644.36 L1464.72,645.62 L1465.22,648.56 L1465.72,650.68 L1466.22,646.33 L1466.72,644.84 L1467.22,646.85 L1467.72,641.93 L1468.22,639.51 L1468.72,641.82 L1469.22,643.09 L1469.72,644.99 L1470.22,642.74 L1470.72,652.08 L1471.22,653.35 L1471.72,651.86 L1472.22,651.92 L1472.72,652.45 L1473.22,649.92 L1473.72,642.48 L1474.22,637.13 L1474.72,639.99 L1475.22,632.19 L1475.72,632.99 L1476.22,630.7 L1476.72,629.88 L1477.22,629.4 L1477.72,639.35 L1478.22,639.52 L1478.72,640.38 L1479.22,638.49 L1479.72,645.18 L1480.22,639.96 L1480.72,636.76 L1481.22,639.2 L1481.72,630.01 L1482.22,626.92 L1482.72,620.93 L1483.22,626.26 L1483.72,625.88 L1484.22,627.24 L1484.72,619.29 L1485.22,616.9 L1485.72,614.1 L1486.22,623.68 L1486.72,624.57 L1487.22,633.49 L1487.72,638.37 L1488.22,626.83 L1488.72,627.83 L1489.22,630.23 L1489.72,619.53 L1490.22,617.82 L1490.72,625.87 L1491.22,628.07 L1491.72,625.88 L1492.22,635.37 L1492.72,622 L1493.22,617.09 L1493.72,620.85 L1494.22,627.11 L1494.72,627.63 L1495.22,624.37 L1495.72,630.33 L1496.22,628.3 L1496.72,627.33 L1497.22,624.05 L1497.72,623.26 L1498.22,625.39 L1498.72,628.89 L1499.22,626.06 L1499.72,629.27 L1500.22,633.6 L1500.72,632.91 L1501.22,630.04 L1501.72,629.71 L1502.22,623.4 L1502.72,629.19 L1503.22,633.72 L1503.72,633.9 L1504.22,639.23 L1504.72,637.24 L1505.22,625.96 L1505.72,617.12 L1506.22,616.39 L1506.72,612.8 L1507.22,618.5 L1507.72,616.01 L1508.22,618.19 L1508.72,615.59 L1509.22,614.37 L1509.72,620.43 L1510.22,615.94 L1510.72,625.53 L1511.22,635.31 L1511.72,631.93 L1512.22,628.59 L1512.72,622.21 L1513.22,628.17 L1513.72,634.1 L1514.22,635.77 L1514.72,633.61 L1515.22,632.82 L1515.72,631.74 L1516.22,627.94 L1516.72,625.76 L1517.22,626.19 L1517.72,633.06 L1518.22,635.21 L1518.72,641.4 L1519.22,643.44 L1519.72,636.76 L1520.22,636.74 L1520.72,633.71 L1521.22,632.97 L1521.72,632 L1522.22,620.4 L1522.72,622.6 L1523.22,623.08 L1523.72,623.68 L1524.22,624.75 L1524.72,636.62 L1525.22,639.41 L1525.72,638.15 L1526.22,640.54 L1526.72,640.26 L1527.22,639.18 L1527.72,641.19 L1528.22,643.24 L1528.72,645.51 L1529.22,640.44 L1529.72,642.51 L1530.22,642.18 L1530.72,641.6 L1531.22,638.9 L1531.72,637.96 L1532.22,634.14 L1532.72,634.69 L1533.22,634.84 L1533.72,630.22 L1534.22,627.61 L1534.72,626.86 L1535.22,631.33 L1535.72,635.26 L1536.22,642.3 L1536.72,639.45 L1537.22,643.98 L1537.72,633.33 L1538.22,632.01 L1538.72,630.26 L1539.22,627.66 L1539.72,628.72 L1540.22,622.3 L1540.72,627.27 L1541.22,624.04 L1541.72,630.59 L1542.22,621.76 L1542.72,626.51 L1543.22,629 L1543.72,628.04 L1544.22,629.55 L1544.72,630.06 L1545.22,631.87 L1545.72,634.25 L1546.22,637.7 L1546.72,644.66 L1547.22,640.21 L1547.72,640.92 L1548.22,633.58 L1548.72,639.26 L1549.22,639.54 L1549.72,652.63 L1550.22,655.28 L1550.72,648.88 L1551.22,648.34 L1551.72,644.18 L1552.22,653.75 L1552.72,652.28 L1553.22,666.25 L1553.72,663.63 L1554.22,665.41 L1554.72,665.46 L1555.22,667 L1555.72,662.54 L1556.22,652.78 L1556.72,649.26 L1557.22,650.6 L1557.72,649.05 L1558.22,655.87 L1558.72,650.77 L1559.22,654.21 L1559.72,660.79 L1560.22,664.04 L1560.72,668.8 L1561.22,665.39 L1561.72,666.47 L1562.22,659.72 L1562.72,660.75 L1563.22,656.47 L1563.72,664.6 L1564.22,659.54 L1564.72,661.99 L1565.22,664.55 L1565.72,659.32 L1566.22,666.29 L1566.72,665.4 L1567.22,667.56 L1567.72,667.41 L1568.22,668.43 L1568.72,666.81 L1569.22,663.46 L1569.72,665.35 L1570.22,669.8 L1570.72,677.91 L1571.22,675.87 L1571.72,677.36 L1572.22,679.54 L1572.72,682.69 L1573.22,680.23 L1573.72,676.4 L1574.22,676.22 L1574.72,670.87 L1575.22,672.34 L1575.72,668.16 L1576.22,675.43 L1576.72,673.14 L1577.22,679.61 L1577.72,674.92 L1578.22,671.56 L1578.72,670.43 L1579.22,666.3 L1579.72,664.15 L1580.22,667.19 L1580.72,663.33 L1581.22,662.72 L1581.72,655.44 L1582.22,663.56 L1582.72,661.58 L1583.22,658.94 L1583.72,655.7 L1584.22,654.51 L1584.72,659.32 L1585.22,665.04 L1585.72,669.48 L1586.22,672.97 L1586.72,676.07 L1587.22,678.64 L1587.72,680.98 L1588.22,675.87 L1588.72,678.37 L1589.22,668.8 L1589.72,665.91 L1590.22,664.91 L1590.72,663.62 L1591.22,673.02 L1591.72,668.72 L1592.22,669.11 L1592.72,675.23 L1593.22,667.83 L1593.72,653.68 L1594.22,645.31 L1594.72,645.38 L1595.22,642.83 L1595.72,641.21 L1596.22,641.84 L1596.72,640.8 L1597.22,635.98 L1597.72,636.47" fill="none" stroke="#f00" stroke-width="1.5" stroke-linejoin="round" clip-path="url(#cR2)"/>
<path d="M1204.72,669.8 L1205.25,673.08 L1205.77,676.34 L1206.3,677.15 L1206.82,669.18 L1207.35,657.2 L1207.87,662.31 L1208.4,663.03 L1208.92,666.37 L1209.45,662.4 L1209.97,667.46 L1210.5,669.8 L1211.02,666.51 L1211.55,657.2 L1212.07,661.89 L1212.6,667.27 L1213.12,665.59 L1213.65,671.9 L1214.17,668.28 L1214.7,663.35 L1215.22,661.96 L1215.75,658.25 L1216.27,660.85 L1216.8,659.14 L1217.32,662.62 L1217.85,665.15 L1218.37,671.58 L1218.9,670.85 L1219.42,670.21 L1219.95,663.63 L1220.47,665.52 L1221,658.59 L1221.52,659.4 L1222.05,656.15 L1222.52,653.84 L1222.98,653.23 L1223.45,659.37 L1223.92,655.11 L1224.38,655.38 L1224.85,660.83 L1225.32,660.31 L1225.78,656.58 L1226.25,658.25 L1226.71,660.73 L1227.17,657.2 L1227.63,657.49 L1228.09,653.62 L1228.55,657.97 L1229.01,655.61 L1229.47,656.83 L1229.92,653 L1230.45,663.03 L1230.97,667.7 L1231.43,666.33 L1231.89,666.75 L1232.35,665.43 L1232.81,665.29 L1233.27,664.74 L1233.73,666.35 L1234.19,668.4 L1234.65,667.7 L1235.12,662.96 L1235.59,666.18 L1236.07,662.5 L1236.54,660.95 L1237.01,663.04 L1237.48,659.38 L1237.96,656.89 L1238.43,656.65 L1238.9,656.81 L1239.37,654.05 L1239.83,652.61 L1240.29,660.43 L1240.75,655.53 L1241.21,662.05 L1241.67,664.27 L1242.13,660.22 L1242.59,667.03 L1243.05,666.65 L1243.57,663.81 L1244.1,663.33 L1244.62,657.54 L1245.15,655.87 L1245.67,654.85 L1246.2,655.1 L1246.72,661.76 L1247.25,660.17 L1247.77,667.55 L1248.3,672.3 L1248.82,672.95 L1249.35,670 L1249.87,659.99 L1250.4,655.1 L1250.92,657.26 L1251.45,661.57 L1251.97,666.42 L1252.5,667.7 L1253.02,658.21 L1253.55,654.05 L1254.03,656.38 L1254.52,657.36 L1255,658.43 L1255.49,653.48 L1255.97,660.31 L1256.46,655.15 L1256.94,657.49 L1257.43,659.97 L1257.91,662.71 L1258.39,659.42 L1258.88,664.04 L1259.36,662.11 L1259.85,662.45 L1260.32,659.07 L1260.78,657 L1261.25,653.96 L1261.72,651.18 L1262.18,649.56 L1262.65,651.14 L1263.12,651.13 L1263.58,643.35 L1264.05,643.55 L1264.57,642.58 L1265.1,651.06 L1265.62,650.08 L1266.15,651.31 L1266.67,652.26 L1267.2,656.15 L1267.72,651.01 L1268.25,644.6 L1268.72,648.1 L1269.18,646.86 L1269.65,647.92 L1270.12,646.71 L1270.58,653.84 L1271.05,649.12 L1271.52,653.54 L1271.98,657.17 L1272.45,656.15 L1272.97,647.34 L1273.5,643.55 L1273.97,645.71 L1274.43,647.77 L1274.9,646.19 L1275.37,647.84 L1275.83,643.79 L1276.3,646.6 L1276.77,645.25 L1277.23,650.56 L1277.7,648.8 L1277.91,638.3 L1278.4,637.05 L1278.9,638.28 L1279.39,642.14 L1279.89,641.29 L1280.38,642.29 L1280.88,638.88 L1281.37,639.35 L1281.9,624.65 L1282.42,622.56 L1282.95,622.19 L1283.47,618.47 L1284,615.18 L1284.52,613.93 L1285.05,612.57 L1285.51,609.59 L1285.98,610.57 L1286.45,614.15 L1286.91,613.37 L1287.38,610.52 L1287.85,609.07 L1288.31,607.39 L1288.78,605.11 L1289.25,607.32 L1289.77,610.41 L1290.3,618.52 L1290.82,623.74 L1291.35,624.93 L1291.87,632.46 L1292.4,635.15 L1292.92,627.22 L1293.45,616.87 L1293.97,605.75 L1294.5,606.13 L1295.02,606.05 L1295.55,602.62 L1296.07,604.2 L1296.6,602.07 L1297.12,608.85 L1297.65,618.51 L1298.17,628.71 L1298.7,635.15 L1299.22,629.1 L1299.75,620.45 L1300.27,623.77 L1300.8,632.93 L1301.32,635.64 L1301.85,639.35 L1302.37,635.44 L1302.9,627.1 L1303.42,626.28 L1303.95,621.5 L1304.41,619.45 L1304.88,621.97 L1305.35,620.2 L1305.81,622.25 L1306.28,620.75 L1306.75,621.42 L1307.21,618.02 L1307.68,619.68 L1308.15,618.35 L1308.67,623.64 L1309.2,627.93 L1309.72,629.37 L1310.25,621.79 L1310.77,616.25 L1311.25,620.47 L1311.72,622.54 L1312.19,623.2 L1312.66,627.05 L1313.14,628.8 L1313.61,627.71 L1314.08,629.68 L1314.55,629.1 L1315.03,635.55 L1315.5,635.15 L1316.02,636.55 L1316.55,631.84 L1317.07,631.73 L1317.6,630.34 L1318.12,628.84 L1318.65,625.7 L1319.17,625.57 L1319.7,631.81 L1320.22,632.55 L1320.75,635.22 L1321.27,635.66 L1321.8,638.3 L1322.32,637.67 L1322.85,637.23 L1323.37,634.82 L1323.9,633.92 L1324.42,630.95 L1324.95,630.36 L1325.47,633.89 L1326,638.42 L1326.52,642.47 L1327.05,642.16 L1327.57,646.7 L1328.03,646.78 L1328.49,645.23 L1328.95,640.04 L1329.41,641.78 L1329.87,638.93 L1330.33,636.58 L1330.79,635.94 L1331.25,637.25 L1331.71,639.16 L1332.17,641.38 L1332.63,644.61 L1333.08,646.69 L1333.54,652.76 L1334,655.33 L1334.46,660.06 L1334.92,662.45 L1335.39,662.01 L1335.87,658.57 L1336.34,662.04 L1336.81,654.85 L1337.28,656.56 L1337.76,654.64 L1338.23,654.49 L1338.7,651.43 L1339.17,655.25 L1339.65,651.95 L1340.17,654.59 L1340.7,655.79 L1341.22,662.45 L1341.68,661.91 L1342.14,657.07 L1342.6,658.82 L1343.06,656.11 L1343.52,656.44 L1343.98,657.69 L1344.44,655.43 L1344.9,651.95 L1345.42,642.65 L1345.95,636.58 L1346.47,625.7 L1347,635.59 L1347.52,642.66 L1348.05,650.04 L1348.57,662.05 L1349.1,670.76 L1349.62,679.25 L1350.15,674.13 L1350.67,665.98 L1351.2,655.31 L1351.72,645.34 L1352.25,640.8 L1352.77,629.9 L1353.3,641.21 L1353.82,656.63 L1354.35,674 L1354.87,670.07 L1355.4,666.03 L1355.92,658.43 L1356.45,657.38 L1356.97,654.78 L1357.5,647.75 L1358.02,654.25 L1358.55,662.45 L1359.07,657.08 L1359.6,650.79 L1360.12,646.33 L1360.65,646.06 L1361.17,637.13 L1361.7,633.05 L1362.22,638.55 L1362.75,640.59 L1363.27,640.79 L1363.8,642.5 L1364.32,636.67 L1364.85,637.37 L1365.37,629.87 L1365.9,625.12 L1366.42,621.5 L1366.95,622.19 L1367.47,628.64 L1368,627.22 L1368.52,627.75 L1369.05,630.97 L1369.57,633.05 L1370.03,634.94 L1370.49,642.8 L1370.95,646.05 L1371.41,649.49 L1371.87,657.28 L1372.33,662.05 L1372.79,660.98 L1373.25,668.75 L1373.77,661.62 L1374.3,654.05 L1374.82,655.66 L1375.35,663.31 L1375.87,665.42 L1376.4,664.92 L1376.92,668.22 L1377.45,672.95 L1377.97,670.78 L1378.5,676.62 L1379.02,672.07 L1379.55,674.38 L1380.07,673.65 L1380.6,674 L1381.1,670.13 L1381.59,664.99 L1382.09,661.09 L1382.59,651.98 L1383.09,651.49 L1383.59,643.51 L1384.09,640.23 L1384.59,635.15 L1385.22,654.51 L1385.85,676.1 L1386.31,675.11 L1386.77,677.09 L1387.22,677.04 L1387.68,676.73 L1388.14,679.73 L1388.6,679.08 L1389.06,675.7 L1389.52,679.25 L1389.99,673.78 L1390.47,671.39 L1390.94,670.74 L1391.41,666.77 L1391.88,660.66 L1392.36,653.27 L1392.83,654.68 L1393.3,648.52 L1393.77,645.74 L1394.25,641.45 L1394.71,645.88 L1395.16,648.39 L1395.62,650.38 L1396.08,656.32 L1396.54,655.76 L1397,658.83 L1397.46,664.97 L1397.92,665.6 L1398.44,663.01 L1398.96,663.16 L1399.48,666.27 L1400,663.5 L1400.52,658.1 L1401.05,660.89 L1401.57,657.47 L1402.1,653.24 L1402.62,649.8 L1403.15,648.8 L1403.62,649.48 L1404.08,649.14 L1404.55,642.69 L1405.02,643.75 L1405.48,643.01 L1405.95,641.43 L1406.42,639.07 L1406.88,636.64 L1407.35,637.77 L1407.87,642.24 L1408.4,647.66 L1408.92,646.49 L1409.45,651.48 L1409.97,657.2 L1410.5,659.72 L1411.02,659.88 L1411.55,658.25 L1412.07,654.95 L1412.6,646.2 L1413.12,646.53 L1413.65,643.86 L1414.17,636.2 L1414.7,638.33 L1415.22,635.05 L1415.75,629.35 L1416.27,633.49 L1416.8,629.9 L1417.32,628.83 L1417.85,632.57 L1418.37,635.49 L1418.9,634.7 L1419.42,634.1 L1419.95,654.05 L1420.47,649.73 L1421,648.96 L1421.52,651.38 L1422.05,646.7 L1422.57,651.32 L1423.1,661.45 L1423.62,667.7 L1424.15,660.81 L1424.67,652.79 L1425.2,648.8 L1425.72,654.53 L1426.25,655.49 L1426.77,663.5 L1427.23,660.97 L1427.69,662.94 L1428.15,660.98 L1428.61,661.01 L1429.07,664.67 L1429.53,665.93 L1429.99,666.99 L1430.45,664.55 L1430.97,659.26 L1431.5,658.48 L1432.02,654.89 L1432.55,654.03 L1433.07,650.48 L1433.6,647.75 L1434.12,653.46 L1434.65,652.35 L1435.17,652.92 L1435.7,660.01 L1436.22,661.4 L1436.75,652.73 L1437.27,649.69 L1437.8,642.54 L1438.32,636.2 L1438.85,636.1 L1439.37,630.8 L1439.9,628.36 L1440.42,624.65 L1440.95,627.24 L1441.47,633.4 L1442,637.25 L1442.52,629.63 L1443.05,627.05 L1443.57,619.4 L1444.1,616.54 L1444.62,610.96 L1445.15,610.47 L1445.62,608.14 L1446.08,608.55 L1446.55,610.51 L1447.02,606.19 L1447.48,609.3 L1447.95,608.38 L1448.42,603.98 L1448.88,607.42 L1449.35,605.75 L1449.81,602.58 L1450.27,602.41 L1450.73,605.21 L1451.19,602.4 L1451.65,606.34 L1452.11,603.25 L1452.56,601.79 L1453.02,602.6 L1453.55,611.62 L1454.07,613.4 L1454.6,623.6 L1455.12,623.29 L1455.65,616.89 L1456.17,615.71 L1456.7,616.25 L1457.22,647.75 L1457.75,644.52 L1458.27,636.38 L1458.8,626.97 L1459.32,622.55 L1459.85,627.99 L1460.37,641.86 L1460.9,646.7 L1461.42,647.12 L1461.95,647.48 L1462.47,642.15 L1463,644.75 L1463.52,642.21 L1464.05,642.5 L1464.57,644.2 L1465.1,648.37 L1465.62,653 L1466.15,651.5 L1466.67,647.42 L1467.2,645.4 L1467.72,641.43 L1468.25,643.88 L1468.77,639.35 L1469.3,643.07 L1469.82,646.84 L1470.35,647.03 L1470.87,652.59 L1471.4,653.03 L1471.92,655.62 L1472.38,653.17 L1472.84,649.95 L1473.3,648 L1473.76,642.58 L1474.22,637.46 L1474.68,633.94 L1475.14,632.01 L1475.6,630.95 L1476.12,627.47 L1476.65,632.9 L1477.17,629.9 L1477.7,635.02 L1478.22,640.4 L1478.75,641.99 L1479.27,636.65 L1479.8,639.67 L1480.32,642.35 L1480.85,640.34 L1481.37,639.35 L1481.9,631.51 L1482.42,624.65 L1482.95,623.37 L1483.47,619.83 L1484,619.15 L1484.52,618.13 L1485.05,618.55 L1485.57,618.35 L1486.1,621.25 L1486.62,628.29 L1487.15,627.01 L1487.67,633.05 L1488.2,628.86 L1488.72,626.5 L1489.25,623.19 L1489.77,621.52 L1490.3,620.45 L1490.82,622.32 L1491.35,627.68 L1491.87,628.29 L1492.4,635.15 L1492.92,615.2 L1493.45,620.97 L1493.97,620.08 L1494.5,626.84 L1495.02,626.75 L1495.49,627.79 L1495.96,627.46 L1496.42,625.86 L1496.89,628.84 L1497.36,622.98 L1497.82,626.5 L1498.29,623.7 L1498.76,626.07 L1499.22,624.65 L1499.75,630.41 L1500.27,633.05 L1500.8,629.45 L1501.32,628.39 L1501.85,625.88 L1502.37,627.8 L1502.9,628.07 L1503.42,629.13 L1503.95,633.43 L1504.47,636.2 L1505,632.77 L1505.52,621.98 L1506.05,616.25 L1506.51,614.97 L1506.98,616.03 L1507.45,614.77 L1507.91,617.83 L1508.38,617.73 L1508.85,613.96 L1509.31,614.49 L1509.78,617.42 L1510.25,616.25 L1510.77,629.22 L1511.3,636.2 L1511.82,633.34 L1512.35,628.03 L1512.87,624.65 L1513.4,633.13 L1513.92,631.79 L1514.45,640.4 L1514.97,633.21 L1515.5,633.9 L1516.02,627.19 L1516.55,623.6 L1517.07,624.28 L1517.6,631.49 L1518.12,638.27 L1518.65,638.85 L1519.17,642.5 L1519.7,638.33 L1520.22,633.44 L1520.75,630.13 L1521.27,632.61 L1521.8,626.69 L1522.32,623.6 L1522.85,627.09 L1523.37,621.61 L1523.9,623.43 L1524.42,625.7 L1524.95,637.25 L1525.41,634.83 L1525.88,637.83 L1526.35,636.18 L1526.81,638.15 L1527.28,639.83 L1527.75,639.78 L1528.21,638.69 L1528.68,639.24 L1529.15,643.02 L1529.61,645.47 L1530.08,639.33 L1530.55,640.81 L1531.01,639.33 L1531.48,639.45 L1531.95,635.65 L1532.41,636.45 L1532.88,634.29 L1533.35,636.2 L1533.87,630.71 L1534.4,624.65 L1534.92,632.5 L1535.45,635.29 L1535.97,642.04 L1536.5,644.6 L1537.02,639.3 L1537.55,634.6 L1538.07,634.79 L1538.6,631.07 L1539.12,627.8 L1539.58,628.15 L1540.04,626.7 L1540.5,628.26 L1540.96,628.81 L1541.42,629.95 L1541.88,625.7 L1542.34,626.53 L1542.8,626.75 L1543.32,629.84 L1543.85,626.62 L1544.37,626.76 L1544.9,628.97 L1545.42,628.32 L1545.95,632 L1546.47,642.5 L1547,642.67 L1547.52,641.31 L1548.05,636.19 L1548.57,633.26 L1549.1,634.1 L1549.62,650.9 L1550.15,648.06 L1550.67,649.16 L1551.2,648.07 L1551.72,650.41 L1552.25,651.42 L1552.77,650.9 L1553.3,662.45 L1553.82,661.77 L1554.35,661.57 L1554.87,666.96 L1555.4,666.65 L1555.92,655.7 L1556.45,650.9 L1556.97,649.28 L1557.5,650.28 L1558.02,651.3 L1558.55,649.85 L1559.07,653 L1559.6,658.76 L1560.12,665.6 L1560.59,663.81 L1561.07,666.26 L1561.54,664.4 L1562.01,666.19 L1562.48,664.02 L1562.96,664.21 L1563.43,662.43 L1563.9,661.01 L1564.37,663.03 L1564.85,660.35 L1565.37,662.98 L1565.9,666.59 L1566.42,666.62 L1566.95,666.65 L1567.47,668.19 L1568,665.42 L1568.52,669.3 L1569.05,666.55 L1569.57,665.01 L1570.1,667.7 L1570.62,678.2 L1571.15,675.67 L1571.67,676.79 L1572.2,677.84 L1572.72,681.07 L1573.25,680.3 L1573.77,676.48 L1574.3,672.61 L1574.82,675 L1575.35,670.85 L1575.87,672.81 L1576.4,670.79 L1576.92,672.52 L1577.45,677.15 L1577.97,671.69 L1578.5,670.3 L1579.02,670.78 L1579.55,668.44 L1580.07,662.45 L1580.54,662.74 L1581,659.69 L1581.47,660.57 L1581.94,659.65 L1582.4,658.96 L1582.87,656.33 L1583.34,659.76 L1583.8,660.94 L1584.27,658.25 L1584.8,663.64 L1585.32,663.2 L1585.85,669.8 L1586.37,673.29 L1586.9,674.12 L1587.42,681.07 L1587.95,682.92 L1588.47,675.73 L1589,672.26 L1589.52,662.45 L1590.05,666.47 L1590.57,663.88 L1591.1,667.24 L1591.62,673.32 L1592.15,672.25 L1592.67,674.52 L1593.2,664.1 L1593.72,654.18 L1594.25,644.6 L1594.71,645.3 L1595.16,645.33 L1595.62,641.47 L1596.08,643.33 L1596.54,639.67 L1597,635.21 L1597.46,638.93 L1597.92,635.67" fill="none" stroke="#f00" stroke-width="2.5" stroke-linejoin="round" clip-path="url(#cR2)"/>
<line x1="1205" y1="512.5" x2="1210.8" y2="512.5" stroke="#000" stroke-width="1.1"/>
<text x="1199.5" y="520.3" font-size="19.5" text-anchor="end" fill="#000" >0</text>
<line x1="1205" y1="581.5" x2="1210.8" y2="581.5" stroke="#000" stroke-width="1.1"/>
<text x="1199.5" y="589.1" font-size="19.5" text-anchor="end" fill="#000" >−100</text>
<line x1="1205" y1="650.5" x2="1210.8" y2="650.5" stroke="#000" stroke-width="1.1"/>
<text x="1199.5" y="657.9" font-size="19.5" text-anchor="end" fill="#000" >−200</text>
<line x1="1205" y1="718.5" x2="1210.8" y2="718.5" stroke="#000" stroke-width="1.1"/>
<text x="1199.5" y="726.7" font-size="19.5" text-anchor="end" fill="#000" >−300</text>
<line x1="1205" y1="787.5" x2="1210.8" y2="787.5" stroke="#000" stroke-width="1.1"/>
<text x="1199.5" y="795.5" font-size="19.5" text-anchor="end" fill="#000" >−400</text>
<line x1="1800" y1="822.5" x2="1795.14" y2="822.5" stroke="#f00" stroke-width="1.1"/>
<text x="1806" y="830.1" font-size="19.5" text-anchor="start" fill="#f00" >10<tspan font-size="13.65" dy="-7.02">−2</tspan></text>
<line x1="1800" y1="796.5" x2="1797.1" y2="796.5" stroke="#f00" stroke-width="0.9"/>
<line x1="1800" y1="780.5" x2="1797.1" y2="780.5" stroke="#f00" stroke-width="0.9"/>
<line x1="1800" y1="770.5" x2="1797.1" y2="770.5" stroke="#f00" stroke-width="0.9"/>
<line x1="1800" y1="761.5" x2="1797.1" y2="761.5" stroke="#f00" stroke-width="0.9"/>
<line x1="1800" y1="755.5" x2="1797.1" y2="755.5" stroke="#f00" stroke-width="0.9"/>
<line x1="1800" y1="749.5" x2="1797.1" y2="749.5" stroke="#f00" stroke-width="0.9"/>
<line x1="1800" y1="744.5" x2="1797.1" y2="744.5" stroke="#f00" stroke-width="0.9"/>
<line x1="1800" y1="739.5" x2="1797.1" y2="739.5" stroke="#f00" stroke-width="0.9"/>
<line x1="1800" y1="736.5" x2="1795.14" y2="736.5" stroke="#f00" stroke-width="1.1"/>
<text x="1806" y="744.1" font-size="19.5" text-anchor="start" fill="#f00" >10<tspan font-size="13.65" dy="-7.02">−1</tspan></text>
<line x1="1800" y1="710.5" x2="1797.1" y2="710.5" stroke="#f00" stroke-width="0.9"/>
<line x1="1800" y1="694.5" x2="1797.1" y2="694.5" stroke="#f00" stroke-width="0.9"/>
<line x1="1800" y1="684.5" x2="1797.1" y2="684.5" stroke="#f00" stroke-width="0.9"/>
<line x1="1800" y1="675.5" x2="1797.1" y2="675.5" stroke="#f00" stroke-width="0.9"/>
<line x1="1800" y1="669.5" x2="1797.1" y2="669.5" stroke="#f00" stroke-width="0.9"/>
<line x1="1800" y1="663.5" x2="1797.1" y2="663.5" stroke="#f00" stroke-width="0.9"/>
<line x1="1800" y1="658.5" x2="1797.1" y2="658.5" stroke="#f00" stroke-width="0.9"/>
<line x1="1800" y1="653.5" x2="1797.1" y2="653.5" stroke="#f00" stroke-width="0.9"/>
<line x1="1800" y1="650.5" x2="1795.14" y2="650.5" stroke="#f00" stroke-width="1.1"/>
<text x="1806" y="658.1" font-size="19.5" text-anchor="start" fill="#f00" >10<tspan font-size="13.65" dy="-7.02">0</tspan></text>
<line x1="1800" y1="624.5" x2="1797.1" y2="624.5" stroke="#f00" stroke-width="0.9"/>
<line x1="1800" y1="608.5" x2="1797.1" y2="608.5" stroke="#f00" stroke-width="0.9"/>
<line x1="1800" y1="598.5" x2="1797.1" y2="598.5" stroke="#f00" stroke-width="0.9"/>
<line x1="1800" y1="589.5" x2="1797.1" y2="589.5" stroke="#f00" stroke-width="0.9"/>
<line x1="1800" y1="583.5" x2="1797.1" y2="583.5" stroke="#f00" stroke-width="0.9"/>
<line x1="1800" y1="577.5" x2="1797.1" y2="577.5" stroke="#f00" stroke-width="0.9"/>
<line x1="1800" y1="572.5" x2="1797.1" y2="572.5" stroke="#f00" stroke-width="0.9"/>
<line x1="1800" y1="567.5" x2="1797.1" y2="567.5" stroke="#f00" stroke-width="0.9"/>
<line x1="1800" y1="564.5" x2="1795.14" y2="564.5" stroke="#f00" stroke-width="1.1"/>
<text x="1806" y="572.1" font-size="19.5" text-anchor="start" fill="#f00" >10<tspan font-size="13.65" dy="-7.02">1</tspan></text>
<line x1="1800" y1="538.5" x2="1797.1" y2="538.5" stroke="#f00" stroke-width="0.9"/>
<line x1="1800" y1="522.5" x2="1797.1" y2="522.5" stroke="#f00" stroke-width="0.9"/>
<line x1="1800" y1="512.5" x2="1797.1" y2="512.5" stroke="#f00" stroke-width="0.9"/>
<line x1="1800" y1="503.5" x2="1797.1" y2="503.5" stroke="#f00" stroke-width="0.9"/>
<line x1="1800" y1="497.5" x2="1797.1" y2="497.5" stroke="#f00" stroke-width="0.9"/>
<line x1="1800" y1="491.5" x2="1797.1" y2="491.5" stroke="#f00" stroke-width="0.9"/>
<line x1="1800" y1="486.5" x2="1797.1" y2="486.5" stroke="#f00" stroke-width="0.9"/>
<line x1="1800" y1="481.5" x2="1797.1" y2="481.5" stroke="#f00" stroke-width="0.9"/>
<line x1="1800" y1="478.5" x2="1795.14" y2="478.5" stroke="#f00" stroke-width="1.1"/>
<text x="1806" y="486.1" font-size="19.5" text-anchor="start" fill="#f00" >10<tspan font-size="13.65" dy="-7.02">2</tspan></text>
<line x1="1247.5" y1="822" x2="1247.5" y2="816.8" stroke="#000" stroke-width="1.1"/>
<line x1="1332.5" y1="822" x2="1332.5" y2="816.8" stroke="#000" stroke-width="1.1"/>
<line x1="1417.5" y1="822" x2="1417.5" y2="816.8" stroke="#000" stroke-width="1.1"/>
<line x1="1502.5" y1="822" x2="1502.5" y2="816.8" stroke="#000" stroke-width="1.1"/>
<line x1="1587.5" y1="822" x2="1587.5" y2="816.8" stroke="#000" stroke-width="1.1"/>
<line x1="1672.5" y1="822" x2="1672.5" y2="816.8" stroke="#000" stroke-width="1.1"/>
<line x1="1757.5" y1="822" x2="1757.5" y2="816.8" stroke="#000" stroke-width="1.1"/>
<rect x="1205.0" y="478.0" width="595.0" height="344" fill="none" stroke="#000" stroke-width="2.1"/>
<line x1="1800" y1="476.95" x2="1800" y2="823.05" stroke="#f00" stroke-width="2.1" />
<text transform="translate(1105,653) rotate(-90)" font-size="24" text-anchor="middle">Dst</text>
<text transform="translate(1132.7,650) rotate(-90)" font-size="24" text-anchor="middle">( nT )</text>
<text transform="translate(1875.2,650.7) rotate(-90)" font-size="24" text-anchor="middle" fill="#f00">SW Pressure</text>
<text transform="translate(1905.4,650) rotate(-90)" font-size="24" text-anchor="middle" fill="#f00">( nPa )</text>
<line x1="1205" y1="931" x2="1800" y2="931" stroke="#000" stroke-width="2.08" stroke-dasharray="2.08 3.44"/>
<path d="M1205,998.64 L1205.3,1009.6 L1205.59,1006.83 L1205.89,1006.39 L1206.18,991.61 L1206.48,1004.79 L1206.77,1011.8 L1207.07,1005.67 L1207.36,1007.43 L1207.66,1010.04 L1207.95,1007.9 L1208.25,999.17 L1208.54,1007.89 L1208.84,995.85 L1209.13,1011.42 L1209.43,998.73 L1209.72,1010.92 L1210.02,1003.2 L1210.32,1008.03 L1210.61,1007.98 L1210.91,998.56 L1211.2,1007.33 L1211.5,998.89 L1211.79,1006.97 L1212.09,1012.15 L1212.38,994.76 L1212.68,1008.82 L1212.97,1008.4 L1213.27,997.39 L1213.56,1010.01 L1213.86,1000.83 L1214.15,1005.26 L1214.45,1009.44 L1214.74,1009.73 L1215.04,1010.68 L1215.33,1009.26 L1215.63,1006.4 L1215.93,1008.74 L1216.22,999.59 L1216.52,1001.8 L1216.81,997.07 L1217.11,1006.27 L1217.4,1008.68 L1217.7,1002.14 L1217.99,1008.15 L1218.29,1007.64 L1218.58,1003.58 L1218.88,1011.5 L1219.17,1005.58 L1219.47,1008.22 L1219.76,1008.07 L1220.06,1007.84 L1220.35,999.35 L1220.65,1008.81 L1220.95,1006.15 L1221.24,1002.7 L1221.54,1000.44 L1221.83,996.96 L1222.13,1008.71 L1222.42,1006.95 L1222.72,1009.72 L1223.01,1000.92 L1223.31,1009.68 L1223.6,1012.22 L1223.9,1003.35 L1224.19,1007.56 L1224.49,1009.62 L1224.78,1001.5 L1225.08,1002.09 L1225.37,1005.37 L1225.67,992.2 L1225.97,1006.85 L1226.26,999.19 L1226.56,1001.34 L1226.85,1006.61 L1227.15,987.15 L1227.44,997.69 L1227.74,1005.02 L1228.03,1009.97 L1228.33,1006.15 L1228.62,1009.21 L1228.92,1007.93 L1229.21,995.67 L1229.51,1006.02 L1229.8,997.08 L1230.1,997.29 L1230.39,1003.96 L1230.69,1000.16 L1230.99,995.62 L1231.28,999.86 L1231.58,999.62 L1231.87,1005.95 L1232.17,1004.9 L1232.46,997.47 L1232.76,996.05 L1233.05,998.44 L1233.35,1003.8 L1233.64,993.41 L1233.94,1003.96 L1234.23,991.72 L1234.53,1001.18 L1234.82,999.17 L1235.12,1002.71 L1235.41,997.43 L1235.71,1004.32 L1236,998.07 L1236.3,1002.26 L1236.6,991 L1236.89,997.47 L1237.19,1009.14 L1237.48,1002.47 L1237.78,1003.86 L1238.07,996.08 L1238.37,991.43 L1238.66,992 L1238.96,999.16 L1239.25,1000.46 L1239.55,985.66 L1239.84,999.41 L1240.14,1001.12 L1240.43,1005.9 L1240.73,1002.21 L1241.02,987.05 L1241.32,996.49 L1241.62,999.35 L1241.91,991.81 L1242.21,1001.12 L1242.5,1000.76 L1242.8,1003.87 L1243.09,993.17 L1243.39,999.21 L1243.68,985.61 L1243.98,1000.36 L1244.27,1004.26 L1244.57,1002.67 L1244.86,991.21 L1245.16,992.13 L1245.45,995.27 L1245.75,1004.13 L1246.04,1004.79 L1246.34,1004.79 L1246.64,995.55 L1246.93,1001.99 L1247.23,1003.08 L1247.52,998.97 L1247.82,1000.85 L1248.11,999.53 L1248.41,996.53 L1248.7,1004.62 L1249,1001.42 L1249.29,999.79 L1249.59,996.73 L1249.88,1000.41 L1250.18,983.26 L1250.47,999.85 L1250.77,997.85 L1251.06,1003.74 L1251.36,998.03 L1251.66,997.19 L1251.95,1004.51 L1252.25,1004.79 L1252.54,994.87 L1252.84,1000.18 L1253.13,993.12 L1253.43,1004.37 L1253.72,994.32 L1254.02,994.84 L1254.31,999.41 L1254.61,1002.74 L1254.9,998.21 L1255.2,1001.86 L1255.49,1005.25 L1255.79,998.03 L1256.08,1002.54 L1256.38,988.53 L1256.67,1002.08 L1256.97,1002.14 L1257.27,994.8 L1257.56,1000.46 L1257.86,1001.17 L1258.15,994.19 L1258.45,994.47 L1258.74,986.94 L1259.04,992.56 L1259.33,997.17 L1259.63,1003.54 L1259.92,995.53 L1260.22,983.96 L1260.51,1005.95 L1260.81,991.03 L1261.1,1000.41 L1261.4,996.12 L1261.69,992.35 L1261.99,1002.83 L1262.29,999.19 L1262.58,1002.82 L1262.88,1004.09 L1263.17,1003.36 L1263.47,1001.04 L1263.76,1000.87 L1264.06,1002.24 L1264.35,1002.1 L1264.65,999.73 L1264.94,988.46 L1265.24,985.77 L1265.53,996.08 L1265.83,1002.68 L1266.12,997.92 L1266.42,984.35 L1266.71,993.17 L1267.01,997.31 L1267.31,983.2 L1267.6,1001.33 L1267.9,1004.07 L1268.19,1001.36 L1268.49,996.01 L1268.78,998.56 L1269.08,1000.99 L1269.37,1000.48 L1269.67,998.37 L1269.96,1003.08 L1270.26,1002.88 L1270.55,1000.3 L1270.85,1000.56 L1271.14,1000.32 L1271.44,993.56 L1271.73,998.65 L1272.03,1001.79 L1272.33,1001.24 L1272.62,1004.53 L1272.92,982.42 L1273.21,1005.7 L1273.51,999.39 L1273.8,995.96 L1274.1,994.73 L1274.39,1000.72 L1274.69,1001.72 L1274.98,997.27 L1275.28,1001.61 L1275.57,1005.35 L1275.87,1000.09 L1276.16,1004.41 L1276.46,1005.22 L1276.75,995.49 L1277.05,1001.62 L1277.34,999.99 L1277.64,1002.09 L1277.94,1007.19 L1278.23,1005.44 L1278.53,1003.49 L1278.82,1009.25 L1279.12,1009.81 L1279.41,997.89 L1279.71,1004.44 L1280,999.77 L1280.3,1002.68 L1280.59,1007.29 L1280.89,1006.69 L1281.18,1005.04 L1281.48,1002.08 L1281.77,1005.14 L1282.07,1000.74 L1282.36,998.47 L1282.66,1007.72 L1282.96,1008.01 L1283.25,998.24 L1283.55,1007.61 L1283.84,998.87 L1284.14,993.3 L1284.43,1007.61 L1284.73,1008.15 L1285.02,999.76 L1285.32,1006.22 L1285.61,1008.68 L1285.91,1005.37 L1286.2,1007.01 L1286.5,1002.06 L1286.79,1009.49 L1287.09,1011.12 L1287.38,996.9 L1287.68,1007.94 L1287.98,1010.81 L1288.27,1010.55 L1288.57,1010 L1288.86,1006.5 L1289.16,1012.15 L1289.45,1009.51 L1289.75,1005.8 L1290.04,1007.27 L1290.34,1003.55 L1290.63,996.51 L1290.93,1001.13 L1291.22,1008.52 L1291.52,1005.36 L1291.81,1007.81 L1292.11,1006.35 L1292.4,1012.15 L1292.7,1003.54 L1293,1009.68 L1293.29,1010.97 L1293.59,1004.16 L1293.88,1011.65 L1294.18,1007.24 L1294.47,1003.5 L1294.77,998.54 L1295.06,1007.66 L1295.36,1008.71 L1295.65,1009 L1295.95,998.15 L1296.24,1002.57 L1296.54,1006.98 L1296.83,1005.94 L1297.13,996.02 L1297.42,1000.81 L1297.72,989.95 L1298.01,1003.45 L1298.31,1010.26 L1298.61,1007.53 L1298.9,1010.75 L1299.2,1008.81 L1299.49,999.41 L1299.79,1005.27 L1300.08,1008.8 L1300.38,1006.54 L1300.67,1006.95 L1300.97,1009.6 L1301.26,1002.85 L1301.56,1003.93 L1301.85,1001.06 L1302.15,998.19 L1302.44,1011.55 L1302.74,998.95 L1303.03,1005.67 L1303.33,1011.16 L1303.63,1003.29 L1303.92,1000.95 L1304.22,1008.64 L1304.51,1003.96 L1304.81,1003.96 L1305.1,1008.21 L1305.4,1011.18 L1305.69,1009.84 L1305.99,998.34 L1306.28,1000.24 L1306.58,1003.14 L1306.87,990.16 L1307.17,1011.35 L1307.46,1011.2 L1307.76,1003.91 L1308.05,1001.29 L1308.35,1008.45 L1308.65,1008.39 L1308.94,996.43 L1309.24,1005.6 L1309.53,1005.99 L1309.83,1007.3 L1310.12,1007.41 L1310.42,1001.82 L1310.71,1001.5 L1311.01,1007.31 L1311.3,1006.71 L1311.6,998.06 L1311.89,1001.91 L1312.19,1004.8 L1312.48,1002.34 L1312.78,1006.55 L1313.07,1003.83 L1313.37,1002.1 L1313.67,1004.76 L1313.96,1010.03 L1314.26,1004.87 L1314.55,1002.91 L1314.85,1001.5 L1315.14,1002.44 L1315.44,998.67 L1315.73,1000.25 L1316.03,1000 L1316.32,1006.17 L1316.62,1003.97 L1316.91,994.91 L1317.21,999.92 L1317.5,1002.57 L1317.8,1000.86 L1318.09,1001.53 L1318.39,994.94 L1318.68,991.97 L1318.98,995.78 L1319.28,997.75 L1319.57,1003.69 L1319.87,992.31 L1320.16,986.11 L1320.46,1003.64 L1320.75,999.07 L1321.05,1004.05 L1321.34,999.04 L1321.64,994.85 L1321.93,1001.4 L1322.23,1002.95 L1322.52,999.96 L1322.82,1001.84 L1323.11,1000.81 L1323.41,992.1 L1323.7,1000.97 L1324,993.99 L1324.3,1003.24 L1324.59,998.64 L1324.89,1000.49 L1325.18,1003.05 L1325.48,993.49 L1325.77,1004.5 L1326.07,999.44 L1326.36,1003.53 L1326.66,997.83 L1326.95,1003.95 L1327.25,993.23 L1327.54,987.06 L1327.84,988.93 L1328.13,1000.99 L1328.43,1004.27 L1328.72,1000.1 L1329.02,1004.38 L1329.32,999.98 L1329.61,994 L1329.91,1000.37 L1330.2,1003.47 L1330.5,1002.01 L1330.79,1002.18 L1331.09,997.12 L1331.38,996.56 L1331.68,1003.57 L1331.97,1001.18 L1332.27,1000.06 L1332.56,991.64 L1332.86,1004.06 L1333.15,998.75 L1333.45,991.19 L1333.74,1005.01 L1334.04,1001.28 L1334.33,998.56 L1334.63,1003.9 L1334.93,1003.24 L1335.22,1003.32 L1335.52,1000.29 L1335.81,996.5 L1336.11,994.18 L1336.4,1003.61 L1336.7,999.98 L1336.99,1000.81 L1337.29,1004.01 L1337.58,993.38 L1337.88,1001.5 L1338.17,997.45 L1338.47,992.74 L1338.76,1000.13 L1339.06,998.25 L1339.35,1001.43 L1339.65,998.9 L1339.95,992.23 L1340.24,998.02 L1340.54,998.71 L1340.83,993.21 L1341.13,1001.54 L1341.42,998.3 L1341.72,994.85 L1342.01,1001.69 L1342.31,1001.91 L1342.6,997.59 L1342.9,990.36 L1343.19,1005.59 L1343.49,1000.31 L1343.78,1002.56 L1344.08,995.48 L1344.37,997.33 L1344.67,1000.34 L1344.97,981.74 L1345.26,1001.64 L1345.56,993.15 L1345.85,992.06 L1346.15,1004.11 L1346.44,1003.79 L1346.74,999.6 L1347.03,997.78 L1347.33,1002.19 L1347.62,999.01 L1347.92,1000.7 L1348.21,1003.93 L1348.51,1002.66 L1348.8,1005.04 L1349.1,991.41 L1349.39,1002.41 L1349.69,1001.44 L1349.99,999.75 L1350.28,1003.09 L1350.58,991.18 L1350.87,1002.91 L1351.17,987.92 L1351.46,994.23 L1351.76,1002.9 L1352.05,994.35 L1352.35,1003.32 L1352.64,1002.47 L1352.94,1004.66 L1353.23,1002.56 L1353.53,1009.34 L1353.82,995.58 L1354.12,999.84 L1354.41,1010.8 L1354.71,996.16 L1355,1005.46 L1355.3,992.19 L1355.6,1001.77 L1355.89,1001.25 L1356.19,990.68 L1356.48,997.86 L1356.78,998.19 L1357.07,1003.86 L1357.37,990.96 L1357.66,994.29 L1357.96,999.73 L1358.25,1000.43 L1358.55,1002.34 L1358.84,1001.84 L1359.14,993.37 L1359.43,998.76 L1359.73,998.06 L1360.02,996.05 L1360.32,998.47 L1360.62,994.83 L1360.91,1001.63 L1361.21,1001.14 L1361.5,997.99 L1361.8,1002.7 L1362.09,991.95 L1362.39,988.08 L1362.68,1000.01 L1362.98,1002.42 L1363.27,1000.87 L1363.57,1008.6 L1363.86,990.33 L1364.16,1003.15 L1364.45,1000.96 L1364.75,1006.2 L1365.04,1002.11 L1365.34,999.8 L1365.64,1007.65 L1365.93,999.74 L1366.23,1004.65 L1366.52,989.09 L1366.82,1002.26 L1367.11,1003.94 L1367.41,1009.14 L1367.7,1010.34 L1368,1006.86 L1368.29,990.53 L1368.59,997.47 L1368.88,999.67 L1369.18,999.19 L1369.47,1005.7 L1369.77,1005.45 L1370.06,1007.11 L1370.36,999.25 L1370.66,1004.41 L1370.95,1010.23 L1371.25,992.04 L1371.54,1010.67 L1371.84,1000.7 L1372.13,1004.52 L1372.43,1005.81 L1372.72,1006.92 L1373.02,1002.68 L1373.31,1009.11 L1373.61,1007.12 L1373.9,1010.3 L1374.2,996.97 L1374.49,1009.25 L1374.79,1009.06 L1375.08,1004.75 L1375.38,993.52 L1375.67,1008.7 L1375.97,1009.67 L1376.27,1004.45 L1376.56,1009.69 L1376.86,1008.36 L1377.15,1009.43 L1377.45,1002.23 L1377.74,1009.48 L1378.04,1005.45 L1378.33,1005.45 L1378.63,1008.49 L1378.92,997.77 L1379.22,1000.03 L1379.51,1006.31 L1379.81,1011.93 L1380.1,1008.92 L1380.4,1004.87 L1380.69,1010.89 L1380.99,1007.63 L1381.29,1012.16 L1381.58,1002.79 L1381.88,1007.89 L1382.17,1008.4 L1382.47,1007.7 L1382.76,1000.08 L1383.06,999.06 L1383.35,1009.65 L1383.65,1005.22 L1383.94,1006.87 L1384.24,1007.89 L1384.53,1010.51 L1384.83,1008.33 L1385.12,1005.59 L1385.42,988.4 L1385.71,998.66 L1386.01,999.41 L1386.31,996.69 L1386.6,1003.23 L1386.9,995.19 L1387.19,1009.27 L1387.49,1005.01 L1387.78,1003 L1388.08,1007.92 L1388.37,1007 L1388.67,1003.04 L1388.96,1011.02 L1389.26,1008.27 L1389.55,998.68 L1389.85,1010.63 L1390.14,1010.24 L1390.44,1011.37 L1390.73,1004.25 L1391.03,999.12 L1391.33,1009.08 L1391.62,1004.69 L1391.92,1011.06 L1392.21,1007.01 L1392.51,998.53 L1392.8,1003.56 L1393.1,1005.14 L1393.39,1008.85 L1393.69,1009.69 L1393.98,1010.45 L1394.28,1003.56 L1394.57,1011.84 L1394.87,1011.18 L1395.16,1008.87 L1395.46,1009.59 L1395.75,1010.84 L1396.05,1003.73 L1396.34,1011.18 L1396.64,1011.93 L1396.94,1003.62 L1397.23,1002.04 L1397.53,1008.71 L1397.82,1001.03 L1398.12,1009.14 L1398.41,996.7 L1398.71,1001.69 L1399,997.44 L1399.3,1006.03 L1399.59,1003.01 L1399.89,1000.68 L1400.18,1008.46 L1400.48,1003.44 L1400.77,1005.35 L1401.07,989.33 L1401.36,989.76 L1401.66,997.41 L1401.96,1001.27 L1402.25,1002.57 L1402.55,1007.07 L1402.84,997.75 L1403.14,1000.77 L1403.43,999.81 L1403.73,1003.53 L1404.02,1004.72 L1404.32,995.68 L1404.61,1000.77 L1404.91,1001.07 L1405.2,997.87 L1405.5,996.83 L1405.79,998.06 L1406.09,1000.51 L1406.38,999.93 L1406.68,998.99 L1406.98,999.6 L1407.27,1010.95 L1407.57,1005.92 L1407.86,1004.2 L1408.16,993.39 L1408.45,993.3 L1408.75,1002.19 L1409.04,992.65 L1409.34,1004.34 L1409.63,1002.71 L1409.93,996.58 L1410.22,1003.5 L1410.52,1003.45 L1410.81,1000.79 L1411.11,986.9 L1411.4,1004.12 L1411.7,998.53 L1412,1002.98 L1412.29,1001.47 L1412.59,1003.53 L1412.88,1002.8 L1413.18,1001.36 L1413.47,999 L1413.77,995.25 L1414.06,1002.25 L1414.36,1001.28 L1414.65,1000.53 L1414.95,1005.02 L1415.24,997.99 L1415.54,991.88 L1415.83,1001.54 L1416.13,999.04 L1416.42,993.64 L1416.72,1003.68 L1417.01,997.55 L1417.31,1000.86 L1417.61,993.58 L1417.9,1003.43 L1418.2,996.17 L1418.49,979.31 L1418.79,992.89 L1419.08,1001.95 L1419.38,1002.46 L1419.67,999.48 L1419.97,1000.57 L1420.26,1003.62 L1420.56,1004.89 L1420.85,999.43 L1421.15,999.38 L1421.44,1003.9 L1421.74,995.82 L1422.03,995.06 L1422.33,998.88 L1422.63,1003.84 L1422.92,990.32 L1423.22,998.39 L1423.51,1001.49 L1423.81,992.23 L1424.1,994.26 L1424.4,999.86 L1424.69,1005.16 L1424.99,1001.68 L1425.28,1005.17 L1425.58,999.79 L1425.87,1002.23 L1426.17,997.61 L1426.46,1004.36 L1426.76,993.53 L1427.05,998.37 L1427.35,992.39 L1427.65,995.42 L1427.94,999.71 L1428.24,994.65 L1428.53,1005.54 L1428.83,1000.06 L1429.12,996.36 L1429.42,999.34 L1429.71,1002.95 L1430.01,1002.57 L1430.3,1003.04 L1430.6,1001.44 L1430.89,1003.25 L1431.19,993.77 L1431.48,995.8 L1431.78,991.49 L1432.07,999.86 L1432.37,998.08 L1432.67,994.24 L1432.96,994.92 L1433.26,996.46 L1433.55,998.27 L1433.85,999.49 L1434.14,995.85 L1434.44,1006.67 L1434.73,999.99 L1435.03,999.51 L1435.32,1001.28 L1435.62,1005.35 L1435.91,1004.5 L1436.21,1002.5 L1436.5,999.88 L1436.8,994.53 L1437.09,997.08 L1437.39,991.4 L1437.68,998.6 L1437.98,997.65 L1438.28,992.44 L1438.57,1004.77 L1438.87,984.02 L1439.16,1003.65 L1439.46,990.45 L1439.75,1002.9 L1440.05,994.11 L1440.34,997.07 L1440.64,991.61 L1440.93,993.57 L1441.23,998.19 L1441.52,991.73 L1441.82,1002.38 L1442.11,1001.3 L1442.41,979.1 L1442.7,998.27 L1443,998.1 L1443.3,1005.29 L1443.59,990.57 L1443.89,996.51 L1444.18,996.28 L1444.48,991.08 L1444.77,999.22 L1445.07,993.51 L1445.36,999.82 L1445.66,1004.14 L1445.95,997.22 L1446.25,997.55 L1446.54,1004.36 L1446.84,995.77 L1447.13,984.33 L1447.43,995.12 L1447.72,1010.15 L1448.02,995.91 L1448.32,1003.06 L1448.61,1002.59 L1448.91,1004.29 L1449.2,999.98 L1449.5,993.08 L1449.79,984.84 L1450.09,1002.38 L1450.38,1002.86 L1450.68,1000.11 L1450.97,998.57 L1451.27,1002.69 L1451.56,1000.04 L1451.86,1002.31 L1452.15,1003.87 L1452.45,994.18 L1452.74,997.28 L1453.04,1004.41 L1453.33,1004.69 L1453.63,1005.92 L1453.93,993.64 L1454.22,986.72 L1454.52,1004.98 L1454.81,1002.92 L1455.11,992.41 L1455.4,1000.18 L1455.7,1003.33 L1455.99,1005.73 L1456.29,999.84 L1456.58,999.45 L1456.88,1006.04 L1457.17,1002.03 L1457.47,1004.71 L1457.76,1008.24 L1458.06,1004.93 L1458.35,1002.75 L1458.65,1006.83 L1458.95,1002.28 L1459.24,1000.2 L1459.54,987.77 L1459.83,1007.69 L1460.13,1003.32 L1460.42,1004.37 L1460.72,1001.5 L1461.01,1009.27 L1461.31,994.54 L1461.6,1009.06 L1461.9,1009.56 L1462.19,1007.71 L1462.49,1004.88 L1462.78,1005.92 L1463.08,1005.6 L1463.37,1009.13 L1463.67,1010.08 L1463.97,1007.08 L1464.26,1008.73 L1464.56,1011.02 L1464.85,1005.18 L1465.15,1006.04 L1465.44,1001.57 L1465.74,998.66 L1466.03,1004.42 L1466.33,991.22 L1466.62,1010.03 L1466.92,1009.57 L1467.21,1008.7 L1467.51,1005.5 L1467.8,1003.45 L1468.1,1005.33 L1468.39,1008.06 L1468.69,1002.78 L1468.99,1004.96 L1469.28,1007.06 L1469.58,996.16 L1469.87,1009.23 L1470.17,1010.91 L1470.46,1007.85 L1470.76,1002.12 L1471.05,1003.81 L1471.35,1010.97 L1471.64,1009.72 L1471.94,995.72 L1472.23,999.96 L1472.53,1002.5 L1472.82,1003.88 L1473.12,1004.38 L1473.41,1009.61 L1473.71,1008.6 L1474,1005.09 L1474.3,1008.79 L1474.6,1000.37 L1474.89,1008.29 L1475.19,1009.12 L1475.48,1001.49 L1475.78,1009.63 L1476.07,1003.97 L1476.37,1008.86 L1476.66,1003.77 L1476.96,1002.26 L1477.25,998.56 L1477.55,1009.79 L1477.84,1010.12 L1478.14,1006.52 L1478.43,1002.25 L1478.73,1005.64 L1479.02,1009.63 L1479.32,1006.49 L1479.62,999.62 L1479.91,1006.4 L1480.21,998.57 L1480.5,989.98 L1480.8,1011.7 L1481.09,992.58 L1481.39,1003.9 L1481.68,1000.28 L1481.98,1007.71 L1482.27,1010.47 L1482.57,998.85 L1482.86,1003.51 L1483.16,997.91 L1483.45,1007.79 L1483.75,1007.34 L1484.04,1003.42 L1484.34,1011.64 L1484.64,998.32 L1484.93,998.48 L1485.23,997.36 L1485.52,1009.65 L1485.82,1009.41 L1486.11,1008.53 L1486.41,997.02 L1486.7,1002.26 L1487,1005.66 L1487.29,999.93 L1487.59,998.86 L1487.88,1005.96 L1488.18,996.44 L1488.47,996.76 L1488.77,1000.58 L1489.06,999.79 L1489.36,1007.43 L1489.66,1004.85 L1489.95,1008.29 L1490.25,1006.57 L1490.54,1000.41 L1490.84,996.26 L1491.13,1005.92 L1491.43,995.39 L1491.72,1000.32 L1492.02,1004.26 L1492.31,1002.24 L1492.61,993.09 L1492.9,995.97 L1493.2,996.48 L1493.49,999.19 L1493.79,1003.82 L1494.08,1001 L1494.38,1000.81 L1494.67,1004.48 L1494.97,999.6 L1495.27,1002.48 L1495.56,1002.71 L1495.86,991.9 L1496.15,1002.69 L1496.45,1005.97 L1496.74,994.74 L1497.04,1003.8 L1497.33,994.23 L1497.63,1001.04 L1497.92,993.83 L1498.22,1003.85 L1498.51,1002.22 L1498.81,993.98 L1499.1,1005.48 L1499.4,993.98 L1499.69,990.76 L1499.99,996.6 L1500.29,1004.1 L1500.58,994.73 L1500.88,1002.75 L1501.17,1000.92 L1501.47,999.35 L1501.76,1001.79 L1502.06,1010.63 L1502.35,1004.03 L1502.65,1002.97 L1502.94,1004.5 L1503.24,998.98 L1503.53,997.08 L1503.83,1003.13 L1504.12,1004.28 L1504.42,1004.42 L1504.71,990.64 L1505.01,992.93 L1505.31,1007.13 L1505.6,1000.48 L1505.9,993.44 L1506.19,1002.28 L1506.49,992.43 L1506.78,991.65 L1507.08,1000.08 L1507.37,1004.15 L1507.67,1003.93 L1507.96,1009.89 L1508.26,996.93 L1508.55,1002.34 L1508.85,1004.15 L1509.14,991.74 L1509.44,1003.92 L1509.73,1008.91 L1510.03,1000.27 L1510.33,1001.69 L1510.62,998.43 L1510.92,1001.32 L1511.21,1004.48 L1511.51,1002.8 L1511.8,1000.17 L1512.1,1003.03 L1512.39,998.85 L1512.69,999.32 L1512.98,999.54 L1513.28,1002.46 L1513.57,984.68 L1513.87,1002.95 L1514.16,1003.96 L1514.46,990.98 L1514.75,1000.19 L1515.05,991.52 L1515.34,1004.73 L1515.64,989.94 L1515.94,991.91 L1516.23,998.73 L1516.53,1002.96 L1516.82,1003.54 L1517.12,997.59 L1517.41,996.83 L1517.71,991.44 L1518,993.3 L1518.3,995.93 L1518.59,1004.47 L1518.89,1001.23 L1519.18,987.06 L1519.48,993.87 L1519.77,992.49 L1520.07,996.05 L1520.36,1002.3 L1520.66,1001.59 L1520.96,998.77 L1521.25,999.97 L1521.55,1002.06 L1521.84,1000.58 L1522.14,994.79 L1522.43,1000.5 L1522.73,1001.34 L1523.02,1002.75 L1523.32,1003.15 L1523.61,1005.6 L1523.91,1004.56 L1524.2,1001.46 L1524.5,1000.67 L1524.79,1004.16 L1525.09,983.95 L1525.38,1001.39 L1525.68,1003.34 L1525.98,999.6 L1526.27,992.37 L1526.57,979.06 L1526.86,1000.91 L1527.16,997.39 L1527.45,1004.22 L1527.75,995.94 L1528.04,1001.25 L1528.34,993.31 L1528.63,993.52 L1528.93,994.4 L1529.22,1005.2 L1529.52,1000.89 L1529.81,1003.18 L1530.11,1003.71 L1530.4,984.27 L1530.7,1004.47 L1531,997.84 L1531.29,1002.19 L1531.59,997.71 L1531.88,993.24 L1532.18,994.77 L1532.47,994.8 L1532.77,997.09 L1533.06,993.06 L1533.36,1004.37 L1533.65,997.68 L1533.95,982.84 L1534.24,1000.45 L1534.54,1000.48 L1534.83,1001.1 L1535.13,1000.53 L1535.42,1005.36 L1535.72,990.6 L1536.01,1004.54 L1536.31,996.45 L1536.61,985.91 L1536.9,1005.54 L1537.2,1002.38 L1537.49,993.71 L1537.79,993.75 L1538.08,985.22 L1538.38,985.58 L1538.67,1002.53 L1538.97,1001.44 L1539.26,988.24 L1539.56,1006.1 L1539.85,996.6 L1540.15,1006.99 L1540.44,1007.73 L1540.74,1009.36 L1541.03,1002.73 L1541.33,1009.37 L1541.63,1009.89 L1541.92,998.41 L1542.22,1002.44 L1542.51,1010.13 L1542.81,1004.08 L1543.1,1004.81 L1543.4,997.91 L1543.69,1000.53 L1543.99,1010.51 L1544.28,1010.76 L1544.58,1000.61 L1544.87,1006.98 L1545.17,1000.44 L1545.46,1006.77 L1545.76,1001.91 L1546.05,1009.54 L1546.35,1008.35 L1546.65,1005.35 L1546.94,997.7 L1547.24,1009.95 L1547.53,1006.16 L1547.83,1005.92 L1548.12,1004.44 L1548.42,1008.92 L1548.71,1006.02 L1549.01,1008.45 L1549.3,1005.53 L1549.6,1011.79 L1549.89,1008.93 L1550.19,1004.83 L1550.48,1001.29 L1550.78,1010.32 L1551.07,997.21 L1551.37,1003.57 L1551.67,995.07 L1551.96,1007.4 L1552.26,1004.53 L1552.55,1007.08 L1552.85,1000.45 L1553.14,1007.5 L1553.44,998.63 L1553.73,1010.45 L1554.03,1008.16 L1554.32,1007.63 L1554.62,1008.16 L1554.91,1002.46 L1555.21,1008.05 L1555.5,1006.6 L1555.8,1006 L1556.09,1010.05 L1556.39,1003.41 L1556.68,1011.17 L1556.98,1002.85 L1557.28,1009 L1557.57,1005.94 L1557.87,997.67 L1558.16,998.99 L1558.46,1006.56 L1558.75,1002.7 L1559.05,1000.98 L1559.34,998.12 L1559.64,1007.71 L1559.93,1008.22 L1560.23,1007.29 L1560.52,1004.37 L1560.82,1007.25 L1561.11,999.92 L1561.41,1008.83 L1561.7,1003.38 L1562,1004.1 L1562.3,998.82 L1562.59,997.97 L1562.89,1005.49 L1563.18,998.88 L1563.48,1009.73 L1563.77,1010.83 L1564.07,1004.08 L1564.36,1003.85 L1564.66,1010.7 L1564.95,1004.83 L1565.25,1006.61 L1565.54,1009.74 L1565.84,1001.76 L1566.13,1009.13 L1566.43,998.7 L1566.72,1004.6 L1567.02,1003.19 L1567.32,1008.32 L1567.61,1006.18 L1567.91,1010.73 L1568.2,1010.72 L1568.5,1003.8 L1568.79,1009.69 L1569.09,998.69 L1569.38,1007.39 L1569.68,1004.03 L1569.97,998.65 L1570.27,998.48 L1570.56,998.22 L1570.86,1005.11 L1571.15,1010.68 L1571.45,1004.8 L1571.74,1007.94 L1572.04,1006.78 L1572.33,1011.2 L1572.63,1008.02 L1572.93,1008.28 L1573.22,999.14 L1573.52,1007.33 L1573.81,1000.49 L1574.11,1009.24 L1574.4,1001.66 L1574.7,990.74 L1574.99,1005.1 L1575.29,1001.91 L1575.58,1009.83 L1575.88,1005.98 L1576.17,1005.41 L1576.47,998.4 L1576.76,1009.53 L1577.06,1005.88 L1577.35,1002.57 L1577.65,999.34 L1577.95,1005.87 L1578.24,1002.18 L1578.54,991.2 L1578.83,1004.56 L1579.13,1006.51 L1579.42,1007.39 L1579.72,1007.25 L1580.01,1011.08 L1580.31,1006.84 L1580.6,1000.13 L1580.9,1002.78 L1581.19,1002.31 L1581.49,999.12 L1581.78,1004.9 L1582.08,998.13 L1582.37,1004.81 L1582.67,995.65 L1582.97,1007.94 L1583.26,1005.57 L1583.56,1007.59 L1583.85,1001.36 L1584.15,1004.21 L1584.44,997.44 L1584.74,995.41 L1585.03,1004.74 L1585.33,1006.25 L1585.62,999.79 L1585.92,1001.43 L1586.21,993.31 L1586.51,993.71 L1586.8,1003.78 L1587.1,1004.25 L1587.39,996.64 L1587.69,995.4 L1587.99,999.42 L1588.28,998.36 L1588.58,992.42 L1588.87,1002.82 L1589.17,994.59 L1589.46,1003.58 L1589.76,988.07 L1590.05,997.81 L1590.35,1000.32 L1590.64,1003.81 L1590.94,1004.77 L1591.23,1003.61 L1591.53,999.99 L1591.82,986.96 L1592.12,994.86 L1592.41,1005.43 L1592.71,1001.79 L1593,1003.92 L1593.3,1004.2 L1593.6,1002.47 L1593.89,998.92 L1594.19,1001.3 L1594.48,996.11 L1594.78,997.16 L1595.07,1005.47 L1595.37,1002.9 L1595.66,994.99 L1595.96,1002.27 L1596.25,997.58 L1596.55,998.36 L1596.84,998.17 L1597.14,1003.74 L1597.43,1003.74 L1597.73,1002.07 L1598.02,1005.11 L1598.32,981.79 L1598.62,987.29 L1598.91,1007.23 L1599.21,1000.72 L1599.5,991.88 L1599.8,998.44 L1600.09,998.65 L1600.39,998.83 L1600.68,990.65 L1600.98,995.83 L1601.27,996.62 L1601.57,1000.26 L1601.86,998.22 L1602.16,998.62 L1602.45,1004.24 L1602.75,1003.31 L1603.04,986.25 L1603.34,1004.1 L1603.64,990.85 L1603.93,984.84 L1604.23,1002.94 L1604.52,992.19 L1604.82,997.38 L1605.11,989.14 L1605.41,1001.04 L1605.7,994.31 L1606,987.78 L1606.29,1000.53 L1606.59,991.77 L1606.88,1004 L1607.18,995.44 L1607.47,1000.76 L1607.77,996.31 L1608.06,1004.52 L1608.36,1003.92 L1608.66,1005.48 L1608.95,1003.03 L1609.25,993.58 L1609.54,997.76 L1609.84,1004.66 L1610.13,993.54 L1610.43,1004.11 L1610.72,996.1 L1611.02,996.59 L1611.31,1003.26 L1611.61,1004.27 L1611.9,987.7 L1612.2,1001.68 L1612.49,1001.41 L1612.79,1004.59 L1613.08,994.64 L1613.38,1000.55 L1613.67,1002.53 L1613.97,1002.32 L1614.27,997.63 L1614.56,1002.63 L1614.86,1003.57 L1615.15,1002.62 L1615.45,1002.01 L1615.74,995.34 L1616.04,999.65 L1616.33,996.71 L1616.63,996.57 L1616.92,1001.27 L1617.22,995.35 L1617.51,1001.27 L1617.81,999.3 L1618.1,1001.11 L1618.4,994.39 L1618.69,1003.25 L1618.99,994.93 L1619.29,992.71 L1619.58,996.02 L1619.88,1003.29 L1620.17,1004.12 L1620.47,1001.65 L1620.76,993.23 L1621.06,1004.18 L1621.35,1005.17 L1621.65,1003.98 L1621.94,985.1 L1622.24,1000.95 L1622.53,999.64 L1622.83,1005.08 L1623.12,1005.56 L1623.42,994.59 L1623.71,996.16 L1624.01,1008.05 L1624.31,1001.99 L1624.6,1005.63 L1624.9,994.65 L1625.19,1002 L1625.49,1006.4 L1625.78,998.5 L1626.08,1006.87 L1626.37,1004.55 L1626.67,994.35 L1626.96,1007.08 L1627.26,993.46 L1627.55,1004.31 L1627.85,1004.84 L1628.14,1003.61 L1628.44,1001.92 L1628.73,1009.75 L1629.03,999.46 L1629.33,1006.33 L1629.62,1009.81 L1629.92,991.75 L1630.21,1002.99 L1630.51,1004.81 L1630.8,1008.49 L1631.1,1011.28 L1631.39,1001.63 L1631.69,1004.06 L1631.98,1010.53 L1632.28,1005.81 L1632.57,998.39 L1632.87,991.85 L1633.16,999.5 L1633.46,1007.86 L1633.75,999.22 L1634.05,1012.04 L1634.34,1009.75 L1634.64,998.55 L1634.94,1009.28 L1635.23,992.95 L1635.53,1004.55 L1635.82,1008.09 L1636.12,1005.02 L1636.41,1002.39 L1636.71,1002.17 L1637,1003.53 L1637.3,1006.73 L1637.59,1005.57 L1637.89,1011.85 L1638.18,1008.39 L1638.48,1008.55 L1638.77,993.3 L1639.07,999.73 L1639.36,1002.07 L1639.66,1011.63 L1639.96,1005.06 L1640.25,1000.98 L1640.55,1007.58 L1640.84,1007.68 L1641.14,1010.37 L1641.43,1009.32 L1641.73,1000.21 L1642.02,998.31 L1642.32,1006.27 L1642.61,1004.89 L1642.91,1008.73 L1643.2,1001.06 L1643.5,1001.97 L1643.79,1008.03 L1644.09,1010.02 L1644.38,1006.51 L1644.68,1003.15 L1644.98,1008.5 L1645.27,997.35 L1645.57,1011.71 L1645.86,1009.07 L1646.16,1007.06 L1646.45,1002.35 L1646.75,1009.07 L1647.04,1010.55 L1647.34,1000.73 L1647.63,1004.05 L1647.93,1011.31 L1648.22,1007.73 L1648.52,988.7 L1648.81,1005.32 L1649.11,1010.78 L1649.4,1002.28 L1649.7,1010.45 L1650,1003.93 L1650.29,997.76 L1650.59,1008.67 L1650.88,1002.61 L1651.18,1009.43 L1651.47,1007.61 L1651.77,1010.94 L1652.06,998.86 L1652.36,1007.54 L1652.65,1008.79 L1652.95,1005.08 L1653.24,1004.14 L1653.54,998.4 L1653.83,991.64 L1654.13,1007.5 L1654.42,1012.06 L1654.72,1010.58 L1655.01,998.27 L1655.31,1007.53 L1655.61,999.36 L1655.9,1003.25 L1656.2,1007.81 L1656.49,1003.4 L1656.79,1011.06 L1657.08,1003.49 L1657.38,1005.84 L1657.67,1002.04 L1657.97,1008.77 L1658.26,999.6 L1658.56,1002.76 L1658.85,1006.64 L1659.15,1001.33 L1659.44,1007.49 L1659.74,1002.69 L1660.03,1007.71 L1660.33,995.59 L1660.63,1001.16 L1660.92,995.99 L1661.22,998.16 L1661.51,1003.72 L1661.81,1006.34 L1662.1,1004.76 L1662.4,1006.1 L1662.69,1004.15 L1662.99,1003.94 L1663.28,985.12 L1663.58,997.88 L1663.87,996.31 L1664.17,1002.41 L1664.46,995.64 L1664.76,990.01 L1665.05,994.39 L1665.35,992.28 L1665.65,994.9 L1665.94,1002.81 L1666.24,998.59 L1666.53,995.83 L1666.83,998.39 L1667.12,992.12 L1667.42,991.55 L1667.71,991.38 L1668.01,997.47 L1668.3,998.17 L1668.6,1003.11 L1668.89,1000.49 L1669.19,1002.15 L1669.48,1002.93 L1669.78,1002.91 L1670.07,1003.15 L1670.37,1003.67 L1670.67,1002.99 L1670.96,997.98 L1671.26,995.13 L1671.55,1001.86 L1671.85,992.45 L1672.14,997.44 L1672.44,1002.39 L1672.73,1000.58 L1673.03,1004.58 L1673.32,1002.73 L1673.62,998.38 L1673.91,1001.11 L1674.21,988.37 L1674.5,993.85 L1674.8,1004.88 L1675.09,992.72 L1675.39,1002.57 L1675.68,982.15 L1675.98,997.06 L1676.28,1002.96 L1676.57,1000.75 L1676.87,999.76 L1677.16,1002.51 L1677.46,995.89 L1677.75,994.62 L1678.05,1004.29 L1678.34,1000.19 L1678.64,1002.69 L1678.93,1004.95 L1679.23,1004.19 L1679.52,1003.71 L1679.82,1001.58 L1680.11,998.21 L1680.41,1000.69 L1680.7,990.95 L1681,999.61 L1681.3,997.7 L1681.59,1004.95 L1681.89,997.03 L1682.18,998.51 L1682.48,993.55 L1682.77,1002.26 L1683.07,997.4 L1683.36,994.96 L1683.66,999.15 L1683.95,994.66 L1684.25,995.78 L1684.54,982.01 L1684.84,992.18 L1685.13,1000.66 L1685.43,1002.2 L1685.72,1003.39 L1686.02,1000.95 L1686.32,991.76 L1686.61,992.76 L1686.91,1004.3 L1687.2,998.93 L1687.5,992.03 L1687.79,997.79 L1688.09,999.56 L1688.38,984.63 L1688.68,993.8 L1688.97,1004.92 L1689.27,1005.15 L1689.56,1002.87 L1689.86,1002.93 L1690.15,995.61 L1690.45,1002.88 L1690.74,1002.66 L1691.04,1003.89 L1691.33,995.72 L1691.63,998.92 L1691.93,998.76 L1692.22,1002.47 L1692.52,993.76 L1692.81,998.84 L1693.11,1002.5 L1693.4,1003.89 L1693.7,1001.29 L1693.99,1001.61 L1694.29,1005.05 L1694.58,994.64 L1694.88,1007.01 L1695.17,1007.11 L1695.47,988 L1695.76,1005.44 L1696.06,1001.09 L1696.35,1004.4 L1696.65,1006.32 L1696.95,1002.27 L1697.24,1003.98 L1697.54,1009.74 L1697.83,1006.54 L1698.13,1003.21 L1698.42,1002.26 L1698.72,1008.77 L1699.01,1009.06 L1699.31,999.39 L1699.6,1007.86 L1699.9,1008.44 L1700.19,1007.87 L1700.49,1006.08 L1700.78,1009.41 L1701.08,1008.86 L1701.37,990.09 L1701.67,1000.23 L1701.97,1005.53 L1702.26,1004.88 L1702.56,1010.02 L1702.85,1004.56 L1703.15,1006.18 L1703.44,1006.9 L1703.74,1008.1 L1704.03,1008.57 L1704.33,1009.18 L1704.62,1006.81 L1704.92,1005.84 L1705.21,1001.75 L1705.51,1005.83 L1705.8,1004.77 L1706.1,1008.98 L1706.39,1003.19 L1706.69,1002.73 L1706.99,1005.96 L1707.28,1007.52 L1707.58,1010.25 L1707.87,1002.83 L1708.17,1000.18 L1708.46,1009.12 L1708.76,1002.08 L1709.05,991.57 L1709.35,1006.34 L1709.64,1008.86 L1709.94,1008.44 L1710.23,1009.31 L1710.53,999.96 L1710.82,1005.66 L1711.12,1003.03 L1711.41,1007.46 L1711.71,998.33 L1712,1006 L1712.3,999.32 L1712.6,1010.67 L1712.89,999.8 L1713.19,1006.69 L1713.48,989.64 L1713.78,1007.72 L1714.07,1009.07 L1714.37,1008.96 L1714.66,1012.43 L1714.96,1005.91 L1715.25,1010.61 L1715.55,1000.71 L1715.84,999.99 L1716.14,992.54 L1716.43,1004.78 L1716.73,998.71 L1717.02,1001.24 L1717.32,992.2 L1717.62,1004.28 L1717.91,1005.95 L1718.21,1002.92 L1718.5,1006.75 L1718.8,1004.16 L1719.09,986.24 L1719.39,1007.14 L1719.68,1008.17 L1719.98,1007.28 L1720.27,1009.73 L1720.57,1007.64 L1720.86,1006.72 L1721.16,1010.09 L1721.45,1006.5 L1721.75,1000.72 L1722.04,1009.23 L1722.34,1011.22 L1722.64,998.18 L1722.93,1006.01 L1723.23,998.85 L1723.52,1004.77 L1723.82,1002.63 L1724.11,1004.02 L1724.41,1006.11 L1724.7,1006.12 L1725,1010.16 L1725.29,1012.22 L1725.59,1001.06 L1725.88,1011 L1726.18,1005.11 L1726.47,1006.21 L1726.77,1007.84 L1727.06,1008.11 L1727.36,1008.76 L1727.66,1006.17 L1727.95,1002.45 L1728.25,1010.84 L1728.54,1008.97 L1728.84,1000.33 L1729.13,1008.14 L1729.43,1009.14 L1729.72,997.46 L1730.02,1004.51 L1730.31,999.66 L1730.61,1006.07 L1730.9,1008.33 L1731.2,1002 L1731.49,1010.71 L1731.79,1009.17 L1732.08,1001.17 L1732.38,1004.72 L1732.67,1003.19 L1732.97,1004.98 L1733.27,1004.76 L1733.56,1005.43 L1733.86,1004.34 L1734.15,1010.71 L1734.45,1010.01 L1734.74,1006.79 L1735.04,997.69 L1735.33,1003.1 L1735.63,1007.44 L1735.92,1009.18 L1736.22,1001.81 L1736.51,1003.25 L1736.81,1009.4 L1737.1,1009.71 L1737.4,1008.05 L1737.69,1008.09 L1737.99,1003.14 L1738.29,1011.04 L1738.58,1002.37 L1738.88,1004.98 L1739.17,1007.39 L1739.47,1010.32 L1739.76,997.75 L1740.06,1007 L1740.35,1003.69 L1740.65,1003.93 L1740.94,1001.32 L1741.24,1010.99 L1741.53,1010.45 L1741.83,997.01 L1742.12,1009.5 L1742.42,1002.29 L1742.71,1009.2 L1743.01,1008.86 L1743.31,1007.46 L1743.6,1003.88 L1743.9,1007.8 L1744.19,1003.13 L1744.49,1010.94 L1744.78,1001.49 L1745.08,1003.61 L1745.37,1006.77 L1745.67,997.97 L1745.96,1006.59 L1746.26,995.93 L1746.55,998.58 L1746.85,1010.07 L1747.14,1004.38 L1747.44,1009.4 L1747.73,1005.58 L1748.03,1005.82 L1748.33,1007.16 L1748.62,1008.05 L1748.92,998.76 L1749.21,1001.02 L1749.51,996.46 L1749.8,1001.2 L1750.1,1004.74 L1750.39,991.52 L1750.69,992.86 L1750.98,998.27 L1751.28,997.99 L1751.57,992.88 L1751.87,1008.07 L1752.16,995.76 L1752.46,1002.47 L1752.75,1005.97 L1753.05,987.96 L1753.34,996.54 L1753.64,1005.06 L1753.94,1003.95 L1754.23,1003.52 L1754.53,1002.49 L1754.82,1008.02 L1755.12,1003.53 L1755.41,1002.6 L1755.71,1002.04 L1756,997.6 L1756.3,996.36 L1756.59,1000.34 L1756.89,1002.91 L1757.18,1002.84 L1757.48,998.46 L1757.77,997.62 L1758.07,1003.6 L1758.36,1000.54 L1758.66,1005.97 L1758.96,1000.83 L1759.25,1001.36 L1759.55,984.38 L1759.84,993.8 L1760.14,999.4 L1760.43,1005.61 L1760.73,998.17 L1761.02,1004.65 L1761.32,993.89 L1761.61,998.48 L1761.91,1002.67 L1762.2,1002.17 L1762.5,1002.56 L1762.79,988.05 L1763.09,996.47 L1763.38,1004.84 L1763.68,998.8 L1763.98,1002.61 L1764.27,994.66 L1764.57,1002.5 L1764.86,993.35 L1765.16,1004.71 L1765.45,1002.07 L1765.75,998.19 L1766.04,993 L1766.34,998.78 L1766.63,1008.16 L1766.93,992.43 L1767.22,1001.53 L1767.52,1004.2 L1767.81,1003.65 L1768.11,999.24 L1768.4,1005.31 L1768.7,999.19 L1769,1006.6 L1769.29,1005.98 L1769.59,999.25 L1769.88,994.97 L1770.18,995.2 L1770.47,1004.47 L1770.77,1005.22 L1771.06,1002.41 L1771.36,993.53 L1771.65,1001.08 L1771.95,1003.37 L1772.24,998.07 L1772.54,1003.23 L1772.83,997.91 L1773.13,1001.31 L1773.42,1000.21 L1773.72,997.36 L1774.01,1005.42 L1774.31,997.07 L1774.61,1007.24 L1774.9,997.84 L1775.2,994.78 L1775.49,999.56 L1775.79,997.91 L1776.08,996.81 L1776.38,1000.06 L1776.67,1000.8 L1776.97,1004.62 L1777.26,995.28 L1777.56,1003.32 L1777.85,1003.49 L1778.15,985.59 L1778.44,994.5 L1778.74,1000.01 L1779.03,1001.15 L1779.33,1004.57 L1779.63,1001.92 L1779.92,998.37 L1780.22,991.81 L1780.51,1000.28 L1780.81,1003.26 L1781.1,997.88 L1781.4,994.41 L1781.69,1004.25 L1781.99,996.02 L1782.28,1004.65 L1782.58,996.24 L1782.87,1001.51 L1783.17,994.64 L1783.46,1003.95 L1783.76,1000.4 L1784.05,1000.13 L1784.35,992.81 L1784.65,1005.4 L1784.94,1004.23 L1785.24,1004.35 L1785.53,998.13 L1785.83,997.51 L1786.12,984.67 L1786.42,1004.07 L1786.71,1003.77 L1787.01,1003.06 L1787.3,992.22 L1787.6,997.98 L1787.89,998.7 L1788.19,999.26 L1788.48,992.83 L1788.78,995.41 L1789.07,996.28 L1789.37,1002.71 L1789.67,992.91 L1789.96,1005.04 L1790.26,1000.23 L1790.55,1002 L1790.85,999.49 L1791.14,992.25 L1791.44,1003.87 L1791.73,985.22 L1792.03,1001.38 L1792.32,992.17 L1792.62,997.69 L1792.91,1005.48 L1793.21,1010.03 L1793.5,1003.05 L1793.8,1004.63 L1794.09,993.93 L1794.39,998.77 L1794.68,1000.39 L1794.98,991.56 L1795.28,999.2 L1795.57,995.44 L1795.87,1004.81 L1796.16,998.53 L1796.46,997.53 L1796.75,1003.88 L1797.05,1004.46 L1797.34,992.36 L1797.64,1001.47 L1797.93,998.89 L1798.23,1004.45 L1798.52,997.17 L1798.82,997.49 L1799.11,995.08 L1799.41,999.11 L1799.7,999.05 L1800,1001.83" fill="none" stroke="#000" stroke-width="2.2" stroke-linejoin="round" clip-path="url(#cR3)"/>
<line x1="1205" y1="1017.5" x2="1210.8" y2="1017.5" stroke="#000" stroke-width="1.1"/>
<text x="1199.5" y="1025.1" font-size="19.5" text-anchor="end" fill="#000" >10<tspan font-size="13.65" dy="-7.02">−1</tspan></text>
<line x1="1205" y1="1004.5" x2="1208.8" y2="1004.5" stroke="#000" stroke-width="0.9"/>
<line x1="1205" y1="996.5" x2="1208.8" y2="996.5" stroke="#000" stroke-width="0.9"/>
<line x1="1205" y1="991.5" x2="1208.8" y2="991.5" stroke="#000" stroke-width="0.9"/>
<line x1="1205" y1="986.5" x2="1208.8" y2="986.5" stroke="#000" stroke-width="0.9"/>
<line x1="1205" y1="983.5" x2="1208.8" y2="983.5" stroke="#000" stroke-width="0.9"/>
<line x1="1205" y1="980.5" x2="1208.8" y2="980.5" stroke="#000" stroke-width="0.9"/>
<line x1="1205" y1="978.5" x2="1208.8" y2="978.5" stroke="#000" stroke-width="0.9"/>
<line x1="1205" y1="975.5" x2="1208.8" y2="975.5" stroke="#000" stroke-width="0.9"/>
<line x1="1205" y1="974.5" x2="1210.8" y2="974.5" stroke="#000" stroke-width="1.1"/>
<text x="1199.5" y="982.1" font-size="19.5" text-anchor="end" fill="#000" >10<tspan font-size="13.65" dy="-7.02">0</tspan></text>
<line x1="1205" y1="961.5" x2="1208.8" y2="961.5" stroke="#000" stroke-width="0.9"/>
<line x1="1205" y1="953.5" x2="1208.8" y2="953.5" stroke="#000" stroke-width="0.9"/>
<line x1="1205" y1="948.5" x2="1208.8" y2="948.5" stroke="#000" stroke-width="0.9"/>
<line x1="1205" y1="943.5" x2="1208.8" y2="943.5" stroke="#000" stroke-width="0.9"/>
<line x1="1205" y1="940.5" x2="1208.8" y2="940.5" stroke="#000" stroke-width="0.9"/>
<line x1="1205" y1="937.5" x2="1208.8" y2="937.5" stroke="#000" stroke-width="0.9"/>
<line x1="1205" y1="935.5" x2="1208.8" y2="935.5" stroke="#000" stroke-width="0.9"/>
<line x1="1205" y1="932.5" x2="1208.8" y2="932.5" stroke="#000" stroke-width="0.9"/>
<line x1="1205" y1="931.5" x2="1210.8" y2="931.5" stroke="#000" stroke-width="1.1"/>
<text x="1199.5" y="939.1" font-size="19.5" text-anchor="end" fill="#000" >10<tspan font-size="13.65" dy="-7.02">1</tspan></text>
<line x1="1205" y1="918.5" x2="1208.8" y2="918.5" stroke="#000" stroke-width="0.9"/>
<line x1="1205" y1="910.5" x2="1208.8" y2="910.5" stroke="#000" stroke-width="0.9"/>
<line x1="1205" y1="905.5" x2="1208.8" y2="905.5" stroke="#000" stroke-width="0.9"/>
<line x1="1205" y1="900.5" x2="1208.8" y2="900.5" stroke="#000" stroke-width="0.9"/>
<line x1="1205" y1="897.5" x2="1208.8" y2="897.5" stroke="#000" stroke-width="0.9"/>
<line x1="1205" y1="894.5" x2="1208.8" y2="894.5" stroke="#000" stroke-width="0.9"/>
<line x1="1205" y1="892.5" x2="1208.8" y2="892.5" stroke="#000" stroke-width="0.9"/>
<line x1="1205" y1="889.5" x2="1208.8" y2="889.5" stroke="#000" stroke-width="0.9"/>
<line x1="1205" y1="888.5" x2="1210.8" y2="888.5" stroke="#000" stroke-width="1.1"/>
<text x="1199.5" y="896.1" font-size="19.5" text-anchor="end" fill="#000" >10<tspan font-size="13.65" dy="-7.02">2</tspan></text>
<line x1="1205" y1="875.5" x2="1208.8" y2="875.5" stroke="#000" stroke-width="0.9"/>
<line x1="1205" y1="867.5" x2="1208.8" y2="867.5" stroke="#000" stroke-width="0.9"/>
<line x1="1205" y1="862.5" x2="1208.8" y2="862.5" stroke="#000" stroke-width="0.9"/>
<line x1="1205" y1="857.5" x2="1208.8" y2="857.5" stroke="#000" stroke-width="0.9"/>
<line x1="1205" y1="854.5" x2="1208.8" y2="854.5" stroke="#000" stroke-width="0.9"/>
<line x1="1205" y1="851.5" x2="1208.8" y2="851.5" stroke="#000" stroke-width="0.9"/>
<line x1="1205" y1="849.5" x2="1208.8" y2="849.5" stroke="#000" stroke-width="0.9"/>
<line x1="1205" y1="846.5" x2="1208.8" y2="846.5" stroke="#000" stroke-width="0.9"/>
<line x1="1205" y1="845.5" x2="1210.8" y2="845.5" stroke="#000" stroke-width="1.1"/>
<text x="1199.5" y="853.1" font-size="19.5" text-anchor="end" fill="#000" >10<tspan font-size="13.65" dy="-7.02">3</tspan></text>
<line x1="1800" y1="1017.5" x2="1795.2" y2="1017.5" stroke="#000" stroke-width="1.1"/>
<line x1="1800" y1="1004.5" x2="1797.1" y2="1004.5" stroke="#000" stroke-width="0.9"/>
<line x1="1800" y1="996.5" x2="1797.1" y2="996.5" stroke="#000" stroke-width="0.9"/>
<line x1="1800" y1="991.5" x2="1797.1" y2="991.5" stroke="#000" stroke-width="0.9"/>
<line x1="1800" y1="986.5" x2="1797.1" y2="986.5" stroke="#000" stroke-width="0.9"/>
<line x1="1800" y1="983.5" x2="1797.1" y2="983.5" stroke="#000" stroke-width="0.9"/>
<line x1="1800" y1="980.5" x2="1797.1" y2="980.5" stroke="#000" stroke-width="0.9"/>
<line x1="1800" y1="978.5" x2="1797.1" y2="978.5" stroke="#000" stroke-width="0.9"/>
<line x1="1800" y1="975.5" x2="1797.1" y2="975.5" stroke="#000" stroke-width="0.9"/>
<line x1="1800" y1="974.5" x2="1795.2" y2="974.5" stroke="#000" stroke-width="1.1"/>
<line x1="1800" y1="961.5" x2="1797.1" y2="961.5" stroke="#000" stroke-width="0.9"/>
<line x1="1800" y1="953.5" x2="1797.1" y2="953.5" stroke="#000" stroke-width="0.9"/>
<line x1="1800" y1="948.5" x2="1797.1" y2="948.5" stroke="#000" stroke-width="0.9"/>
<line x1="1800" y1="943.5" x2="1797.1" y2="943.5" stroke="#000" stroke-width="0.9"/>
<line x1="1800" y1="940.5" x2="1797.1" y2="940.5" stroke="#000" stroke-width="0.9"/>
<line x1="1800" y1="937.5" x2="1797.1" y2="937.5" stroke="#000" stroke-width="0.9"/>
<line x1="1800" y1="935.5" x2="1797.1" y2="935.5" stroke="#000" stroke-width="0.9"/>
<line x1="1800" y1="932.5" x2="1797.1" y2="932.5" stroke="#000" stroke-width="0.9"/>
<line x1="1800" y1="931.5" x2="1795.2" y2="931.5" stroke="#000" stroke-width="1.1"/>
<line x1="1800" y1="918.5" x2="1797.1" y2="918.5" stroke="#000" stroke-width="0.9"/>
<line x1="1800" y1="910.5" x2="1797.1" y2="910.5" stroke="#000" stroke-width="0.9"/>
<line x1="1800" y1="905.5" x2="1797.1" y2="905.5" stroke="#000" stroke-width="0.9"/>
<line x1="1800" y1="900.5" x2="1797.1" y2="900.5" stroke="#000" stroke-width="0.9"/>
<line x1="1800" y1="897.5" x2="1797.1" y2="897.5" stroke="#000" stroke-width="0.9"/>
<line x1="1800" y1="894.5" x2="1797.1" y2="894.5" stroke="#000" stroke-width="0.9"/>
<line x1="1800" y1="892.5" x2="1797.1" y2="892.5" stroke="#000" stroke-width="0.9"/>
<line x1="1800" y1="889.5" x2="1797.1" y2="889.5" stroke="#000" stroke-width="0.9"/>
<line x1="1800" y1="888.5" x2="1795.2" y2="888.5" stroke="#000" stroke-width="1.1"/>
<line x1="1800" y1="875.5" x2="1797.1" y2="875.5" stroke="#000" stroke-width="0.9"/>
<line x1="1800" y1="867.5" x2="1797.1" y2="867.5" stroke="#000" stroke-width="0.9"/>
<line x1="1800" y1="862.5" x2="1797.1" y2="862.5" stroke="#000" stroke-width="0.9"/>
<line x1="1800" y1="857.5" x2="1797.1" y2="857.5" stroke="#000" stroke-width="0.9"/>
<line x1="1800" y1="854.5" x2="1797.1" y2="854.5" stroke="#000" stroke-width="0.9"/>
<line x1="1800" y1="851.5" x2="1797.1" y2="851.5" stroke="#000" stroke-width="0.9"/>
<line x1="1800" y1="849.5" x2="1797.1" y2="849.5" stroke="#000" stroke-width="0.9"/>
<line x1="1800" y1="846.5" x2="1797.1" y2="846.5" stroke="#000" stroke-width="0.9"/>
<line x1="1800" y1="845.5" x2="1795.2" y2="845.5" stroke="#000" stroke-width="1.1"/>
<line x1="1247.5" y1="1017" x2="1247.5" y2="1011.8" stroke="#000" stroke-width="1.1"/>
<text x="1247.5" y="1036.8" font-size="19.5" text-anchor="middle" fill="#000" >23</text>
<line x1="1332.5" y1="1017" x2="1332.5" y2="1011.8" stroke="#000" stroke-width="1.1"/>
<text x="1332.5" y="1036.8" font-size="19.5" text-anchor="middle" fill="#000" >24</text>
<line x1="1417.5" y1="1017" x2="1417.5" y2="1011.8" stroke="#000" stroke-width="1.1"/>
<text x="1417.5" y="1036.8" font-size="19.5" text-anchor="middle" fill="#000" >25</text>
<line x1="1502.5" y1="1017" x2="1502.5" y2="1011.8" stroke="#000" stroke-width="1.1"/>
<text x="1502.5" y="1036.8" font-size="19.5" text-anchor="middle" fill="#000" >26</text>
<line x1="1587.5" y1="1017" x2="1587.5" y2="1011.8" stroke="#000" stroke-width="1.1"/>
<text x="1587.5" y="1036.8" font-size="19.5" text-anchor="middle" fill="#000" >27</text>
<line x1="1672.5" y1="1017" x2="1672.5" y2="1011.8" stroke="#000" stroke-width="1.1"/>
<text x="1672.5" y="1036.8" font-size="19.5" text-anchor="middle" fill="#000" >28</text>
<line x1="1757.5" y1="1017" x2="1757.5" y2="1011.8" stroke="#000" stroke-width="1.1"/>
<text x="1757.5" y="1036.8" font-size="19.5" text-anchor="middle" fill="#000" >29</text>
<rect x="1205.0" y="845.0" width="595.0" height="172" fill="none" stroke="#000" stroke-width="2.1"/>
<text transform="translate(1105.8,931) rotate(-90)" font-size="24" text-anchor="middle">&gt;10 MeV Proton Flux</text>
<g transform="translate(1138.5,1019.73) rotate(-90)"><text x="0" y="0" font-size="24" fill="#000">(</text><text x="17.39" y="0" font-size="24" fill="#000">cm</text><text x="54.57" y="-9" font-size="16.8" fill="#000">2</text><text x="69.46" y="0" font-size="24" fill="#000">s</text><text x="82.56" y="-9" font-size="16.8" fill="#000">−1</text><text x="111.52" y="0" font-size="24" fill="#000">sr</text><text x="134.5" y="-9" font-size="16.8" fill="#000">−1</text><text x="168.09" y="0" font-size="24" fill="#000">)</text></g>
<text x="1502.5" y="1066" font-size="24" text-anchor="middle" fill="#000" >June 2019 (UT)</text>
</svg>
</body></html>
